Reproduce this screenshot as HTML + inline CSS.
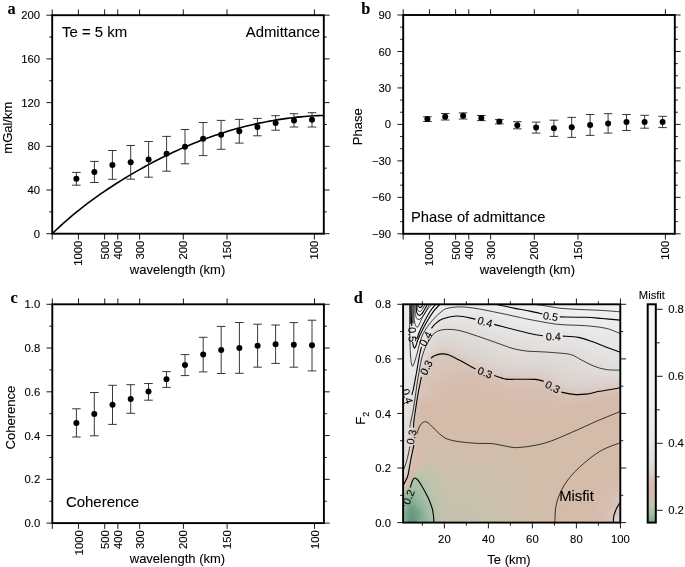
<!DOCTYPE html>
<html><head><meta charset="utf-8"><style>
html,body{margin:0;padding:0;background:#fff;}
svg{display:block;will-change:transform;}
text{font-family:"Liberation Sans",sans-serif;fill:#000;stroke:#000;stroke-width:0.1px;}
.pl{font-family:"Liberation Serif",serif;font-weight:bold;}
</style></head><body>
<svg width="685" height="567" viewBox="0 0 685 567">
<rect width="685" height="567" fill="#fff"/>
<line x1="46.40" y1="233.70" x2="52.20" y2="233.70" stroke="#000" stroke-width="0.9"/>
<line x1="323.80" y1="233.70" x2="329.60" y2="233.70" stroke="#000" stroke-width="0.9"/>
<text x="40.10" y="237.75" font-size="11.3" text-anchor="end" >0</text>
<line x1="49.20" y1="211.85" x2="52.20" y2="211.85" stroke="#000" stroke-width="0.9"/>
<line x1="323.80" y1="211.85" x2="326.80" y2="211.85" stroke="#000" stroke-width="0.9"/>
<line x1="46.40" y1="190.00" x2="52.20" y2="190.00" stroke="#000" stroke-width="0.9"/>
<line x1="323.80" y1="190.00" x2="329.60" y2="190.00" stroke="#000" stroke-width="0.9"/>
<text x="40.10" y="194.05" font-size="11.3" text-anchor="end" >40</text>
<line x1="49.20" y1="168.15" x2="52.20" y2="168.15" stroke="#000" stroke-width="0.9"/>
<line x1="323.80" y1="168.15" x2="326.80" y2="168.15" stroke="#000" stroke-width="0.9"/>
<line x1="46.40" y1="146.30" x2="52.20" y2="146.30" stroke="#000" stroke-width="0.9"/>
<line x1="323.80" y1="146.30" x2="329.60" y2="146.30" stroke="#000" stroke-width="0.9"/>
<text x="40.10" y="150.35" font-size="11.3" text-anchor="end" >80</text>
<line x1="49.20" y1="124.45" x2="52.20" y2="124.45" stroke="#000" stroke-width="0.9"/>
<line x1="323.80" y1="124.45" x2="326.80" y2="124.45" stroke="#000" stroke-width="0.9"/>
<line x1="46.40" y1="102.60" x2="52.20" y2="102.60" stroke="#000" stroke-width="0.9"/>
<line x1="323.80" y1="102.60" x2="329.60" y2="102.60" stroke="#000" stroke-width="0.9"/>
<text x="40.10" y="106.65" font-size="11.3" text-anchor="end" >120</text>
<line x1="49.20" y1="80.75" x2="52.20" y2="80.75" stroke="#000" stroke-width="0.9"/>
<line x1="323.80" y1="80.75" x2="326.80" y2="80.75" stroke="#000" stroke-width="0.9"/>
<line x1="46.40" y1="58.90" x2="52.20" y2="58.90" stroke="#000" stroke-width="0.9"/>
<line x1="323.80" y1="58.90" x2="329.60" y2="58.90" stroke="#000" stroke-width="0.9"/>
<text x="40.10" y="62.95" font-size="11.3" text-anchor="end" >160</text>
<line x1="49.20" y1="37.05" x2="52.20" y2="37.05" stroke="#000" stroke-width="0.9"/>
<line x1="323.80" y1="37.05" x2="326.80" y2="37.05" stroke="#000" stroke-width="0.9"/>
<line x1="46.40" y1="15.20" x2="52.20" y2="15.20" stroke="#000" stroke-width="0.9"/>
<line x1="323.80" y1="15.20" x2="329.60" y2="15.20" stroke="#000" stroke-width="0.9"/>
<text x="40.10" y="19.25" font-size="11.3" text-anchor="end" >200</text>
<line x1="52.20" y1="233.70" x2="52.20" y2="239.50" stroke="#000" stroke-width="0.9"/>
<line x1="52.20" y1="9.40" x2="52.20" y2="15.20" stroke="#000" stroke-width="0.9"/>
<line x1="78.42" y1="233.70" x2="78.42" y2="239.50" stroke="#000" stroke-width="0.9"/>
<line x1="78.42" y1="9.40" x2="78.42" y2="15.20" stroke="#000" stroke-width="0.9"/>
<text transform="translate(82.47,240.70) rotate(-90)" font-size="11.3" text-anchor="end">1000</text>
<line x1="104.64" y1="233.70" x2="104.64" y2="239.50" stroke="#000" stroke-width="0.9"/>
<line x1="104.64" y1="9.40" x2="104.64" y2="15.20" stroke="#000" stroke-width="0.9"/>
<text transform="translate(108.69,240.70) rotate(-90)" font-size="11.3" text-anchor="end">500</text>
<line x1="117.75" y1="233.70" x2="117.75" y2="239.50" stroke="#000" stroke-width="0.9"/>
<line x1="117.75" y1="9.40" x2="117.75" y2="15.20" stroke="#000" stroke-width="0.9"/>
<text transform="translate(121.80,240.70) rotate(-90)" font-size="11.3" text-anchor="end">400</text>
<line x1="139.60" y1="233.70" x2="139.60" y2="239.50" stroke="#000" stroke-width="0.9"/>
<line x1="139.60" y1="9.40" x2="139.60" y2="15.20" stroke="#000" stroke-width="0.9"/>
<text transform="translate(143.65,240.70) rotate(-90)" font-size="11.3" text-anchor="end">300</text>
<line x1="183.30" y1="233.70" x2="183.30" y2="239.50" stroke="#000" stroke-width="0.9"/>
<line x1="183.30" y1="9.40" x2="183.30" y2="15.20" stroke="#000" stroke-width="0.9"/>
<text transform="translate(187.35,240.70) rotate(-90)" font-size="11.3" text-anchor="end">200</text>
<line x1="227.00" y1="233.70" x2="227.00" y2="239.50" stroke="#000" stroke-width="0.9"/>
<line x1="227.00" y1="9.40" x2="227.00" y2="15.20" stroke="#000" stroke-width="0.9"/>
<text transform="translate(231.05,240.70) rotate(-90)" font-size="11.3" text-anchor="end">150</text>
<line x1="314.40" y1="233.70" x2="314.40" y2="239.50" stroke="#000" stroke-width="0.9"/>
<line x1="314.40" y1="9.40" x2="314.40" y2="15.20" stroke="#000" stroke-width="0.9"/>
<text transform="translate(318.45,240.70) rotate(-90)" font-size="11.3" text-anchor="end">100</text>
<clipPath id="ca"><rect x="52.2" y="15.2" width="271.6" height="218.5"/></clipPath>
<polyline points="52.30,233.60 55.75,230.28 59.20,227.05 62.66,223.91 66.11,220.84 69.56,217.85 73.01,214.93 76.46,212.08 79.92,209.31 83.37,206.59 86.82,203.95 90.27,201.36 93.72,198.83 97.17,196.36 100.63,193.94 104.08,191.57 107.53,189.24 110.98,186.97 114.43,184.73 117.89,182.54 121.34,180.38 124.79,178.26 128.24,176.17 131.69,174.12 135.15,172.10 138.60,170.12 142.05,168.18 145.50,166.27 148.95,164.40 152.41,162.56 155.86,160.76 159.31,158.99 162.76,157.26 166.21,155.56 169.66,153.91 173.12,152.28 176.57,150.69 180.02,149.14 183.47,147.62 186.92,146.14 190.38,144.70 193.83,143.28 197.28,141.91 200.73,140.57 204.18,139.26 207.64,137.99 211.09,136.76 214.54,135.56 217.99,134.39 221.44,133.26 224.89,132.17 228.35,131.11 231.80,130.08 235.25,129.09 238.70,128.14 242.15,127.22 245.61,126.33 249.06,125.48 252.51,124.66 255.96,123.88 259.41,123.13 262.87,122.42 266.32,121.74 269.77,121.09 273.22,120.48 276.67,119.91 280.13,119.37 283.58,118.86 287.03,118.38 290.48,117.94 293.93,117.54 297.38,117.17 300.84,116.83 304.29,116.53 307.74,116.26 311.19,116.02 314.64,115.82 318.10,115.65 321.55,115.52 325.00,115.42" fill="none" stroke="#000" stroke-width="1.6" stroke-linejoin="round" clip-path="url(#ca)"/>
<line x1="76.40" y1="172.40" x2="76.40" y2="185.20" stroke="#222" stroke-width="0.9"/>
<line x1="72.10" y1="172.40" x2="80.70" y2="172.40" stroke="#222" stroke-width="0.9"/>
<line x1="72.10" y1="185.20" x2="80.70" y2="185.20" stroke="#222" stroke-width="0.9"/>
<circle cx="76.40" cy="178.70" r="3.0" fill="#000"/>
<line x1="94.40" y1="161.40" x2="94.40" y2="182.50" stroke="#222" stroke-width="0.9"/>
<line x1="90.10" y1="161.40" x2="98.70" y2="161.40" stroke="#222" stroke-width="0.9"/>
<line x1="90.10" y1="182.50" x2="98.70" y2="182.50" stroke="#222" stroke-width="0.9"/>
<circle cx="94.40" cy="171.90" r="3.0" fill="#000"/>
<line x1="112.40" y1="150.50" x2="112.40" y2="179.30" stroke="#222" stroke-width="0.9"/>
<line x1="108.10" y1="150.50" x2="116.70" y2="150.50" stroke="#222" stroke-width="0.9"/>
<line x1="108.10" y1="179.30" x2="116.70" y2="179.30" stroke="#222" stroke-width="0.9"/>
<circle cx="112.40" cy="165.00" r="3.0" fill="#000"/>
<line x1="130.70" y1="145.50" x2="130.70" y2="179.20" stroke="#222" stroke-width="0.9"/>
<line x1="126.40" y1="145.50" x2="135.00" y2="145.50" stroke="#222" stroke-width="0.9"/>
<line x1="126.40" y1="179.20" x2="135.00" y2="179.20" stroke="#222" stroke-width="0.9"/>
<circle cx="130.70" cy="162.20" r="3.0" fill="#000"/>
<line x1="148.60" y1="141.50" x2="148.60" y2="177.20" stroke="#222" stroke-width="0.9"/>
<line x1="144.30" y1="141.50" x2="152.90" y2="141.50" stroke="#222" stroke-width="0.9"/>
<line x1="144.30" y1="177.20" x2="152.90" y2="177.20" stroke="#222" stroke-width="0.9"/>
<circle cx="148.60" cy="159.40" r="3.0" fill="#000"/>
<line x1="166.60" y1="136.40" x2="166.60" y2="171.20" stroke="#222" stroke-width="0.9"/>
<line x1="162.30" y1="136.40" x2="170.90" y2="136.40" stroke="#222" stroke-width="0.9"/>
<line x1="162.30" y1="171.20" x2="170.90" y2="171.20" stroke="#222" stroke-width="0.9"/>
<circle cx="166.60" cy="153.70" r="3.0" fill="#000"/>
<line x1="185.00" y1="129.50" x2="185.00" y2="163.80" stroke="#222" stroke-width="0.9"/>
<line x1="180.70" y1="129.50" x2="189.30" y2="129.50" stroke="#222" stroke-width="0.9"/>
<line x1="180.70" y1="163.80" x2="189.30" y2="163.80" stroke="#222" stroke-width="0.9"/>
<circle cx="185.00" cy="146.70" r="3.0" fill="#000"/>
<line x1="203.10" y1="122.50" x2="203.10" y2="155.60" stroke="#222" stroke-width="0.9"/>
<line x1="198.80" y1="122.50" x2="207.40" y2="122.50" stroke="#222" stroke-width="0.9"/>
<line x1="198.80" y1="155.60" x2="207.40" y2="155.60" stroke="#222" stroke-width="0.9"/>
<circle cx="203.10" cy="138.80" r="3.0" fill="#000"/>
<line x1="221.10" y1="120.40" x2="221.10" y2="149.30" stroke="#222" stroke-width="0.9"/>
<line x1="216.80" y1="120.40" x2="225.40" y2="120.40" stroke="#222" stroke-width="0.9"/>
<line x1="216.80" y1="149.30" x2="225.40" y2="149.30" stroke="#222" stroke-width="0.9"/>
<circle cx="221.10" cy="134.70" r="3.0" fill="#000"/>
<line x1="239.30" y1="119.40" x2="239.30" y2="143.10" stroke="#222" stroke-width="0.9"/>
<line x1="235.00" y1="119.40" x2="243.60" y2="119.40" stroke="#222" stroke-width="0.9"/>
<line x1="235.00" y1="143.10" x2="243.60" y2="143.10" stroke="#222" stroke-width="0.9"/>
<circle cx="239.30" cy="131.30" r="3.0" fill="#000"/>
<line x1="257.40" y1="118.40" x2="257.40" y2="135.80" stroke="#222" stroke-width="0.9"/>
<line x1="253.10" y1="118.40" x2="261.70" y2="118.40" stroke="#222" stroke-width="0.9"/>
<line x1="253.10" y1="135.80" x2="261.70" y2="135.80" stroke="#222" stroke-width="0.9"/>
<circle cx="257.40" cy="127.00" r="3.0" fill="#000"/>
<line x1="275.60" y1="115.70" x2="275.60" y2="130.20" stroke="#222" stroke-width="0.9"/>
<line x1="271.30" y1="115.70" x2="279.90" y2="115.70" stroke="#222" stroke-width="0.9"/>
<line x1="271.30" y1="130.20" x2="279.90" y2="130.20" stroke="#222" stroke-width="0.9"/>
<circle cx="275.60" cy="122.90" r="3.0" fill="#000"/>
<line x1="294.00" y1="113.70" x2="294.00" y2="127.00" stroke="#222" stroke-width="0.9"/>
<line x1="289.70" y1="113.70" x2="298.30" y2="113.70" stroke="#222" stroke-width="0.9"/>
<line x1="289.70" y1="127.00" x2="298.30" y2="127.00" stroke="#222" stroke-width="0.9"/>
<circle cx="294.00" cy="120.40" r="3.0" fill="#000"/>
<line x1="312.00" y1="112.70" x2="312.00" y2="127.00" stroke="#222" stroke-width="0.9"/>
<line x1="307.70" y1="112.70" x2="316.30" y2="112.70" stroke="#222" stroke-width="0.9"/>
<line x1="307.70" y1="127.00" x2="316.30" y2="127.00" stroke="#222" stroke-width="0.9"/>
<circle cx="312.00" cy="119.80" r="3.0" fill="#000"/>
<rect x="52.20" y="15.20" width="271.60" height="218.50" fill="none" stroke="#000" stroke-width="1.9"/>
<text x="62.00" y="36.60" font-size="15.0" text-anchor="start" textLength="65.2" lengthAdjust="spacingAndGlyphs">Te = 5 km</text>
<text x="245.80" y="36.50" font-size="15.0" text-anchor="start" textLength="74.3" lengthAdjust="spacingAndGlyphs">Admittance</text>
<text transform="translate(11.50,127.70) rotate(-90)" font-size="13.0" text-anchor="middle">mGal/km</text>
<text x="177.55" y="274.30" font-size="13.0" text-anchor="middle" >wavelength (km)</text>
<text x="7.5" y="13.8" font-size="16.3" class="pl">a</text>
<line x1="397.40" y1="233.80" x2="403.20" y2="233.80" stroke="#000" stroke-width="0.9"/>
<line x1="674.80" y1="233.80" x2="680.60" y2="233.80" stroke="#000" stroke-width="0.9"/>
<text x="391.10" y="237.85" font-size="11.3" text-anchor="end" >&#8722;90</text>
<line x1="400.20" y1="221.64" x2="403.20" y2="221.64" stroke="#000" stroke-width="0.9"/>
<line x1="674.80" y1="221.64" x2="677.80" y2="221.64" stroke="#000" stroke-width="0.9"/>
<line x1="400.20" y1="209.49" x2="403.20" y2="209.49" stroke="#000" stroke-width="0.9"/>
<line x1="674.80" y1="209.49" x2="677.80" y2="209.49" stroke="#000" stroke-width="0.9"/>
<line x1="397.40" y1="197.33" x2="403.20" y2="197.33" stroke="#000" stroke-width="0.9"/>
<line x1="674.80" y1="197.33" x2="680.60" y2="197.33" stroke="#000" stroke-width="0.9"/>
<text x="391.10" y="201.38" font-size="11.3" text-anchor="end" >&#8722;60</text>
<line x1="400.20" y1="185.18" x2="403.20" y2="185.18" stroke="#000" stroke-width="0.9"/>
<line x1="674.80" y1="185.18" x2="677.80" y2="185.18" stroke="#000" stroke-width="0.9"/>
<line x1="400.20" y1="173.02" x2="403.20" y2="173.02" stroke="#000" stroke-width="0.9"/>
<line x1="674.80" y1="173.02" x2="677.80" y2="173.02" stroke="#000" stroke-width="0.9"/>
<line x1="397.40" y1="160.87" x2="403.20" y2="160.87" stroke="#000" stroke-width="0.9"/>
<line x1="674.80" y1="160.87" x2="680.60" y2="160.87" stroke="#000" stroke-width="0.9"/>
<text x="391.10" y="164.92" font-size="11.3" text-anchor="end" >&#8722;30</text>
<line x1="400.20" y1="148.71" x2="403.20" y2="148.71" stroke="#000" stroke-width="0.9"/>
<line x1="674.80" y1="148.71" x2="677.80" y2="148.71" stroke="#000" stroke-width="0.9"/>
<line x1="400.20" y1="136.56" x2="403.20" y2="136.56" stroke="#000" stroke-width="0.9"/>
<line x1="674.80" y1="136.56" x2="677.80" y2="136.56" stroke="#000" stroke-width="0.9"/>
<line x1="397.40" y1="124.40" x2="403.20" y2="124.40" stroke="#000" stroke-width="0.9"/>
<line x1="674.80" y1="124.40" x2="680.60" y2="124.40" stroke="#000" stroke-width="0.9"/>
<text x="391.10" y="128.45" font-size="11.3" text-anchor="end" >0</text>
<line x1="400.20" y1="112.24" x2="403.20" y2="112.24" stroke="#000" stroke-width="0.9"/>
<line x1="674.80" y1="112.24" x2="677.80" y2="112.24" stroke="#000" stroke-width="0.9"/>
<line x1="400.20" y1="100.09" x2="403.20" y2="100.09" stroke="#000" stroke-width="0.9"/>
<line x1="674.80" y1="100.09" x2="677.80" y2="100.09" stroke="#000" stroke-width="0.9"/>
<line x1="397.40" y1="87.93" x2="403.20" y2="87.93" stroke="#000" stroke-width="0.9"/>
<line x1="674.80" y1="87.93" x2="680.60" y2="87.93" stroke="#000" stroke-width="0.9"/>
<text x="391.10" y="91.98" font-size="11.3" text-anchor="end" >30</text>
<line x1="400.20" y1="75.78" x2="403.20" y2="75.78" stroke="#000" stroke-width="0.9"/>
<line x1="674.80" y1="75.78" x2="677.80" y2="75.78" stroke="#000" stroke-width="0.9"/>
<line x1="400.20" y1="63.62" x2="403.20" y2="63.62" stroke="#000" stroke-width="0.9"/>
<line x1="674.80" y1="63.62" x2="677.80" y2="63.62" stroke="#000" stroke-width="0.9"/>
<line x1="397.40" y1="51.47" x2="403.20" y2="51.47" stroke="#000" stroke-width="0.9"/>
<line x1="674.80" y1="51.47" x2="680.60" y2="51.47" stroke="#000" stroke-width="0.9"/>
<text x="391.10" y="55.52" font-size="11.3" text-anchor="end" >60</text>
<line x1="400.20" y1="39.31" x2="403.20" y2="39.31" stroke="#000" stroke-width="0.9"/>
<line x1="674.80" y1="39.31" x2="677.80" y2="39.31" stroke="#000" stroke-width="0.9"/>
<line x1="400.20" y1="27.16" x2="403.20" y2="27.16" stroke="#000" stroke-width="0.9"/>
<line x1="674.80" y1="27.16" x2="677.80" y2="27.16" stroke="#000" stroke-width="0.9"/>
<line x1="397.40" y1="15.00" x2="403.20" y2="15.00" stroke="#000" stroke-width="0.9"/>
<line x1="674.80" y1="15.00" x2="680.60" y2="15.00" stroke="#000" stroke-width="0.9"/>
<text x="391.10" y="19.05" font-size="11.3" text-anchor="end" >90</text>
<line x1="403.20" y1="233.80" x2="403.20" y2="239.60" stroke="#000" stroke-width="0.9"/>
<line x1="403.20" y1="9.20" x2="403.20" y2="15.00" stroke="#000" stroke-width="0.9"/>
<line x1="429.42" y1="233.80" x2="429.42" y2="239.60" stroke="#000" stroke-width="0.9"/>
<line x1="429.42" y1="9.20" x2="429.42" y2="15.00" stroke="#000" stroke-width="0.9"/>
<text transform="translate(433.47,240.80) rotate(-90)" font-size="11.3" text-anchor="end">1000</text>
<line x1="455.64" y1="233.80" x2="455.64" y2="239.60" stroke="#000" stroke-width="0.9"/>
<line x1="455.64" y1="9.20" x2="455.64" y2="15.00" stroke="#000" stroke-width="0.9"/>
<text transform="translate(459.69,240.80) rotate(-90)" font-size="11.3" text-anchor="end">500</text>
<line x1="468.75" y1="233.80" x2="468.75" y2="239.60" stroke="#000" stroke-width="0.9"/>
<line x1="468.75" y1="9.20" x2="468.75" y2="15.00" stroke="#000" stroke-width="0.9"/>
<text transform="translate(472.80,240.80) rotate(-90)" font-size="11.3" text-anchor="end">400</text>
<line x1="490.60" y1="233.80" x2="490.60" y2="239.60" stroke="#000" stroke-width="0.9"/>
<line x1="490.60" y1="9.20" x2="490.60" y2="15.00" stroke="#000" stroke-width="0.9"/>
<text transform="translate(494.65,240.80) rotate(-90)" font-size="11.3" text-anchor="end">300</text>
<line x1="534.30" y1="233.80" x2="534.30" y2="239.60" stroke="#000" stroke-width="0.9"/>
<line x1="534.30" y1="9.20" x2="534.30" y2="15.00" stroke="#000" stroke-width="0.9"/>
<text transform="translate(538.35,240.80) rotate(-90)" font-size="11.3" text-anchor="end">200</text>
<line x1="578.00" y1="233.80" x2="578.00" y2="239.60" stroke="#000" stroke-width="0.9"/>
<line x1="578.00" y1="9.20" x2="578.00" y2="15.00" stroke="#000" stroke-width="0.9"/>
<text transform="translate(582.05,240.80) rotate(-90)" font-size="11.3" text-anchor="end">150</text>
<line x1="665.40" y1="233.80" x2="665.40" y2="239.60" stroke="#000" stroke-width="0.9"/>
<line x1="665.40" y1="9.20" x2="665.40" y2="15.00" stroke="#000" stroke-width="0.9"/>
<text transform="translate(669.45,240.80) rotate(-90)" font-size="11.3" text-anchor="end">100</text>
<line x1="427.40" y1="116.80" x2="427.40" y2="121.50" stroke="#222" stroke-width="0.9"/>
<line x1="423.10" y1="116.80" x2="431.70" y2="116.80" stroke="#222" stroke-width="0.9"/>
<line x1="423.10" y1="121.50" x2="431.70" y2="121.50" stroke="#222" stroke-width="0.9"/>
<circle cx="427.40" cy="119.00" r="3.0" fill="#000"/>
<line x1="445.20" y1="113.50" x2="445.20" y2="120.00" stroke="#222" stroke-width="0.9"/>
<line x1="440.90" y1="113.50" x2="449.50" y2="113.50" stroke="#222" stroke-width="0.9"/>
<line x1="440.90" y1="120.00" x2="449.50" y2="120.00" stroke="#222" stroke-width="0.9"/>
<circle cx="445.20" cy="116.80" r="3.0" fill="#000"/>
<line x1="463.10" y1="112.90" x2="463.10" y2="119.00" stroke="#222" stroke-width="0.9"/>
<line x1="458.80" y1="112.90" x2="467.40" y2="112.90" stroke="#222" stroke-width="0.9"/>
<line x1="458.80" y1="119.00" x2="467.40" y2="119.00" stroke="#222" stroke-width="0.9"/>
<circle cx="463.10" cy="115.70" r="3.0" fill="#000"/>
<line x1="481.30" y1="115.50" x2="481.30" y2="120.60" stroke="#222" stroke-width="0.9"/>
<line x1="477.00" y1="115.50" x2="485.60" y2="115.50" stroke="#222" stroke-width="0.9"/>
<line x1="477.00" y1="120.60" x2="485.60" y2="120.60" stroke="#222" stroke-width="0.9"/>
<circle cx="481.30" cy="118.00" r="3.0" fill="#000"/>
<line x1="499.30" y1="119.60" x2="499.30" y2="123.90" stroke="#222" stroke-width="0.9"/>
<line x1="495.00" y1="119.60" x2="503.60" y2="119.60" stroke="#222" stroke-width="0.9"/>
<line x1="495.00" y1="123.90" x2="503.60" y2="123.90" stroke="#222" stroke-width="0.9"/>
<circle cx="499.30" cy="121.50" r="3.0" fill="#000"/>
<line x1="517.30" y1="121.70" x2="517.30" y2="128.80" stroke="#222" stroke-width="0.9"/>
<line x1="513.00" y1="121.70" x2="521.60" y2="121.70" stroke="#222" stroke-width="0.9"/>
<line x1="513.00" y1="128.80" x2="521.60" y2="128.80" stroke="#222" stroke-width="0.9"/>
<circle cx="517.30" cy="125.30" r="3.0" fill="#000"/>
<line x1="536.10" y1="122.10" x2="536.10" y2="133.10" stroke="#222" stroke-width="0.9"/>
<line x1="531.80" y1="122.10" x2="540.40" y2="122.10" stroke="#222" stroke-width="0.9"/>
<line x1="531.80" y1="133.10" x2="540.40" y2="133.10" stroke="#222" stroke-width="0.9"/>
<circle cx="536.10" cy="127.60" r="3.0" fill="#000"/>
<line x1="553.90" y1="120.20" x2="553.90" y2="136.40" stroke="#222" stroke-width="0.9"/>
<line x1="549.60" y1="120.20" x2="558.20" y2="120.20" stroke="#222" stroke-width="0.9"/>
<line x1="549.60" y1="136.40" x2="558.20" y2="136.40" stroke="#222" stroke-width="0.9"/>
<circle cx="553.90" cy="128.20" r="3.0" fill="#000"/>
<line x1="571.70" y1="117.40" x2="571.70" y2="137.40" stroke="#222" stroke-width="0.9"/>
<line x1="567.40" y1="117.40" x2="576.00" y2="117.40" stroke="#222" stroke-width="0.9"/>
<line x1="567.40" y1="137.40" x2="576.00" y2="137.40" stroke="#222" stroke-width="0.9"/>
<circle cx="571.70" cy="127.20" r="3.0" fill="#000"/>
<line x1="590.10" y1="114.50" x2="590.10" y2="135.40" stroke="#222" stroke-width="0.9"/>
<line x1="585.80" y1="114.50" x2="594.40" y2="114.50" stroke="#222" stroke-width="0.9"/>
<line x1="585.80" y1="135.40" x2="594.40" y2="135.40" stroke="#222" stroke-width="0.9"/>
<circle cx="590.10" cy="125.10" r="3.0" fill="#000"/>
<line x1="608.10" y1="113.70" x2="608.10" y2="133.10" stroke="#222" stroke-width="0.9"/>
<line x1="603.80" y1="113.70" x2="612.40" y2="113.70" stroke="#222" stroke-width="0.9"/>
<line x1="603.80" y1="133.10" x2="612.40" y2="133.10" stroke="#222" stroke-width="0.9"/>
<circle cx="608.10" cy="123.50" r="3.0" fill="#000"/>
<line x1="626.50" y1="114.50" x2="626.50" y2="130.50" stroke="#222" stroke-width="0.9"/>
<line x1="622.20" y1="114.50" x2="630.80" y2="114.50" stroke="#222" stroke-width="0.9"/>
<line x1="622.20" y1="130.50" x2="630.80" y2="130.50" stroke="#222" stroke-width="0.9"/>
<circle cx="626.50" cy="122.10" r="3.0" fill="#000"/>
<line x1="644.60" y1="115.30" x2="644.60" y2="128.20" stroke="#222" stroke-width="0.9"/>
<line x1="640.30" y1="115.30" x2="648.90" y2="115.30" stroke="#222" stroke-width="0.9"/>
<line x1="640.30" y1="128.20" x2="648.90" y2="128.20" stroke="#222" stroke-width="0.9"/>
<circle cx="644.60" cy="121.90" r="3.0" fill="#000"/>
<line x1="662.60" y1="116.30" x2="662.60" y2="127.60" stroke="#222" stroke-width="0.9"/>
<line x1="658.30" y1="116.30" x2="666.90" y2="116.30" stroke="#222" stroke-width="0.9"/>
<line x1="658.30" y1="127.60" x2="666.90" y2="127.60" stroke="#222" stroke-width="0.9"/>
<circle cx="662.60" cy="121.90" r="3.0" fill="#000"/>
<rect x="403.20" y="15.00" width="271.60" height="218.80" fill="none" stroke="#000" stroke-width="1.9"/>
<text x="411.00" y="221.50" font-size="15.0" text-anchor="start" textLength="134.4" lengthAdjust="spacingAndGlyphs">Phase of admittance</text>
<text transform="translate(362.20,126.70) rotate(-90)" font-size="13.0" text-anchor="middle">Phase</text>
<text x="527.35" y="274.30" font-size="13.0" text-anchor="middle" >wavelength (km)</text>
<text x="361.3" y="13.9" font-size="16.3" class="pl">b</text>
<line x1="46.50" y1="523.10" x2="52.30" y2="523.10" stroke="#000" stroke-width="0.9"/>
<line x1="323.90" y1="523.10" x2="329.70" y2="523.10" stroke="#000" stroke-width="0.9"/>
<text x="40.20" y="527.15" font-size="11.3" text-anchor="end" >0.0</text>
<line x1="49.30" y1="501.22" x2="52.30" y2="501.22" stroke="#000" stroke-width="0.9"/>
<line x1="323.90" y1="501.22" x2="326.90" y2="501.22" stroke="#000" stroke-width="0.9"/>
<line x1="46.50" y1="479.34" x2="52.30" y2="479.34" stroke="#000" stroke-width="0.9"/>
<line x1="323.90" y1="479.34" x2="329.70" y2="479.34" stroke="#000" stroke-width="0.9"/>
<text x="40.20" y="483.39" font-size="11.3" text-anchor="end" >0.2</text>
<line x1="49.30" y1="457.46" x2="52.30" y2="457.46" stroke="#000" stroke-width="0.9"/>
<line x1="323.90" y1="457.46" x2="326.90" y2="457.46" stroke="#000" stroke-width="0.9"/>
<line x1="46.50" y1="435.58" x2="52.30" y2="435.58" stroke="#000" stroke-width="0.9"/>
<line x1="323.90" y1="435.58" x2="329.70" y2="435.58" stroke="#000" stroke-width="0.9"/>
<text x="40.20" y="439.63" font-size="11.3" text-anchor="end" >0.4</text>
<line x1="49.30" y1="413.70" x2="52.30" y2="413.70" stroke="#000" stroke-width="0.9"/>
<line x1="323.90" y1="413.70" x2="326.90" y2="413.70" stroke="#000" stroke-width="0.9"/>
<line x1="46.50" y1="391.82" x2="52.30" y2="391.82" stroke="#000" stroke-width="0.9"/>
<line x1="323.90" y1="391.82" x2="329.70" y2="391.82" stroke="#000" stroke-width="0.9"/>
<text x="40.20" y="395.87" font-size="11.3" text-anchor="end" >0.6</text>
<line x1="49.30" y1="369.94" x2="52.30" y2="369.94" stroke="#000" stroke-width="0.9"/>
<line x1="323.90" y1="369.94" x2="326.90" y2="369.94" stroke="#000" stroke-width="0.9"/>
<line x1="46.50" y1="348.06" x2="52.30" y2="348.06" stroke="#000" stroke-width="0.9"/>
<line x1="323.90" y1="348.06" x2="329.70" y2="348.06" stroke="#000" stroke-width="0.9"/>
<text x="40.20" y="352.11" font-size="11.3" text-anchor="end" >0.8</text>
<line x1="49.30" y1="326.18" x2="52.30" y2="326.18" stroke="#000" stroke-width="0.9"/>
<line x1="323.90" y1="326.18" x2="326.90" y2="326.18" stroke="#000" stroke-width="0.9"/>
<line x1="46.50" y1="304.30" x2="52.30" y2="304.30" stroke="#000" stroke-width="0.9"/>
<line x1="323.90" y1="304.30" x2="329.70" y2="304.30" stroke="#000" stroke-width="0.9"/>
<text x="40.20" y="308.35" font-size="11.3" text-anchor="end" >1.0</text>
<line x1="52.30" y1="523.10" x2="52.30" y2="528.90" stroke="#000" stroke-width="0.9"/>
<line x1="52.30" y1="298.50" x2="52.30" y2="304.30" stroke="#000" stroke-width="0.9"/>
<line x1="78.52" y1="523.10" x2="78.52" y2="528.90" stroke="#000" stroke-width="0.9"/>
<line x1="78.52" y1="298.50" x2="78.52" y2="304.30" stroke="#000" stroke-width="0.9"/>
<text transform="translate(82.57,530.10) rotate(-90)" font-size="11.3" text-anchor="end">1000</text>
<line x1="104.74" y1="523.10" x2="104.74" y2="528.90" stroke="#000" stroke-width="0.9"/>
<line x1="104.74" y1="298.50" x2="104.74" y2="304.30" stroke="#000" stroke-width="0.9"/>
<text transform="translate(108.79,530.10) rotate(-90)" font-size="11.3" text-anchor="end">500</text>
<line x1="117.85" y1="523.10" x2="117.85" y2="528.90" stroke="#000" stroke-width="0.9"/>
<line x1="117.85" y1="298.50" x2="117.85" y2="304.30" stroke="#000" stroke-width="0.9"/>
<text transform="translate(121.90,530.10) rotate(-90)" font-size="11.3" text-anchor="end">400</text>
<line x1="139.70" y1="523.10" x2="139.70" y2="528.90" stroke="#000" stroke-width="0.9"/>
<line x1="139.70" y1="298.50" x2="139.70" y2="304.30" stroke="#000" stroke-width="0.9"/>
<text transform="translate(143.75,530.10) rotate(-90)" font-size="11.3" text-anchor="end">300</text>
<line x1="183.40" y1="523.10" x2="183.40" y2="528.90" stroke="#000" stroke-width="0.9"/>
<line x1="183.40" y1="298.50" x2="183.40" y2="304.30" stroke="#000" stroke-width="0.9"/>
<text transform="translate(187.45,530.10) rotate(-90)" font-size="11.3" text-anchor="end">200</text>
<line x1="227.10" y1="523.10" x2="227.10" y2="528.90" stroke="#000" stroke-width="0.9"/>
<line x1="227.10" y1="298.50" x2="227.10" y2="304.30" stroke="#000" stroke-width="0.9"/>
<text transform="translate(231.15,530.10) rotate(-90)" font-size="11.3" text-anchor="end">150</text>
<line x1="314.50" y1="523.10" x2="314.50" y2="528.90" stroke="#000" stroke-width="0.9"/>
<line x1="314.50" y1="298.50" x2="314.50" y2="304.30" stroke="#000" stroke-width="0.9"/>
<text transform="translate(318.55,530.10) rotate(-90)" font-size="11.3" text-anchor="end">100</text>
<line x1="76.40" y1="408.80" x2="76.40" y2="437.00" stroke="#222" stroke-width="0.9"/>
<line x1="72.10" y1="408.80" x2="80.70" y2="408.80" stroke="#222" stroke-width="0.9"/>
<line x1="72.10" y1="437.00" x2="80.70" y2="437.00" stroke="#222" stroke-width="0.9"/>
<circle cx="76.40" cy="423.10" r="3.0" fill="#000"/>
<line x1="94.30" y1="392.50" x2="94.30" y2="435.80" stroke="#222" stroke-width="0.9"/>
<line x1="90.00" y1="392.50" x2="98.60" y2="392.50" stroke="#222" stroke-width="0.9"/>
<line x1="90.00" y1="435.80" x2="98.60" y2="435.80" stroke="#222" stroke-width="0.9"/>
<circle cx="94.30" cy="413.90" r="3.0" fill="#000"/>
<line x1="112.50" y1="385.30" x2="112.50" y2="424.40" stroke="#222" stroke-width="0.9"/>
<line x1="108.20" y1="385.30" x2="116.80" y2="385.30" stroke="#222" stroke-width="0.9"/>
<line x1="108.20" y1="424.40" x2="116.80" y2="424.40" stroke="#222" stroke-width="0.9"/>
<circle cx="112.50" cy="404.70" r="3.0" fill="#000"/>
<line x1="130.70" y1="384.70" x2="130.70" y2="413.30" stroke="#222" stroke-width="0.9"/>
<line x1="126.40" y1="384.70" x2="135.00" y2="384.70" stroke="#222" stroke-width="0.9"/>
<line x1="126.40" y1="413.30" x2="135.00" y2="413.30" stroke="#222" stroke-width="0.9"/>
<circle cx="130.70" cy="399.00" r="3.0" fill="#000"/>
<line x1="148.50" y1="383.50" x2="148.50" y2="400.20" stroke="#222" stroke-width="0.9"/>
<line x1="144.20" y1="383.50" x2="152.80" y2="383.50" stroke="#222" stroke-width="0.9"/>
<line x1="144.20" y1="400.20" x2="152.80" y2="400.20" stroke="#222" stroke-width="0.9"/>
<circle cx="148.50" cy="391.50" r="3.0" fill="#000"/>
<line x1="166.50" y1="371.60" x2="166.50" y2="387.40" stroke="#222" stroke-width="0.9"/>
<line x1="162.20" y1="371.60" x2="170.80" y2="371.60" stroke="#222" stroke-width="0.9"/>
<line x1="162.20" y1="387.40" x2="170.80" y2="387.40" stroke="#222" stroke-width="0.9"/>
<circle cx="166.50" cy="379.20" r="3.0" fill="#000"/>
<line x1="185.00" y1="354.60" x2="185.00" y2="375.60" stroke="#222" stroke-width="0.9"/>
<line x1="180.70" y1="354.60" x2="189.30" y2="354.60" stroke="#222" stroke-width="0.9"/>
<line x1="180.70" y1="375.60" x2="189.30" y2="375.60" stroke="#222" stroke-width="0.9"/>
<circle cx="185.00" cy="365.10" r="3.0" fill="#000"/>
<line x1="203.20" y1="337.30" x2="203.20" y2="371.90" stroke="#222" stroke-width="0.9"/>
<line x1="198.90" y1="337.30" x2="207.50" y2="337.30" stroke="#222" stroke-width="0.9"/>
<line x1="198.90" y1="371.90" x2="207.50" y2="371.90" stroke="#222" stroke-width="0.9"/>
<circle cx="203.20" cy="354.60" r="3.0" fill="#000"/>
<line x1="221.20" y1="326.40" x2="221.20" y2="373.50" stroke="#222" stroke-width="0.9"/>
<line x1="216.90" y1="326.40" x2="225.50" y2="326.40" stroke="#222" stroke-width="0.9"/>
<line x1="216.90" y1="373.50" x2="225.50" y2="373.50" stroke="#222" stroke-width="0.9"/>
<circle cx="221.20" cy="349.90" r="3.0" fill="#000"/>
<line x1="239.40" y1="322.50" x2="239.40" y2="373.30" stroke="#222" stroke-width="0.9"/>
<line x1="235.10" y1="322.50" x2="243.70" y2="322.50" stroke="#222" stroke-width="0.9"/>
<line x1="235.10" y1="373.30" x2="243.70" y2="373.30" stroke="#222" stroke-width="0.9"/>
<circle cx="239.40" cy="348.00" r="3.0" fill="#000"/>
<line x1="257.60" y1="324.20" x2="257.60" y2="367.20" stroke="#222" stroke-width="0.9"/>
<line x1="253.30" y1="324.20" x2="261.90" y2="324.20" stroke="#222" stroke-width="0.9"/>
<line x1="253.30" y1="367.20" x2="261.90" y2="367.20" stroke="#222" stroke-width="0.9"/>
<circle cx="257.60" cy="345.70" r="3.0" fill="#000"/>
<line x1="275.60" y1="325.00" x2="275.60" y2="363.40" stroke="#222" stroke-width="0.9"/>
<line x1="271.30" y1="325.00" x2="279.90" y2="325.00" stroke="#222" stroke-width="0.9"/>
<line x1="271.30" y1="363.40" x2="279.90" y2="363.40" stroke="#222" stroke-width="0.9"/>
<circle cx="275.60" cy="344.30" r="3.0" fill="#000"/>
<line x1="293.80" y1="322.60" x2="293.80" y2="367.20" stroke="#222" stroke-width="0.9"/>
<line x1="289.50" y1="322.60" x2="298.10" y2="322.60" stroke="#222" stroke-width="0.9"/>
<line x1="289.50" y1="367.20" x2="298.10" y2="367.20" stroke="#222" stroke-width="0.9"/>
<circle cx="293.80" cy="344.80" r="3.0" fill="#000"/>
<line x1="312.00" y1="320.20" x2="312.00" y2="370.90" stroke="#222" stroke-width="0.9"/>
<line x1="307.70" y1="320.20" x2="316.30" y2="320.20" stroke="#222" stroke-width="0.9"/>
<line x1="307.70" y1="370.90" x2="316.30" y2="370.90" stroke="#222" stroke-width="0.9"/>
<circle cx="312.00" cy="345.20" r="3.0" fill="#000"/>
<rect x="52.30" y="304.30" width="271.60" height="218.80" fill="none" stroke="#000" stroke-width="1.9"/>
<text x="65.90" y="507.00" font-size="15.0" text-anchor="start" textLength="73.3" lengthAdjust="spacingAndGlyphs">Coherence</text>
<text transform="translate(15.40,417.60) rotate(-90)" font-size="13.0" text-anchor="middle">Coherence</text>
<text x="177.45" y="563.40" font-size="13.0" text-anchor="middle" >wavelength (km)</text>
<text x="10.4" y="302.8" font-size="16.3" class="pl">c</text>
<!--PANEL_D-->
<clipPath id="cd"><rect x="403.1" y="304.3" width="217.19999999999993" height="218.3"/></clipPath>
<filter id="bl" x="-5%" y="-5%" width="110%" height="110%"><feGaussianBlur stdDeviation="1.8"/></filter>
<g clip-path="url(#cd)"><g filter="url(#bl)" shape-rendering="crispEdges">
<rect x="395" y="296.3" width="4" height="4" fill="#ececeb"/>
<rect x="399" y="296.3" width="4" height="4" fill="#eaeae9"/>
<rect x="403" y="296.3" width="4" height="4" fill="#eaeae9"/>
<rect x="407" y="296.3" width="4" height="4" fill="#eaeae9"/>
<rect x="411" y="296.3" width="4" height="4" fill="#f2f2f1"/>
<rect x="415" y="296.3" width="4" height="4" fill="#f5f5f4"/>
<rect x="419" y="296.3" width="4" height="4" fill="#f7f7f6"/>
<rect x="423" y="296.3" width="4" height="4" fill="#f5f5f4"/>
<rect x="427" y="296.3" width="4" height="4" fill="#f3f3f2"/>
<rect x="431" y="296.3" width="4" height="4" fill="#f0f0ef"/>
<rect x="435" y="296.3" width="4" height="4" fill="#f2f2f1"/>
<rect x="439" y="296.3" width="4" height="4" fill="#eeeeed"/>
<rect x="443" y="296.3" width="4" height="4" fill="#eeeeed"/>
<rect x="447" y="296.3" width="4" height="4" fill="#eaeae9"/>
<rect x="451" y="296.3" width="4" height="4" fill="#eaeae9"/>
<rect x="455" y="296.3" width="4" height="4" fill="#eaeae9"/>
<rect x="459" y="296.3" width="4" height="4" fill="#eaeae9"/>
<rect x="463" y="296.3" width="4" height="4" fill="#ececeb"/>
<rect x="467" y="296.3" width="4" height="4" fill="#ececeb"/>
<rect x="471" y="296.3" width="4" height="4" fill="#ececeb"/>
<rect x="475" y="296.3" width="4" height="4" fill="#ececeb"/>
<rect x="479" y="296.3" width="4" height="4" fill="#eaeae9"/>
<rect x="483" y="296.3" width="4" height="4" fill="#eaeae9"/>
<rect x="487" y="296.3" width="4" height="4" fill="#eeeeed"/>
<rect x="491" y="296.3" width="4" height="4" fill="#eeeeed"/>
<rect x="495" y="296.3" width="4" height="4" fill="#eeeeed"/>
<rect x="499" y="296.3" width="4" height="4" fill="#eeeeed"/>
<rect x="503" y="296.3" width="4" height="4" fill="#eeeeed"/>
<rect x="507" y="296.3" width="4" height="4" fill="#eeeeed"/>
<rect x="511" y="296.3" width="4" height="4" fill="#eeeeed"/>
<rect x="515" y="296.3" width="4" height="4" fill="#eeeeed"/>
<rect x="519" y="296.3" width="4" height="4" fill="#eeeeed"/>
<rect x="523" y="296.3" width="4" height="4" fill="#f0f0ef"/>
<rect x="527" y="296.3" width="4" height="4" fill="#f0f0ef"/>
<rect x="531" y="296.3" width="4" height="4" fill="#f0f0ef"/>
<rect x="535" y="296.3" width="4" height="4" fill="#f0f0ef"/>
<rect x="539" y="296.3" width="4" height="4" fill="#f0f0ef"/>
<rect x="543" y="296.3" width="4" height="4" fill="#f0f0ef"/>
<rect x="547" y="296.3" width="4" height="4" fill="#f0f0ef"/>
<rect x="551" y="296.3" width="4" height="4" fill="#f0f0ef"/>
<rect x="555" y="296.3" width="4" height="4" fill="#f0f0ef"/>
<rect x="559" y="296.3" width="4" height="4" fill="#f0f0ef"/>
<rect x="563" y="296.3" width="4" height="4" fill="#f0f0ef"/>
<rect x="567" y="296.3" width="4" height="4" fill="#f0f0ef"/>
<rect x="571" y="296.3" width="4" height="4" fill="#f0f0ef"/>
<rect x="575" y="296.3" width="4" height="4" fill="#f0f0ef"/>
<rect x="579" y="296.3" width="4" height="4" fill="#f0f0ef"/>
<rect x="583" y="296.3" width="4" height="4" fill="#f0f0ef"/>
<rect x="587" y="296.3" width="4" height="4" fill="#f0f0ef"/>
<rect x="591" y="296.3" width="4" height="4" fill="#f0f0ef"/>
<rect x="595" y="296.3" width="4" height="4" fill="#f0f0ef"/>
<rect x="599" y="296.3" width="4" height="4" fill="#f0f0ef"/>
<rect x="603" y="296.3" width="4" height="4" fill="#f0f0ef"/>
<rect x="607" y="296.3" width="4" height="4" fill="#f0f0ef"/>
<rect x="611" y="296.3" width="4" height="4" fill="#f1f1f0"/>
<rect x="615" y="296.3" width="4" height="4" fill="#f1f1f0"/>
<rect x="619" y="296.3" width="4" height="4" fill="#f1f1f0"/>
<rect x="623" y="296.3" width="4" height="4" fill="#f1f1f0"/>
<rect x="627" y="296.3" width="4" height="4" fill="#f1f1f0"/>
<rect x="395" y="300.3" width="4" height="4" fill="#ececeb"/>
<rect x="399" y="300.3" width="4" height="4" fill="#ececeb"/>
<rect x="403" y="300.3" width="4" height="4" fill="#eaeae9"/>
<rect x="407" y="300.3" width="4" height="4" fill="#eaeae9"/>
<rect x="411" y="300.3" width="4" height="4" fill="#f2f2f1"/>
<rect x="415" y="300.3" width="4" height="4" fill="#f5f5f4"/>
<rect x="419" y="300.3" width="4" height="4" fill="#f7f7f6"/>
<rect x="423" y="300.3" width="4" height="4" fill="#f5f5f4"/>
<rect x="427" y="300.3" width="4" height="4" fill="#f3f3f2"/>
<rect x="431" y="300.3" width="4" height="4" fill="#f0f0ef"/>
<rect x="435" y="300.3" width="4" height="4" fill="#f2f2f1"/>
<rect x="439" y="300.3" width="4" height="4" fill="#eeeeed"/>
<rect x="443" y="300.3" width="4" height="4" fill="#eeeeed"/>
<rect x="447" y="300.3" width="4" height="4" fill="#eaeae9"/>
<rect x="451" y="300.3" width="4" height="4" fill="#eaeae9"/>
<rect x="455" y="300.3" width="4" height="4" fill="#eaeae9"/>
<rect x="459" y="300.3" width="4" height="4" fill="#eaeae9"/>
<rect x="463" y="300.3" width="4" height="4" fill="#eaeae9"/>
<rect x="467" y="300.3" width="4" height="4" fill="#ececeb"/>
<rect x="471" y="300.3" width="4" height="4" fill="#ececeb"/>
<rect x="475" y="300.3" width="4" height="4" fill="#eaeae9"/>
<rect x="479" y="300.3" width="4" height="4" fill="#eaeae9"/>
<rect x="483" y="300.3" width="4" height="4" fill="#eaeae9"/>
<rect x="487" y="300.3" width="4" height="4" fill="#eeeeed"/>
<rect x="491" y="300.3" width="4" height="4" fill="#eeeeed"/>
<rect x="495" y="300.3" width="4" height="4" fill="#eeeeed"/>
<rect x="499" y="300.3" width="4" height="4" fill="#eeeeed"/>
<rect x="503" y="300.3" width="4" height="4" fill="#eeeeed"/>
<rect x="507" y="300.3" width="4" height="4" fill="#eeeeed"/>
<rect x="511" y="300.3" width="4" height="4" fill="#eeeeed"/>
<rect x="515" y="300.3" width="4" height="4" fill="#eeeeed"/>
<rect x="519" y="300.3" width="4" height="4" fill="#eeeeed"/>
<rect x="523" y="300.3" width="4" height="4" fill="#eeeeed"/>
<rect x="527" y="300.3" width="4" height="4" fill="#f0f0ef"/>
<rect x="531" y="300.3" width="4" height="4" fill="#f0f0ef"/>
<rect x="535" y="300.3" width="4" height="4" fill="#f0f0ef"/>
<rect x="539" y="300.3" width="4" height="4" fill="#f0f0ef"/>
<rect x="543" y="300.3" width="4" height="4" fill="#f0f0ef"/>
<rect x="547" y="300.3" width="4" height="4" fill="#f0f0ef"/>
<rect x="551" y="300.3" width="4" height="4" fill="#f0f0ef"/>
<rect x="555" y="300.3" width="4" height="4" fill="#f0f0ef"/>
<rect x="559" y="300.3" width="4" height="4" fill="#f0f0ef"/>
<rect x="563" y="300.3" width="4" height="4" fill="#f0f0ef"/>
<rect x="567" y="300.3" width="4" height="4" fill="#f0f0ef"/>
<rect x="571" y="300.3" width="4" height="4" fill="#f0f0ef"/>
<rect x="575" y="300.3" width="4" height="4" fill="#f0f0ef"/>
<rect x="579" y="300.3" width="4" height="4" fill="#f0f0ef"/>
<rect x="583" y="300.3" width="4" height="4" fill="#f0f0ef"/>
<rect x="587" y="300.3" width="4" height="4" fill="#f0f0ef"/>
<rect x="591" y="300.3" width="4" height="4" fill="#f0f0ef"/>
<rect x="595" y="300.3" width="4" height="4" fill="#f0f0ef"/>
<rect x="599" y="300.3" width="4" height="4" fill="#f0f0ef"/>
<rect x="603" y="300.3" width="4" height="4" fill="#f0f0ef"/>
<rect x="607" y="300.3" width="4" height="4" fill="#f0f0ef"/>
<rect x="611" y="300.3" width="4" height="4" fill="#f1f1f0"/>
<rect x="615" y="300.3" width="4" height="4" fill="#f1f1f0"/>
<rect x="619" y="300.3" width="4" height="4" fill="#f1f1f0"/>
<rect x="623" y="300.3" width="4" height="4" fill="#f1f1f0"/>
<rect x="627" y="300.3" width="4" height="4" fill="#f1f1f0"/>
<rect x="395" y="304.3" width="4" height="4" fill="#ececeb"/>
<rect x="399" y="304.3" width="4" height="4" fill="#ececeb"/>
<rect x="403" y="304.3" width="4" height="4" fill="#ececeb"/>
<rect x="407" y="304.3" width="4" height="4" fill="#eaeae9"/>
<rect x="411" y="304.3" width="4" height="4" fill="#f2f2f1"/>
<rect x="415" y="304.3" width="4" height="4" fill="#f5f5f4"/>
<rect x="419" y="304.3" width="4" height="4" fill="#f7f7f6"/>
<rect x="423" y="304.3" width="4" height="4" fill="#f5f5f4"/>
<rect x="427" y="304.3" width="4" height="4" fill="#f2f2f1"/>
<rect x="431" y="304.3" width="4" height="4" fill="#f1f1f0"/>
<rect x="435" y="304.3" width="4" height="4" fill="#efefee"/>
<rect x="439" y="304.3" width="4" height="4" fill="#ededec"/>
<rect x="443" y="304.3" width="4" height="4" fill="#ececeb"/>
<rect x="447" y="304.3" width="4" height="4" fill="#ebebea"/>
<rect x="451" y="304.3" width="4" height="4" fill="#ebebea"/>
<rect x="455" y="304.3" width="4" height="4" fill="#ebebea"/>
<rect x="459" y="304.3" width="4" height="4" fill="#eaeae9"/>
<rect x="463" y="304.3" width="4" height="4" fill="#eaeae9"/>
<rect x="467" y="304.3" width="4" height="4" fill="#ebebea"/>
<rect x="471" y="304.3" width="4" height="4" fill="#ebebea"/>
<rect x="475" y="304.3" width="4" height="4" fill="#ebebea"/>
<rect x="479" y="304.3" width="4" height="4" fill="#ececeb"/>
<rect x="483" y="304.3" width="4" height="4" fill="#ececeb"/>
<rect x="487" y="304.3" width="4" height="4" fill="#ececeb"/>
<rect x="491" y="304.3" width="4" height="4" fill="#ededec"/>
<rect x="495" y="304.3" width="4" height="4" fill="#ededec"/>
<rect x="499" y="304.3" width="4" height="4" fill="#eeeeed"/>
<rect x="503" y="304.3" width="4" height="4" fill="#eeeeed"/>
<rect x="507" y="304.3" width="4" height="4" fill="#eeeeed"/>
<rect x="511" y="304.3" width="4" height="4" fill="#eeeeed"/>
<rect x="515" y="304.3" width="4" height="4" fill="#efefee"/>
<rect x="519" y="304.3" width="4" height="4" fill="#efefee"/>
<rect x="523" y="304.3" width="4" height="4" fill="#efefee"/>
<rect x="527" y="304.3" width="4" height="4" fill="#efefee"/>
<rect x="531" y="304.3" width="4" height="4" fill="#efefee"/>
<rect x="535" y="304.3" width="4" height="4" fill="#f0f0ef"/>
<rect x="539" y="304.3" width="4" height="4" fill="#f0f0ef"/>
<rect x="543" y="304.3" width="4" height="4" fill="#f0f0ef"/>
<rect x="547" y="304.3" width="4" height="4" fill="#f0f0ef"/>
<rect x="551" y="304.3" width="4" height="4" fill="#f0f0ef"/>
<rect x="555" y="304.3" width="4" height="4" fill="#f0f0ef"/>
<rect x="559" y="304.3" width="4" height="4" fill="#f0f0ef"/>
<rect x="563" y="304.3" width="4" height="4" fill="#f0f0ef"/>
<rect x="567" y="304.3" width="4" height="4" fill="#f0f0ef"/>
<rect x="571" y="304.3" width="4" height="4" fill="#f0f0ef"/>
<rect x="575" y="304.3" width="4" height="4" fill="#f0f0ef"/>
<rect x="579" y="304.3" width="4" height="4" fill="#f0f0ef"/>
<rect x="583" y="304.3" width="4" height="4" fill="#f1f1f0"/>
<rect x="587" y="304.3" width="4" height="4" fill="#f1f1f0"/>
<rect x="591" y="304.3" width="4" height="4" fill="#f1f1f0"/>
<rect x="595" y="304.3" width="4" height="4" fill="#f1f1f0"/>
<rect x="599" y="304.3" width="4" height="4" fill="#f1f1f0"/>
<rect x="603" y="304.3" width="4" height="4" fill="#f1f1f0"/>
<rect x="607" y="304.3" width="4" height="4" fill="#f1f1f0"/>
<rect x="611" y="304.3" width="4" height="4" fill="#f1f1f0"/>
<rect x="615" y="304.3" width="4" height="4" fill="#f1f1f0"/>
<rect x="619" y="304.3" width="4" height="4" fill="#f1f1f0"/>
<rect x="623" y="304.3" width="4" height="4" fill="#f1f1f0"/>
<rect x="627" y="304.3" width="4" height="4" fill="#f1f1f0"/>
<rect x="395" y="308.3" width="4" height="4" fill="#ececeb"/>
<rect x="399" y="308.3" width="4" height="4" fill="#ececeb"/>
<rect x="403" y="308.3" width="4" height="4" fill="#ebebea"/>
<rect x="407" y="308.3" width="4" height="4" fill="#eaeae9"/>
<rect x="411" y="308.3" width="4" height="4" fill="#f2f2f1"/>
<rect x="415" y="308.3" width="4" height="4" fill="#f5f5f4"/>
<rect x="419" y="308.3" width="4" height="4" fill="#f6f6f5"/>
<rect x="423" y="308.3" width="4" height="4" fill="#f4f4f3"/>
<rect x="427" y="308.3" width="4" height="4" fill="#f1f1f0"/>
<rect x="431" y="308.3" width="4" height="4" fill="#efefee"/>
<rect x="435" y="308.3" width="4" height="4" fill="#ededec"/>
<rect x="439" y="308.3" width="4" height="4" fill="#ebebea"/>
<rect x="443" y="308.3" width="4" height="4" fill="#eaeae9"/>
<rect x="447" y="308.3" width="4" height="4" fill="#e9e9e8"/>
<rect x="451" y="308.3" width="4" height="4" fill="#e9e9e8"/>
<rect x="455" y="308.3" width="4" height="4" fill="#e9e8e7"/>
<rect x="459" y="308.3" width="4" height="4" fill="#e9e8e7"/>
<rect x="463" y="308.3" width="4" height="4" fill="#e9e8e7"/>
<rect x="467" y="308.3" width="4" height="4" fill="#e9e9e8"/>
<rect x="471" y="308.3" width="4" height="4" fill="#e9e9e8"/>
<rect x="475" y="308.3" width="4" height="4" fill="#e9e9e8"/>
<rect x="479" y="308.3" width="4" height="4" fill="#eaeae9"/>
<rect x="483" y="308.3" width="4" height="4" fill="#eaeae9"/>
<rect x="487" y="308.3" width="4" height="4" fill="#eaeae9"/>
<rect x="491" y="308.3" width="4" height="4" fill="#ebebea"/>
<rect x="495" y="308.3" width="4" height="4" fill="#ebebea"/>
<rect x="499" y="308.3" width="4" height="4" fill="#ececeb"/>
<rect x="503" y="308.3" width="4" height="4" fill="#ececeb"/>
<rect x="507" y="308.3" width="4" height="4" fill="#ececeb"/>
<rect x="511" y="308.3" width="4" height="4" fill="#ededec"/>
<rect x="515" y="308.3" width="4" height="4" fill="#ededec"/>
<rect x="519" y="308.3" width="4" height="4" fill="#eeeeed"/>
<rect x="523" y="308.3" width="4" height="4" fill="#eeeeed"/>
<rect x="527" y="308.3" width="4" height="4" fill="#eeeeed"/>
<rect x="531" y="308.3" width="4" height="4" fill="#eeeeed"/>
<rect x="535" y="308.3" width="4" height="4" fill="#efefee"/>
<rect x="539" y="308.3" width="4" height="4" fill="#efefee"/>
<rect x="543" y="308.3" width="4" height="4" fill="#efefee"/>
<rect x="547" y="308.3" width="4" height="4" fill="#efefee"/>
<rect x="551" y="308.3" width="4" height="4" fill="#efefee"/>
<rect x="555" y="308.3" width="4" height="4" fill="#efefee"/>
<rect x="559" y="308.3" width="4" height="4" fill="#f0f0ef"/>
<rect x="563" y="308.3" width="4" height="4" fill="#f0f0ef"/>
<rect x="567" y="308.3" width="4" height="4" fill="#f0f0ef"/>
<rect x="571" y="308.3" width="4" height="4" fill="#f0f0ef"/>
<rect x="575" y="308.3" width="4" height="4" fill="#f0f0ef"/>
<rect x="579" y="308.3" width="4" height="4" fill="#f0f0ef"/>
<rect x="583" y="308.3" width="4" height="4" fill="#f0f0ef"/>
<rect x="587" y="308.3" width="4" height="4" fill="#f0f0ef"/>
<rect x="591" y="308.3" width="4" height="4" fill="#f0f0ef"/>
<rect x="595" y="308.3" width="4" height="4" fill="#f0f0ef"/>
<rect x="599" y="308.3" width="4" height="4" fill="#f0f0ef"/>
<rect x="603" y="308.3" width="4" height="4" fill="#f0f0ef"/>
<rect x="607" y="308.3" width="4" height="4" fill="#f0f0ef"/>
<rect x="611" y="308.3" width="4" height="4" fill="#f0f0ef"/>
<rect x="615" y="308.3" width="4" height="4" fill="#f0f0ef"/>
<rect x="619" y="308.3" width="4" height="4" fill="#f0f0ef"/>
<rect x="623" y="308.3" width="4" height="4" fill="#f0f0ef"/>
<rect x="627" y="308.3" width="4" height="4" fill="#f0f0ef"/>
<rect x="395" y="312.3" width="4" height="4" fill="#ececeb"/>
<rect x="399" y="312.3" width="4" height="4" fill="#ececeb"/>
<rect x="403" y="312.3" width="4" height="4" fill="#ebebea"/>
<rect x="407" y="312.3" width="4" height="4" fill="#eaeae9"/>
<rect x="411" y="312.3" width="4" height="4" fill="#f2f2f1"/>
<rect x="415" y="312.3" width="4" height="4" fill="#f4f4f3"/>
<rect x="419" y="312.3" width="4" height="4" fill="#f4f4f3"/>
<rect x="423" y="312.3" width="4" height="4" fill="#f0f0ef"/>
<rect x="427" y="312.3" width="4" height="4" fill="#f1f1f0"/>
<rect x="431" y="312.3" width="4" height="4" fill="#ededec"/>
<rect x="435" y="312.3" width="4" height="4" fill="#ebebea"/>
<rect x="439" y="312.3" width="4" height="4" fill="#e9e9e8"/>
<rect x="443" y="312.3" width="4" height="4" fill="#e8e7e6"/>
<rect x="447" y="312.3" width="4" height="4" fill="#e7e7e6"/>
<rect x="451" y="312.3" width="4" height="4" fill="#e7e6e5"/>
<rect x="455" y="312.3" width="4" height="4" fill="#e7e6e5"/>
<rect x="459" y="312.3" width="4" height="4" fill="#e7e6e5"/>
<rect x="463" y="312.3" width="4" height="4" fill="#e7e6e5"/>
<rect x="467" y="312.3" width="4" height="4" fill="#e7e7e6"/>
<rect x="471" y="312.3" width="4" height="4" fill="#e8e7e6"/>
<rect x="475" y="312.3" width="4" height="4" fill="#e8e7e6"/>
<rect x="479" y="312.3" width="4" height="4" fill="#e8e8e7"/>
<rect x="483" y="312.3" width="4" height="4" fill="#e9e8e7"/>
<rect x="487" y="312.3" width="4" height="4" fill="#e9e9e8"/>
<rect x="491" y="312.3" width="4" height="4" fill="#e9e9e8"/>
<rect x="495" y="312.3" width="4" height="4" fill="#e9e9e8"/>
<rect x="499" y="312.3" width="4" height="4" fill="#eaeae9"/>
<rect x="503" y="312.3" width="4" height="4" fill="#eaeae9"/>
<rect x="507" y="312.3" width="4" height="4" fill="#eaeae9"/>
<rect x="511" y="312.3" width="4" height="4" fill="#ebebea"/>
<rect x="515" y="312.3" width="4" height="4" fill="#ebebea"/>
<rect x="519" y="312.3" width="4" height="4" fill="#ececeb"/>
<rect x="523" y="312.3" width="4" height="4" fill="#ececeb"/>
<rect x="527" y="312.3" width="4" height="4" fill="#ececeb"/>
<rect x="531" y="312.3" width="4" height="4" fill="#ededec"/>
<rect x="535" y="312.3" width="4" height="4" fill="#ededec"/>
<rect x="539" y="312.3" width="4" height="4" fill="#eeeeed"/>
<rect x="543" y="312.3" width="4" height="4" fill="#eeeeed"/>
<rect x="547" y="312.3" width="4" height="4" fill="#eeeeed"/>
<rect x="551" y="312.3" width="4" height="4" fill="#eeeeed"/>
<rect x="555" y="312.3" width="4" height="4" fill="#eeeeed"/>
<rect x="559" y="312.3" width="4" height="4" fill="#efefee"/>
<rect x="563" y="312.3" width="4" height="4" fill="#efefee"/>
<rect x="567" y="312.3" width="4" height="4" fill="#efefee"/>
<rect x="571" y="312.3" width="4" height="4" fill="#efefee"/>
<rect x="575" y="312.3" width="4" height="4" fill="#efefee"/>
<rect x="579" y="312.3" width="4" height="4" fill="#efefee"/>
<rect x="583" y="312.3" width="4" height="4" fill="#efefee"/>
<rect x="587" y="312.3" width="4" height="4" fill="#efefee"/>
<rect x="591" y="312.3" width="4" height="4" fill="#efefee"/>
<rect x="595" y="312.3" width="4" height="4" fill="#efefee"/>
<rect x="599" y="312.3" width="4" height="4" fill="#efefee"/>
<rect x="603" y="312.3" width="4" height="4" fill="#efefee"/>
<rect x="607" y="312.3" width="4" height="4" fill="#efefee"/>
<rect x="611" y="312.3" width="4" height="4" fill="#efefee"/>
<rect x="615" y="312.3" width="4" height="4" fill="#efefee"/>
<rect x="619" y="312.3" width="4" height="4" fill="#f0f0ef"/>
<rect x="623" y="312.3" width="4" height="4" fill="#f0f0ef"/>
<rect x="627" y="312.3" width="4" height="4" fill="#f0f0ef"/>
<rect x="395" y="316.3" width="4" height="4" fill="#ececeb"/>
<rect x="399" y="316.3" width="4" height="4" fill="#eaeae9"/>
<rect x="403" y="316.3" width="4" height="4" fill="#ebebea"/>
<rect x="407" y="316.3" width="4" height="4" fill="#eaeae9"/>
<rect x="411" y="316.3" width="4" height="4" fill="#f2f2f1"/>
<rect x="415" y="316.3" width="4" height="4" fill="#f3f3f2"/>
<rect x="419" y="316.3" width="4" height="4" fill="#f3f3f2"/>
<rect x="423" y="316.3" width="4" height="4" fill="#f1f1f0"/>
<rect x="427" y="316.3" width="4" height="4" fill="#eeeeed"/>
<rect x="431" y="316.3" width="4" height="4" fill="#ebebea"/>
<rect x="435" y="316.3" width="4" height="4" fill="#e9e8e7"/>
<rect x="439" y="316.3" width="4" height="4" fill="#e7e6e5"/>
<rect x="443" y="316.3" width="4" height="4" fill="#e6e5e4"/>
<rect x="447" y="316.3" width="4" height="4" fill="#e6e5e4"/>
<rect x="451" y="316.3" width="4" height="4" fill="#e5e4e3"/>
<rect x="455" y="316.3" width="4" height="4" fill="#e5e4e3"/>
<rect x="459" y="316.3" width="4" height="4" fill="#e5e4e3"/>
<rect x="463" y="316.3" width="4" height="4" fill="#e6e5e4"/>
<rect x="467" y="316.3" width="4" height="4" fill="#e6e5e4"/>
<rect x="471" y="316.3" width="4" height="4" fill="#e6e5e4"/>
<rect x="475" y="316.3" width="4" height="4" fill="#e6e6e5"/>
<rect x="479" y="316.3" width="4" height="4" fill="#e7e6e5"/>
<rect x="483" y="316.3" width="4" height="4" fill="#e7e6e5"/>
<rect x="487" y="316.3" width="4" height="4" fill="#e8e7e6"/>
<rect x="491" y="316.3" width="4" height="4" fill="#e8e7e6"/>
<rect x="495" y="316.3" width="4" height="4" fill="#e8e8e7"/>
<rect x="499" y="316.3" width="4" height="4" fill="#e8e8e7"/>
<rect x="503" y="316.3" width="4" height="4" fill="#e9e8e7"/>
<rect x="507" y="316.3" width="4" height="4" fill="#e9e9e8"/>
<rect x="511" y="316.3" width="4" height="4" fill="#e9e9e8"/>
<rect x="515" y="316.3" width="4" height="4" fill="#eae9e8"/>
<rect x="519" y="316.3" width="4" height="4" fill="#eaeae9"/>
<rect x="523" y="316.3" width="4" height="4" fill="#eaeae9"/>
<rect x="527" y="316.3" width="4" height="4" fill="#ebebea"/>
<rect x="531" y="316.3" width="4" height="4" fill="#ebebea"/>
<rect x="535" y="316.3" width="4" height="4" fill="#ebebea"/>
<rect x="539" y="316.3" width="4" height="4" fill="#ececeb"/>
<rect x="543" y="316.3" width="4" height="4" fill="#ececeb"/>
<rect x="547" y="316.3" width="4" height="4" fill="#ececeb"/>
<rect x="551" y="316.3" width="4" height="4" fill="#ededec"/>
<rect x="555" y="316.3" width="4" height="4" fill="#ededec"/>
<rect x="559" y="316.3" width="4" height="4" fill="#ededec"/>
<rect x="563" y="316.3" width="4" height="4" fill="#ededec"/>
<rect x="567" y="316.3" width="4" height="4" fill="#ededec"/>
<rect x="571" y="316.3" width="4" height="4" fill="#ededec"/>
<rect x="575" y="316.3" width="4" height="4" fill="#ededec"/>
<rect x="579" y="316.3" width="4" height="4" fill="#ededec"/>
<rect x="583" y="316.3" width="4" height="4" fill="#eeeeed"/>
<rect x="587" y="316.3" width="4" height="4" fill="#eeeeed"/>
<rect x="591" y="316.3" width="4" height="4" fill="#eeeeed"/>
<rect x="595" y="316.3" width="4" height="4" fill="#eeeeed"/>
<rect x="599" y="316.3" width="4" height="4" fill="#eeeeed"/>
<rect x="603" y="316.3" width="4" height="4" fill="#eeeeed"/>
<rect x="607" y="316.3" width="4" height="4" fill="#eeeeed"/>
<rect x="611" y="316.3" width="4" height="4" fill="#eeeeed"/>
<rect x="615" y="316.3" width="4" height="4" fill="#eeeeed"/>
<rect x="619" y="316.3" width="4" height="4" fill="#eeeeed"/>
<rect x="623" y="316.3" width="4" height="4" fill="#eeeeed"/>
<rect x="627" y="316.3" width="4" height="4" fill="#eeeeed"/>
<rect x="395" y="320.3" width="4" height="4" fill="#eaeae9"/>
<rect x="399" y="320.3" width="4" height="4" fill="#eaeae9"/>
<rect x="403" y="320.3" width="4" height="4" fill="#ebebea"/>
<rect x="407" y="320.3" width="4" height="4" fill="#eaeae9"/>
<rect x="411" y="320.3" width="4" height="4" fill="#f2f2f1"/>
<rect x="415" y="320.3" width="4" height="4" fill="#f1f1f0"/>
<rect x="419" y="320.3" width="4" height="4" fill="#f1f1f0"/>
<rect x="423" y="320.3" width="4" height="4" fill="#f0f0ef"/>
<rect x="427" y="320.3" width="4" height="4" fill="#ececeb"/>
<rect x="431" y="320.3" width="4" height="4" fill="#e8e8e7"/>
<rect x="435" y="320.3" width="4" height="4" fill="#e6e5e4"/>
<rect x="439" y="320.3" width="4" height="4" fill="#e4e3e2"/>
<rect x="443" y="320.3" width="4" height="4" fill="#e3e2e1"/>
<rect x="447" y="320.3" width="4" height="4" fill="#e3e2e1"/>
<rect x="451" y="320.3" width="4" height="4" fill="#e3e2e1"/>
<rect x="455" y="320.3" width="4" height="4" fill="#e3e2e1"/>
<rect x="459" y="320.3" width="4" height="4" fill="#e3e2e1"/>
<rect x="463" y="320.3" width="4" height="4" fill="#e3e2e1"/>
<rect x="467" y="320.3" width="4" height="4" fill="#e4e3e2"/>
<rect x="471" y="320.3" width="4" height="4" fill="#e4e3e2"/>
<rect x="475" y="320.3" width="4" height="4" fill="#e5e4e3"/>
<rect x="479" y="320.3" width="4" height="4" fill="#e5e4e3"/>
<rect x="483" y="320.3" width="4" height="4" fill="#e6e5e4"/>
<rect x="487" y="320.3" width="4" height="4" fill="#e6e5e4"/>
<rect x="491" y="320.3" width="4" height="4" fill="#e7e6e5"/>
<rect x="495" y="320.3" width="4" height="4" fill="#e7e6e5"/>
<rect x="499" y="320.3" width="4" height="4" fill="#e7e6e5"/>
<rect x="503" y="320.3" width="4" height="4" fill="#e7e7e6"/>
<rect x="507" y="320.3" width="4" height="4" fill="#e8e7e6"/>
<rect x="511" y="320.3" width="4" height="4" fill="#e8e8e7"/>
<rect x="515" y="320.3" width="4" height="4" fill="#e8e8e7"/>
<rect x="519" y="320.3" width="4" height="4" fill="#e9e8e7"/>
<rect x="523" y="320.3" width="4" height="4" fill="#e9e9e8"/>
<rect x="527" y="320.3" width="4" height="4" fill="#e9e9e8"/>
<rect x="531" y="320.3" width="4" height="4" fill="#e9e9e8"/>
<rect x="535" y="320.3" width="4" height="4" fill="#eae9e8"/>
<rect x="539" y="320.3" width="4" height="4" fill="#eaeae9"/>
<rect x="543" y="320.3" width="4" height="4" fill="#eaeae9"/>
<rect x="547" y="320.3" width="4" height="4" fill="#eaeae9"/>
<rect x="551" y="320.3" width="4" height="4" fill="#ebebea"/>
<rect x="555" y="320.3" width="4" height="4" fill="#ebebea"/>
<rect x="559" y="320.3" width="4" height="4" fill="#ebebea"/>
<rect x="563" y="320.3" width="4" height="4" fill="#ebebea"/>
<rect x="567" y="320.3" width="4" height="4" fill="#ebebea"/>
<rect x="571" y="320.3" width="4" height="4" fill="#ebebea"/>
<rect x="575" y="320.3" width="4" height="4" fill="#ebebea"/>
<rect x="579" y="320.3" width="4" height="4" fill="#ececeb"/>
<rect x="583" y="320.3" width="4" height="4" fill="#ececeb"/>
<rect x="587" y="320.3" width="4" height="4" fill="#ececeb"/>
<rect x="591" y="320.3" width="4" height="4" fill="#ececeb"/>
<rect x="595" y="320.3" width="4" height="4" fill="#ececeb"/>
<rect x="599" y="320.3" width="4" height="4" fill="#ececeb"/>
<rect x="603" y="320.3" width="4" height="4" fill="#ededec"/>
<rect x="607" y="320.3" width="4" height="4" fill="#ededec"/>
<rect x="611" y="320.3" width="4" height="4" fill="#ededec"/>
<rect x="615" y="320.3" width="4" height="4" fill="#ededec"/>
<rect x="619" y="320.3" width="4" height="4" fill="#eeeeed"/>
<rect x="623" y="320.3" width="4" height="4" fill="#eeeeed"/>
<rect x="627" y="320.3" width="4" height="4" fill="#eeeeed"/>
<rect x="395" y="324.3" width="4" height="4" fill="#eaeae9"/>
<rect x="399" y="324.3" width="4" height="4" fill="#eaeae9"/>
<rect x="403" y="324.3" width="4" height="4" fill="#ebebea"/>
<rect x="407" y="324.3" width="4" height="4" fill="#eaeae9"/>
<rect x="411" y="324.3" width="4" height="4" fill="#efefee"/>
<rect x="415" y="324.3" width="4" height="4" fill="#f0f0ef"/>
<rect x="419" y="324.3" width="4" height="4" fill="#f1f1f0"/>
<rect x="423" y="324.3" width="4" height="4" fill="#ededec"/>
<rect x="427" y="324.3" width="4" height="4" fill="#e9e9e8"/>
<rect x="431" y="324.3" width="4" height="4" fill="#e6e5e4"/>
<rect x="435" y="324.3" width="4" height="4" fill="#e3e2e1"/>
<rect x="439" y="324.3" width="4" height="4" fill="#e2e0df"/>
<rect x="443" y="324.3" width="4" height="4" fill="#e2e0de"/>
<rect x="447" y="324.3" width="4" height="4" fill="#e1dfde"/>
<rect x="451" y="324.3" width="4" height="4" fill="#e1dfde"/>
<rect x="455" y="324.3" width="4" height="4" fill="#e1dfde"/>
<rect x="459" y="324.3" width="4" height="4" fill="#e2e0de"/>
<rect x="463" y="324.3" width="4" height="4" fill="#e2e0df"/>
<rect x="467" y="324.3" width="4" height="4" fill="#e2e1e0"/>
<rect x="471" y="324.3" width="4" height="4" fill="#e3e1e0"/>
<rect x="475" y="324.3" width="4" height="4" fill="#e3e2e1"/>
<rect x="479" y="324.3" width="4" height="4" fill="#e3e2e1"/>
<rect x="483" y="324.3" width="4" height="4" fill="#e4e3e2"/>
<rect x="487" y="324.3" width="4" height="4" fill="#e4e3e2"/>
<rect x="491" y="324.3" width="4" height="4" fill="#e5e4e3"/>
<rect x="495" y="324.3" width="4" height="4" fill="#e6e5e4"/>
<rect x="499" y="324.3" width="4" height="4" fill="#e6e5e4"/>
<rect x="503" y="324.3" width="4" height="4" fill="#e6e5e4"/>
<rect x="507" y="324.3" width="4" height="4" fill="#e7e6e5"/>
<rect x="511" y="324.3" width="4" height="4" fill="#e7e6e5"/>
<rect x="515" y="324.3" width="4" height="4" fill="#e7e6e5"/>
<rect x="519" y="324.3" width="4" height="4" fill="#e7e7e6"/>
<rect x="523" y="324.3" width="4" height="4" fill="#e8e7e6"/>
<rect x="527" y="324.3" width="4" height="4" fill="#e8e8e7"/>
<rect x="531" y="324.3" width="4" height="4" fill="#e8e8e7"/>
<rect x="535" y="324.3" width="4" height="4" fill="#e8e8e7"/>
<rect x="539" y="324.3" width="4" height="4" fill="#e9e8e7"/>
<rect x="543" y="324.3" width="4" height="4" fill="#e9e9e8"/>
<rect x="547" y="324.3" width="4" height="4" fill="#e9e9e8"/>
<rect x="551" y="324.3" width="4" height="4" fill="#e9e9e8"/>
<rect x="555" y="324.3" width="4" height="4" fill="#e9e9e8"/>
<rect x="559" y="324.3" width="4" height="4" fill="#e9e9e8"/>
<rect x="563" y="324.3" width="4" height="4" fill="#e9e9e8"/>
<rect x="567" y="324.3" width="4" height="4" fill="#eae9e8"/>
<rect x="571" y="324.3" width="4" height="4" fill="#eae9e8"/>
<rect x="575" y="324.3" width="4" height="4" fill="#eaeae9"/>
<rect x="579" y="324.3" width="4" height="4" fill="#eaeae9"/>
<rect x="583" y="324.3" width="4" height="4" fill="#eaeae9"/>
<rect x="587" y="324.3" width="4" height="4" fill="#eaeae9"/>
<rect x="591" y="324.3" width="4" height="4" fill="#eaeae9"/>
<rect x="595" y="324.3" width="4" height="4" fill="#eaeae9"/>
<rect x="599" y="324.3" width="4" height="4" fill="#ebebea"/>
<rect x="603" y="324.3" width="4" height="4" fill="#ebebea"/>
<rect x="607" y="324.3" width="4" height="4" fill="#ebebea"/>
<rect x="611" y="324.3" width="4" height="4" fill="#ececeb"/>
<rect x="615" y="324.3" width="4" height="4" fill="#ececeb"/>
<rect x="619" y="324.3" width="4" height="4" fill="#eeeeed"/>
<rect x="623" y="324.3" width="4" height="4" fill="#eeeeed"/>
<rect x="627" y="324.3" width="4" height="4" fill="#eeeeed"/>
<rect x="395" y="328.3" width="4" height="4" fill="#ebebea"/>
<rect x="399" y="328.3" width="4" height="4" fill="#eaeae9"/>
<rect x="403" y="328.3" width="4" height="4" fill="#ebebea"/>
<rect x="407" y="328.3" width="4" height="4" fill="#eaeae9"/>
<rect x="411" y="328.3" width="4" height="4" fill="#f2f2f1"/>
<rect x="415" y="328.3" width="4" height="4" fill="#f2f2f1"/>
<rect x="419" y="328.3" width="4" height="4" fill="#f0f0ef"/>
<rect x="423" y="328.3" width="4" height="4" fill="#eaeae9"/>
<rect x="427" y="328.3" width="4" height="4" fill="#e7e6e5"/>
<rect x="431" y="328.3" width="4" height="4" fill="#e3e2e1"/>
<rect x="435" y="328.3" width="4" height="4" fill="#e1dfdd"/>
<rect x="439" y="328.3" width="4" height="4" fill="#e0dddb"/>
<rect x="443" y="328.3" width="4" height="4" fill="#e0dddb"/>
<rect x="447" y="328.3" width="4" height="4" fill="#e0dddb"/>
<rect x="451" y="328.3" width="4" height="4" fill="#e0dddb"/>
<rect x="455" y="328.3" width="4" height="4" fill="#e0dddb"/>
<rect x="459" y="328.3" width="4" height="4" fill="#e0dddc"/>
<rect x="463" y="328.3" width="4" height="4" fill="#e1dedc"/>
<rect x="467" y="328.3" width="4" height="4" fill="#e1dfdd"/>
<rect x="471" y="328.3" width="4" height="4" fill="#e1dfde"/>
<rect x="475" y="328.3" width="4" height="4" fill="#e2e0de"/>
<rect x="479" y="328.3" width="4" height="4" fill="#e2e1df"/>
<rect x="483" y="328.3" width="4" height="4" fill="#e2e1e0"/>
<rect x="487" y="328.3" width="4" height="4" fill="#e3e2e1"/>
<rect x="491" y="328.3" width="4" height="4" fill="#e3e2e1"/>
<rect x="495" y="328.3" width="4" height="4" fill="#e4e3e2"/>
<rect x="499" y="328.3" width="4" height="4" fill="#e4e3e2"/>
<rect x="503" y="328.3" width="4" height="4" fill="#e5e4e3"/>
<rect x="507" y="328.3" width="4" height="4" fill="#e5e4e3"/>
<rect x="511" y="328.3" width="4" height="4" fill="#e6e5e4"/>
<rect x="515" y="328.3" width="4" height="4" fill="#e6e5e4"/>
<rect x="519" y="328.3" width="4" height="4" fill="#e6e5e4"/>
<rect x="523" y="328.3" width="4" height="4" fill="#e7e6e5"/>
<rect x="527" y="328.3" width="4" height="4" fill="#e7e6e5"/>
<rect x="531" y="328.3" width="4" height="4" fill="#e7e6e5"/>
<rect x="535" y="328.3" width="4" height="4" fill="#e7e7e6"/>
<rect x="539" y="328.3" width="4" height="4" fill="#e7e7e6"/>
<rect x="543" y="328.3" width="4" height="4" fill="#e8e7e6"/>
<rect x="547" y="328.3" width="4" height="4" fill="#e8e7e6"/>
<rect x="551" y="328.3" width="4" height="4" fill="#e8e7e6"/>
<rect x="555" y="328.3" width="4" height="4" fill="#e8e7e6"/>
<rect x="559" y="328.3" width="4" height="4" fill="#e8e7e6"/>
<rect x="563" y="328.3" width="4" height="4" fill="#e8e8e7"/>
<rect x="567" y="328.3" width="4" height="4" fill="#e8e8e7"/>
<rect x="571" y="328.3" width="4" height="4" fill="#e8e8e7"/>
<rect x="575" y="328.3" width="4" height="4" fill="#e8e8e7"/>
<rect x="579" y="328.3" width="4" height="4" fill="#e8e8e7"/>
<rect x="583" y="328.3" width="4" height="4" fill="#e9e8e7"/>
<rect x="587" y="328.3" width="4" height="4" fill="#e9e9e8"/>
<rect x="591" y="328.3" width="4" height="4" fill="#e9e9e8"/>
<rect x="595" y="328.3" width="4" height="4" fill="#e9e9e8"/>
<rect x="599" y="328.3" width="4" height="4" fill="#e9e9e8"/>
<rect x="603" y="328.3" width="4" height="4" fill="#eae9e8"/>
<rect x="607" y="328.3" width="4" height="4" fill="#eaeae9"/>
<rect x="611" y="328.3" width="4" height="4" fill="#eaeae9"/>
<rect x="615" y="328.3" width="4" height="4" fill="#ebebea"/>
<rect x="619" y="328.3" width="4" height="4" fill="#eaeae9"/>
<rect x="623" y="328.3" width="4" height="4" fill="#eaeae9"/>
<rect x="627" y="328.3" width="4" height="4" fill="#eaeae9"/>
<rect x="395" y="332.3" width="4" height="4" fill="#ebebea"/>
<rect x="399" y="332.3" width="4" height="4" fill="#ebebea"/>
<rect x="403" y="332.3" width="4" height="4" fill="#ebebea"/>
<rect x="407" y="332.3" width="4" height="4" fill="#eaeae9"/>
<rect x="411" y="332.3" width="4" height="4" fill="#efefee"/>
<rect x="415" y="332.3" width="4" height="4" fill="#f2f2f1"/>
<rect x="419" y="332.3" width="4" height="4" fill="#ededec"/>
<rect x="423" y="332.3" width="4" height="4" fill="#e8e8e7"/>
<rect x="427" y="332.3" width="4" height="4" fill="#e4e3e2"/>
<rect x="431" y="332.3" width="4" height="4" fill="#e0dedc"/>
<rect x="435" y="332.3" width="4" height="4" fill="#e0dcda"/>
<rect x="439" y="332.3" width="4" height="4" fill="#dfdbd9"/>
<rect x="443" y="332.3" width="4" height="4" fill="#dfdbd8"/>
<rect x="447" y="332.3" width="4" height="4" fill="#dfdbd8"/>
<rect x="451" y="332.3" width="4" height="4" fill="#dfdbd8"/>
<rect x="455" y="332.3" width="4" height="4" fill="#dfdbd9"/>
<rect x="459" y="332.3" width="4" height="4" fill="#dfdcd9"/>
<rect x="463" y="332.3" width="4" height="4" fill="#e0dcda"/>
<rect x="467" y="332.3" width="4" height="4" fill="#e0dddb"/>
<rect x="471" y="332.3" width="4" height="4" fill="#e0dddb"/>
<rect x="475" y="332.3" width="4" height="4" fill="#e1dedc"/>
<rect x="479" y="332.3" width="4" height="4" fill="#e1dfdd"/>
<rect x="483" y="332.3" width="4" height="4" fill="#e1dfde"/>
<rect x="487" y="332.3" width="4" height="4" fill="#e2e0de"/>
<rect x="491" y="332.3" width="4" height="4" fill="#e2e0df"/>
<rect x="495" y="332.3" width="4" height="4" fill="#e2e1e0"/>
<rect x="499" y="332.3" width="4" height="4" fill="#e3e2e0"/>
<rect x="503" y="332.3" width="4" height="4" fill="#e3e2e1"/>
<rect x="507" y="332.3" width="4" height="4" fill="#e4e3e2"/>
<rect x="511" y="332.3" width="4" height="4" fill="#e4e3e2"/>
<rect x="515" y="332.3" width="4" height="4" fill="#e4e3e2"/>
<rect x="519" y="332.3" width="4" height="4" fill="#e5e4e3"/>
<rect x="523" y="332.3" width="4" height="4" fill="#e5e4e3"/>
<rect x="527" y="332.3" width="4" height="4" fill="#e6e5e4"/>
<rect x="531" y="332.3" width="4" height="4" fill="#e6e5e4"/>
<rect x="535" y="332.3" width="4" height="4" fill="#e6e5e4"/>
<rect x="539" y="332.3" width="4" height="4" fill="#e6e5e4"/>
<rect x="543" y="332.3" width="4" height="4" fill="#e6e6e5"/>
<rect x="547" y="332.3" width="4" height="4" fill="#e7e6e5"/>
<rect x="551" y="332.3" width="4" height="4" fill="#e7e6e5"/>
<rect x="555" y="332.3" width="4" height="4" fill="#e7e6e5"/>
<rect x="559" y="332.3" width="4" height="4" fill="#e7e6e5"/>
<rect x="563" y="332.3" width="4" height="4" fill="#e7e6e5"/>
<rect x="567" y="332.3" width="4" height="4" fill="#e7e6e5"/>
<rect x="571" y="332.3" width="4" height="4" fill="#e7e6e5"/>
<rect x="575" y="332.3" width="4" height="4" fill="#e7e6e5"/>
<rect x="579" y="332.3" width="4" height="4" fill="#e7e6e5"/>
<rect x="583" y="332.3" width="4" height="4" fill="#e7e7e6"/>
<rect x="587" y="332.3" width="4" height="4" fill="#e8e7e6"/>
<rect x="591" y="332.3" width="4" height="4" fill="#e8e7e6"/>
<rect x="595" y="332.3" width="4" height="4" fill="#e8e8e7"/>
<rect x="599" y="332.3" width="4" height="4" fill="#e8e8e7"/>
<rect x="603" y="332.3" width="4" height="4" fill="#e9e8e7"/>
<rect x="607" y="332.3" width="4" height="4" fill="#e9e9e8"/>
<rect x="611" y="332.3" width="4" height="4" fill="#e9e9e8"/>
<rect x="615" y="332.3" width="4" height="4" fill="#eae9e8"/>
<rect x="619" y="332.3" width="4" height="4" fill="#eaeae9"/>
<rect x="623" y="332.3" width="4" height="4" fill="#eaeae9"/>
<rect x="627" y="332.3" width="4" height="4" fill="#eaeae9"/>
<rect x="395" y="336.3" width="4" height="4" fill="#ebebea"/>
<rect x="399" y="336.3" width="4" height="4" fill="#ebebea"/>
<rect x="403" y="336.3" width="4" height="4" fill="#ebebea"/>
<rect x="407" y="336.3" width="4" height="4" fill="#eaeae9"/>
<rect x="411" y="336.3" width="4" height="4" fill="#efefee"/>
<rect x="415" y="336.3" width="4" height="4" fill="#f1f1f0"/>
<rect x="419" y="336.3" width="4" height="4" fill="#eaeae9"/>
<rect x="423" y="336.3" width="4" height="4" fill="#e7e6e5"/>
<rect x="427" y="336.3" width="4" height="4" fill="#e1dfde"/>
<rect x="431" y="336.3" width="4" height="4" fill="#dfdcd9"/>
<rect x="435" y="336.3" width="4" height="4" fill="#dfdad7"/>
<rect x="439" y="336.3" width="4" height="4" fill="#ded9d6"/>
<rect x="443" y="336.3" width="4" height="4" fill="#ded9d6"/>
<rect x="447" y="336.3" width="4" height="4" fill="#ded9d6"/>
<rect x="451" y="336.3" width="4" height="4" fill="#ded9d6"/>
<rect x="455" y="336.3" width="4" height="4" fill="#dfd9d7"/>
<rect x="459" y="336.3" width="4" height="4" fill="#dfdad7"/>
<rect x="463" y="336.3" width="4" height="4" fill="#dfdad8"/>
<rect x="467" y="336.3" width="4" height="4" fill="#dfdbd9"/>
<rect x="471" y="336.3" width="4" height="4" fill="#dfdcd9"/>
<rect x="475" y="336.3" width="4" height="4" fill="#e0dcda"/>
<rect x="479" y="336.3" width="4" height="4" fill="#e0dddb"/>
<rect x="483" y="336.3" width="4" height="4" fill="#e0dddb"/>
<rect x="487" y="336.3" width="4" height="4" fill="#e1dedc"/>
<rect x="491" y="336.3" width="4" height="4" fill="#e1dfdd"/>
<rect x="495" y="336.3" width="4" height="4" fill="#e1dfde"/>
<rect x="499" y="336.3" width="4" height="4" fill="#e2e0de"/>
<rect x="503" y="336.3" width="4" height="4" fill="#e2e0df"/>
<rect x="507" y="336.3" width="4" height="4" fill="#e2e1e0"/>
<rect x="511" y="336.3" width="4" height="4" fill="#e3e1e0"/>
<rect x="515" y="336.3" width="4" height="4" fill="#e3e2e1"/>
<rect x="519" y="336.3" width="4" height="4" fill="#e3e2e1"/>
<rect x="523" y="336.3" width="4" height="4" fill="#e4e3e2"/>
<rect x="527" y="336.3" width="4" height="4" fill="#e4e3e2"/>
<rect x="531" y="336.3" width="4" height="4" fill="#e4e3e2"/>
<rect x="535" y="336.3" width="4" height="4" fill="#e4e3e2"/>
<rect x="539" y="336.3" width="4" height="4" fill="#e5e4e3"/>
<rect x="543" y="336.3" width="4" height="4" fill="#e5e4e3"/>
<rect x="547" y="336.3" width="4" height="4" fill="#e5e4e3"/>
<rect x="551" y="336.3" width="4" height="4" fill="#e5e4e3"/>
<rect x="555" y="336.3" width="4" height="4" fill="#e5e4e3"/>
<rect x="559" y="336.3" width="4" height="4" fill="#e5e4e3"/>
<rect x="563" y="336.3" width="4" height="4" fill="#e5e4e3"/>
<rect x="567" y="336.3" width="4" height="4" fill="#e5e4e3"/>
<rect x="571" y="336.3" width="4" height="4" fill="#e5e4e3"/>
<rect x="575" y="336.3" width="4" height="4" fill="#e6e5e4"/>
<rect x="579" y="336.3" width="4" height="4" fill="#e6e5e4"/>
<rect x="583" y="336.3" width="4" height="4" fill="#e6e5e4"/>
<rect x="587" y="336.3" width="4" height="4" fill="#e7e6e5"/>
<rect x="591" y="336.3" width="4" height="4" fill="#e7e6e5"/>
<rect x="595" y="336.3" width="4" height="4" fill="#e7e7e6"/>
<rect x="599" y="336.3" width="4" height="4" fill="#e8e7e6"/>
<rect x="603" y="336.3" width="4" height="4" fill="#e8e7e6"/>
<rect x="607" y="336.3" width="4" height="4" fill="#e8e8e7"/>
<rect x="611" y="336.3" width="4" height="4" fill="#e8e8e7"/>
<rect x="615" y="336.3" width="4" height="4" fill="#e9e8e7"/>
<rect x="619" y="336.3" width="4" height="4" fill="#eaeae9"/>
<rect x="623" y="336.3" width="4" height="4" fill="#eaeae9"/>
<rect x="627" y="336.3" width="4" height="4" fill="#eaeae9"/>
<rect x="395" y="340.3" width="4" height="4" fill="#ebebea"/>
<rect x="399" y="340.3" width="4" height="4" fill="#ebebea"/>
<rect x="403" y="340.3" width="4" height="4" fill="#ebebea"/>
<rect x="407" y="340.3" width="4" height="4" fill="#eaeae9"/>
<rect x="411" y="340.3" width="4" height="4" fill="#eeeeed"/>
<rect x="415" y="340.3" width="4" height="4" fill="#eeeeed"/>
<rect x="419" y="340.3" width="4" height="4" fill="#e9e9e8"/>
<rect x="423" y="340.3" width="4" height="4" fill="#e4e3e2"/>
<rect x="427" y="340.3" width="4" height="4" fill="#e0dcda"/>
<rect x="431" y="340.3" width="4" height="4" fill="#dfdad7"/>
<rect x="435" y="340.3" width="4" height="4" fill="#ded8d5"/>
<rect x="439" y="340.3" width="4" height="4" fill="#ddd6d2"/>
<rect x="443" y="340.3" width="4" height="4" fill="#ddd6d2"/>
<rect x="447" y="340.3" width="4" height="4" fill="#ddd6d2"/>
<rect x="451" y="340.3" width="4" height="4" fill="#ddd6d2"/>
<rect x="455" y="340.3" width="4" height="4" fill="#ded7d4"/>
<rect x="459" y="340.3" width="4" height="4" fill="#ded8d5"/>
<rect x="463" y="340.3" width="4" height="4" fill="#ded9d6"/>
<rect x="467" y="340.3" width="4" height="4" fill="#dfd9d7"/>
<rect x="471" y="340.3" width="4" height="4" fill="#dfdad7"/>
<rect x="475" y="340.3" width="4" height="4" fill="#dfdbd8"/>
<rect x="479" y="340.3" width="4" height="4" fill="#dfdbd9"/>
<rect x="483" y="340.3" width="4" height="4" fill="#dfdcd9"/>
<rect x="487" y="340.3" width="4" height="4" fill="#e0dcda"/>
<rect x="491" y="340.3" width="4" height="4" fill="#e0dddb"/>
<rect x="495" y="340.3" width="4" height="4" fill="#e0dddb"/>
<rect x="499" y="340.3" width="4" height="4" fill="#e1dedc"/>
<rect x="503" y="340.3" width="4" height="4" fill="#e1dfdd"/>
<rect x="507" y="340.3" width="4" height="4" fill="#e1dfde"/>
<rect x="511" y="340.3" width="4" height="4" fill="#e2e0de"/>
<rect x="515" y="340.3" width="4" height="4" fill="#e2e0df"/>
<rect x="519" y="340.3" width="4" height="4" fill="#e2e0df"/>
<rect x="523" y="340.3" width="4" height="4" fill="#e2e1e0"/>
<rect x="527" y="340.3" width="4" height="4" fill="#e3e1e0"/>
<rect x="531" y="340.3" width="4" height="4" fill="#e3e1e0"/>
<rect x="535" y="340.3" width="4" height="4" fill="#e3e2e1"/>
<rect x="539" y="340.3" width="4" height="4" fill="#e3e2e1"/>
<rect x="543" y="340.3" width="4" height="4" fill="#e3e2e1"/>
<rect x="547" y="340.3" width="4" height="4" fill="#e3e2e1"/>
<rect x="551" y="340.3" width="4" height="4" fill="#e3e2e1"/>
<rect x="555" y="340.3" width="4" height="4" fill="#e3e2e1"/>
<rect x="559" y="340.3" width="4" height="4" fill="#e3e2e1"/>
<rect x="563" y="340.3" width="4" height="4" fill="#e3e2e1"/>
<rect x="567" y="340.3" width="4" height="4" fill="#e4e3e2"/>
<rect x="571" y="340.3" width="4" height="4" fill="#e4e3e2"/>
<rect x="575" y="340.3" width="4" height="4" fill="#e4e3e2"/>
<rect x="579" y="340.3" width="4" height="4" fill="#e5e4e3"/>
<rect x="583" y="340.3" width="4" height="4" fill="#e5e4e3"/>
<rect x="587" y="340.3" width="4" height="4" fill="#e5e4e3"/>
<rect x="591" y="340.3" width="4" height="4" fill="#e6e5e4"/>
<rect x="595" y="340.3" width="4" height="4" fill="#e6e5e4"/>
<rect x="599" y="340.3" width="4" height="4" fill="#e7e6e5"/>
<rect x="603" y="340.3" width="4" height="4" fill="#e7e6e5"/>
<rect x="607" y="340.3" width="4" height="4" fill="#e7e7e6"/>
<rect x="611" y="340.3" width="4" height="4" fill="#e8e7e6"/>
<rect x="615" y="340.3" width="4" height="4" fill="#e8e7e6"/>
<rect x="619" y="340.3" width="4" height="4" fill="#eaeae9"/>
<rect x="623" y="340.3" width="4" height="4" fill="#eaeae9"/>
<rect x="627" y="340.3" width="4" height="4" fill="#eaeae9"/>
<rect x="395" y="344.3" width="4" height="4" fill="#ebebea"/>
<rect x="399" y="344.3" width="4" height="4" fill="#ebebea"/>
<rect x="403" y="344.3" width="4" height="4" fill="#eaeae9"/>
<rect x="407" y="344.3" width="4" height="4" fill="#eaeae9"/>
<rect x="411" y="344.3" width="4" height="4" fill="#ededec"/>
<rect x="415" y="344.3" width="4" height="4" fill="#ececeb"/>
<rect x="419" y="344.3" width="4" height="4" fill="#e7e6e5"/>
<rect x="423" y="344.3" width="4" height="4" fill="#e1dfdd"/>
<rect x="427" y="344.3" width="4" height="4" fill="#dfdad8"/>
<rect x="431" y="344.3" width="4" height="4" fill="#ded8d5"/>
<rect x="435" y="344.3" width="4" height="4" fill="#ddd5d1"/>
<rect x="439" y="344.3" width="4" height="4" fill="#dcd2cd"/>
<rect x="443" y="344.3" width="4" height="4" fill="#dcd2cd"/>
<rect x="447" y="344.3" width="4" height="4" fill="#dcd2cd"/>
<rect x="451" y="344.3" width="4" height="4" fill="#dcd3ce"/>
<rect x="455" y="344.3" width="4" height="4" fill="#ddd4d0"/>
<rect x="459" y="344.3" width="4" height="4" fill="#ddd5d1"/>
<rect x="463" y="344.3" width="4" height="4" fill="#ddd6d3"/>
<rect x="467" y="344.3" width="4" height="4" fill="#ded8d4"/>
<rect x="471" y="344.3" width="4" height="4" fill="#ded8d5"/>
<rect x="475" y="344.3" width="4" height="4" fill="#ded9d6"/>
<rect x="479" y="344.3" width="4" height="4" fill="#dfdad7"/>
<rect x="483" y="344.3" width="4" height="4" fill="#dfdad8"/>
<rect x="487" y="344.3" width="4" height="4" fill="#dfdbd8"/>
<rect x="491" y="344.3" width="4" height="4" fill="#dfdbd9"/>
<rect x="495" y="344.3" width="4" height="4" fill="#e0dcda"/>
<rect x="499" y="344.3" width="4" height="4" fill="#e0dcda"/>
<rect x="503" y="344.3" width="4" height="4" fill="#e0dddb"/>
<rect x="507" y="344.3" width="4" height="4" fill="#e0dddb"/>
<rect x="511" y="344.3" width="4" height="4" fill="#e1dedc"/>
<rect x="515" y="344.3" width="4" height="4" fill="#e1dedd"/>
<rect x="519" y="344.3" width="4" height="4" fill="#e1dfdd"/>
<rect x="523" y="344.3" width="4" height="4" fill="#e1dfdd"/>
<rect x="527" y="344.3" width="4" height="4" fill="#e1dfde"/>
<rect x="531" y="344.3" width="4" height="4" fill="#e1dfde"/>
<rect x="535" y="344.3" width="4" height="4" fill="#e2e0de"/>
<rect x="539" y="344.3" width="4" height="4" fill="#e2e0de"/>
<rect x="543" y="344.3" width="4" height="4" fill="#e2e0df"/>
<rect x="547" y="344.3" width="4" height="4" fill="#e2e0df"/>
<rect x="551" y="344.3" width="4" height="4" fill="#e2e0df"/>
<rect x="555" y="344.3" width="4" height="4" fill="#e2e0df"/>
<rect x="559" y="344.3" width="4" height="4" fill="#e2e0df"/>
<rect x="563" y="344.3" width="4" height="4" fill="#e2e1df"/>
<rect x="567" y="344.3" width="4" height="4" fill="#e2e1e0"/>
<rect x="571" y="344.3" width="4" height="4" fill="#e2e1e0"/>
<rect x="575" y="344.3" width="4" height="4" fill="#e3e1e0"/>
<rect x="579" y="344.3" width="4" height="4" fill="#e3e2e1"/>
<rect x="583" y="344.3" width="4" height="4" fill="#e4e3e2"/>
<rect x="587" y="344.3" width="4" height="4" fill="#e4e3e2"/>
<rect x="591" y="344.3" width="4" height="4" fill="#e5e4e3"/>
<rect x="595" y="344.3" width="4" height="4" fill="#e5e4e3"/>
<rect x="599" y="344.3" width="4" height="4" fill="#e6e5e4"/>
<rect x="603" y="344.3" width="4" height="4" fill="#e6e5e4"/>
<rect x="607" y="344.3" width="4" height="4" fill="#e6e5e4"/>
<rect x="611" y="344.3" width="4" height="4" fill="#e7e6e5"/>
<rect x="615" y="344.3" width="4" height="4" fill="#e7e6e5"/>
<rect x="619" y="344.3" width="4" height="4" fill="#e6e5e4"/>
<rect x="623" y="344.3" width="4" height="4" fill="#e6e5e4"/>
<rect x="627" y="344.3" width="4" height="4" fill="#e6e5e4"/>
<rect x="395" y="348.3" width="4" height="4" fill="#ebebea"/>
<rect x="399" y="348.3" width="4" height="4" fill="#eaeae9"/>
<rect x="403" y="348.3" width="4" height="4" fill="#eaeae9"/>
<rect x="407" y="348.3" width="4" height="4" fill="#eaeae9"/>
<rect x="411" y="348.3" width="4" height="4" fill="#ececeb"/>
<rect x="415" y="348.3" width="4" height="4" fill="#ebebea"/>
<rect x="419" y="348.3" width="4" height="4" fill="#e5e4e3"/>
<rect x="423" y="348.3" width="4" height="4" fill="#e0dcda"/>
<rect x="427" y="348.3" width="4" height="4" fill="#ded8d5"/>
<rect x="431" y="348.3" width="4" height="4" fill="#ddd4cf"/>
<rect x="435" y="348.3" width="4" height="4" fill="#dcd1cb"/>
<rect x="439" y="348.3" width="4" height="4" fill="#dacdc6"/>
<rect x="443" y="348.3" width="4" height="4" fill="#dacdc7"/>
<rect x="447" y="348.3" width="4" height="4" fill="#dbcec8"/>
<rect x="451" y="348.3" width="4" height="4" fill="#dbd0ca"/>
<rect x="455" y="348.3" width="4" height="4" fill="#dcd1cc"/>
<rect x="459" y="348.3" width="4" height="4" fill="#dcd2cd"/>
<rect x="463" y="348.3" width="4" height="4" fill="#dcd3cf"/>
<rect x="467" y="348.3" width="4" height="4" fill="#ddd5d1"/>
<rect x="471" y="348.3" width="4" height="4" fill="#ddd6d2"/>
<rect x="475" y="348.3" width="4" height="4" fill="#ded7d4"/>
<rect x="479" y="348.3" width="4" height="4" fill="#ded8d5"/>
<rect x="483" y="348.3" width="4" height="4" fill="#ded9d6"/>
<rect x="487" y="348.3" width="4" height="4" fill="#ded9d6"/>
<rect x="491" y="348.3" width="4" height="4" fill="#dfdad7"/>
<rect x="495" y="348.3" width="4" height="4" fill="#dfdad8"/>
<rect x="499" y="348.3" width="4" height="4" fill="#dfdbd8"/>
<rect x="503" y="348.3" width="4" height="4" fill="#dfdbd9"/>
<rect x="507" y="348.3" width="4" height="4" fill="#e0dcda"/>
<rect x="511" y="348.3" width="4" height="4" fill="#e0dcda"/>
<rect x="515" y="348.3" width="4" height="4" fill="#e0ddda"/>
<rect x="519" y="348.3" width="4" height="4" fill="#e0dddb"/>
<rect x="523" y="348.3" width="4" height="4" fill="#e0dddb"/>
<rect x="527" y="348.3" width="4" height="4" fill="#e0dddc"/>
<rect x="531" y="348.3" width="4" height="4" fill="#e0dedc"/>
<rect x="535" y="348.3" width="4" height="4" fill="#e0dedc"/>
<rect x="539" y="348.3" width="4" height="4" fill="#e0dedc"/>
<rect x="543" y="348.3" width="4" height="4" fill="#e1dedc"/>
<rect x="547" y="348.3" width="4" height="4" fill="#e1dedc"/>
<rect x="551" y="348.3" width="4" height="4" fill="#e1dedc"/>
<rect x="555" y="348.3" width="4" height="4" fill="#e1dedd"/>
<rect x="559" y="348.3" width="4" height="4" fill="#e1dedd"/>
<rect x="563" y="348.3" width="4" height="4" fill="#e1dfdd"/>
<rect x="567" y="348.3" width="4" height="4" fill="#e1dfdd"/>
<rect x="571" y="348.3" width="4" height="4" fill="#e1dfde"/>
<rect x="575" y="348.3" width="4" height="4" fill="#e2e0de"/>
<rect x="579" y="348.3" width="4" height="4" fill="#e2e1df"/>
<rect x="583" y="348.3" width="4" height="4" fill="#e2e1e0"/>
<rect x="587" y="348.3" width="4" height="4" fill="#e3e2e1"/>
<rect x="591" y="348.3" width="4" height="4" fill="#e3e2e1"/>
<rect x="595" y="348.3" width="4" height="4" fill="#e4e3e2"/>
<rect x="599" y="348.3" width="4" height="4" fill="#e4e3e2"/>
<rect x="603" y="348.3" width="4" height="4" fill="#e5e4e3"/>
<rect x="607" y="348.3" width="4" height="4" fill="#e5e4e3"/>
<rect x="611" y="348.3" width="4" height="4" fill="#e6e5e4"/>
<rect x="615" y="348.3" width="4" height="4" fill="#e6e5e4"/>
<rect x="619" y="348.3" width="4" height="4" fill="#e6e5e4"/>
<rect x="623" y="348.3" width="4" height="4" fill="#e6e5e4"/>
<rect x="627" y="348.3" width="4" height="4" fill="#e6e5e4"/>
<rect x="395" y="352.3" width="4" height="4" fill="#eaeae9"/>
<rect x="399" y="352.3" width="4" height="4" fill="#eaeae9"/>
<rect x="403" y="352.3" width="4" height="4" fill="#eaeae9"/>
<rect x="407" y="352.3" width="4" height="4" fill="#eaeae9"/>
<rect x="411" y="352.3" width="4" height="4" fill="#eaeae9"/>
<rect x="415" y="352.3" width="4" height="4" fill="#eaeae9"/>
<rect x="419" y="352.3" width="4" height="4" fill="#e3e2e1"/>
<rect x="423" y="352.3" width="4" height="4" fill="#dfdad7"/>
<rect x="427" y="352.3" width="4" height="4" fill="#ddd4d0"/>
<rect x="431" y="352.3" width="4" height="4" fill="#dacdc6"/>
<rect x="435" y="352.3" width="4" height="4" fill="#d9c7be"/>
<rect x="439" y="352.3" width="4" height="4" fill="#d8c5bb"/>
<rect x="443" y="352.3" width="4" height="4" fill="#d8c5bb"/>
<rect x="447" y="352.3" width="4" height="4" fill="#d8c6bd"/>
<rect x="451" y="352.3" width="4" height="4" fill="#d9cac1"/>
<rect x="455" y="352.3" width="4" height="4" fill="#dacdc6"/>
<rect x="459" y="352.3" width="4" height="4" fill="#dbcfc9"/>
<rect x="463" y="352.3" width="4" height="4" fill="#dcd1cb"/>
<rect x="467" y="352.3" width="4" height="4" fill="#dcd2cd"/>
<rect x="471" y="352.3" width="4" height="4" fill="#dcd3cf"/>
<rect x="475" y="352.3" width="4" height="4" fill="#ddd4d0"/>
<rect x="479" y="352.3" width="4" height="4" fill="#ddd6d2"/>
<rect x="483" y="352.3" width="4" height="4" fill="#ded7d3"/>
<rect x="487" y="352.3" width="4" height="4" fill="#ded8d4"/>
<rect x="491" y="352.3" width="4" height="4" fill="#ded8d5"/>
<rect x="495" y="352.3" width="4" height="4" fill="#ded9d6"/>
<rect x="499" y="352.3" width="4" height="4" fill="#dfd9d7"/>
<rect x="503" y="352.3" width="4" height="4" fill="#dfdad7"/>
<rect x="507" y="352.3" width="4" height="4" fill="#dfdad8"/>
<rect x="511" y="352.3" width="4" height="4" fill="#dfdbd8"/>
<rect x="515" y="352.3" width="4" height="4" fill="#dfdbd8"/>
<rect x="519" y="352.3" width="4" height="4" fill="#dfdbd9"/>
<rect x="523" y="352.3" width="4" height="4" fill="#dfdbd9"/>
<rect x="527" y="352.3" width="4" height="4" fill="#dfdcd9"/>
<rect x="531" y="352.3" width="4" height="4" fill="#dfdcd9"/>
<rect x="535" y="352.3" width="4" height="4" fill="#e0dcda"/>
<rect x="539" y="352.3" width="4" height="4" fill="#e0dcda"/>
<rect x="543" y="352.3" width="4" height="4" fill="#e0dcda"/>
<rect x="547" y="352.3" width="4" height="4" fill="#e0dcda"/>
<rect x="551" y="352.3" width="4" height="4" fill="#e0dcda"/>
<rect x="555" y="352.3" width="4" height="4" fill="#e0dcda"/>
<rect x="559" y="352.3" width="4" height="4" fill="#e0dddb"/>
<rect x="563" y="352.3" width="4" height="4" fill="#e0dddb"/>
<rect x="567" y="352.3" width="4" height="4" fill="#e0dddb"/>
<rect x="571" y="352.3" width="4" height="4" fill="#e0dedc"/>
<rect x="575" y="352.3" width="4" height="4" fill="#e1dedd"/>
<rect x="579" y="352.3" width="4" height="4" fill="#e1dfdd"/>
<rect x="583" y="352.3" width="4" height="4" fill="#e2e0de"/>
<rect x="587" y="352.3" width="4" height="4" fill="#e2e0df"/>
<rect x="591" y="352.3" width="4" height="4" fill="#e2e1e0"/>
<rect x="595" y="352.3" width="4" height="4" fill="#e3e2e0"/>
<rect x="599" y="352.3" width="4" height="4" fill="#e3e2e1"/>
<rect x="603" y="352.3" width="4" height="4" fill="#e4e3e2"/>
<rect x="607" y="352.3" width="4" height="4" fill="#e4e3e2"/>
<rect x="611" y="352.3" width="4" height="4" fill="#e4e3e2"/>
<rect x="615" y="352.3" width="4" height="4" fill="#e5e4e3"/>
<rect x="619" y="352.3" width="4" height="4" fill="#e6e5e4"/>
<rect x="623" y="352.3" width="4" height="4" fill="#e6e5e4"/>
<rect x="627" y="352.3" width="4" height="4" fill="#e6e5e4"/>
<rect x="395" y="356.3" width="4" height="4" fill="#eaeae9"/>
<rect x="399" y="356.3" width="4" height="4" fill="#eaeae9"/>
<rect x="403" y="356.3" width="4" height="4" fill="#eaeae9"/>
<rect x="407" y="356.3" width="4" height="4" fill="#eaeae9"/>
<rect x="411" y="356.3" width="4" height="4" fill="#eaeae9"/>
<rect x="415" y="356.3" width="4" height="4" fill="#e8e8e7"/>
<rect x="419" y="356.3" width="4" height="4" fill="#e1dfdd"/>
<rect x="423" y="356.3" width="4" height="4" fill="#ded8d6"/>
<rect x="427" y="356.3" width="4" height="4" fill="#dbcfc9"/>
<rect x="431" y="356.3" width="4" height="4" fill="#d8c5bb"/>
<rect x="435" y="356.3" width="4" height="4" fill="#d8c5bb"/>
<rect x="439" y="356.3" width="4" height="4" fill="#d8c5bb"/>
<rect x="443" y="356.3" width="4" height="4" fill="#d8c5bb"/>
<rect x="447" y="356.3" width="4" height="4" fill="#d8c5bb"/>
<rect x="451" y="356.3" width="4" height="4" fill="#d8c5bb"/>
<rect x="455" y="356.3" width="4" height="4" fill="#d8c6bd"/>
<rect x="459" y="356.3" width="4" height="4" fill="#d9c9c1"/>
<rect x="463" y="356.3" width="4" height="4" fill="#daccc5"/>
<rect x="467" y="356.3" width="4" height="4" fill="#dbcfc9"/>
<rect x="471" y="356.3" width="4" height="4" fill="#dcd1cb"/>
<rect x="475" y="356.3" width="4" height="4" fill="#dcd2cd"/>
<rect x="479" y="356.3" width="4" height="4" fill="#dcd3ce"/>
<rect x="483" y="356.3" width="4" height="4" fill="#ddd4d0"/>
<rect x="487" y="356.3" width="4" height="4" fill="#ddd5d1"/>
<rect x="491" y="356.3" width="4" height="4" fill="#ddd6d2"/>
<rect x="495" y="356.3" width="4" height="4" fill="#ded7d3"/>
<rect x="499" y="356.3" width="4" height="4" fill="#ded8d5"/>
<rect x="503" y="356.3" width="4" height="4" fill="#ded8d5"/>
<rect x="507" y="356.3" width="4" height="4" fill="#ded9d6"/>
<rect x="511" y="356.3" width="4" height="4" fill="#ded9d6"/>
<rect x="515" y="356.3" width="4" height="4" fill="#dfd9d7"/>
<rect x="519" y="356.3" width="4" height="4" fill="#dfd9d7"/>
<rect x="523" y="356.3" width="4" height="4" fill="#dfdad7"/>
<rect x="527" y="356.3" width="4" height="4" fill="#dfdad7"/>
<rect x="531" y="356.3" width="4" height="4" fill="#dfdad7"/>
<rect x="535" y="356.3" width="4" height="4" fill="#dfdad7"/>
<rect x="539" y="356.3" width="4" height="4" fill="#dfdad8"/>
<rect x="543" y="356.3" width="4" height="4" fill="#dfdad8"/>
<rect x="547" y="356.3" width="4" height="4" fill="#dfdad8"/>
<rect x="551" y="356.3" width="4" height="4" fill="#dfdbd8"/>
<rect x="555" y="356.3" width="4" height="4" fill="#dfdbd8"/>
<rect x="559" y="356.3" width="4" height="4" fill="#dfdbd9"/>
<rect x="563" y="356.3" width="4" height="4" fill="#dfdcd9"/>
<rect x="567" y="356.3" width="4" height="4" fill="#e0dcda"/>
<rect x="571" y="356.3" width="4" height="4" fill="#e0dcda"/>
<rect x="575" y="356.3" width="4" height="4" fill="#e0dddb"/>
<rect x="579" y="356.3" width="4" height="4" fill="#e0dedc"/>
<rect x="583" y="356.3" width="4" height="4" fill="#e1dedc"/>
<rect x="587" y="356.3" width="4" height="4" fill="#e1dfdd"/>
<rect x="591" y="356.3" width="4" height="4" fill="#e2e0de"/>
<rect x="595" y="356.3" width="4" height="4" fill="#e2e0df"/>
<rect x="599" y="356.3" width="4" height="4" fill="#e2e1df"/>
<rect x="603" y="356.3" width="4" height="4" fill="#e2e1e0"/>
<rect x="607" y="356.3" width="4" height="4" fill="#e3e2e0"/>
<rect x="611" y="356.3" width="4" height="4" fill="#e3e2e1"/>
<rect x="615" y="356.3" width="4" height="4" fill="#e3e2e1"/>
<rect x="619" y="356.3" width="4" height="4" fill="#e6e5e4"/>
<rect x="623" y="356.3" width="4" height="4" fill="#e6e5e4"/>
<rect x="627" y="356.3" width="4" height="4" fill="#e6e5e4"/>
<rect x="395" y="360.3" width="4" height="4" fill="#e9e9e8"/>
<rect x="399" y="360.3" width="4" height="4" fill="#e9e9e8"/>
<rect x="403" y="360.3" width="4" height="4" fill="#eaeae9"/>
<rect x="407" y="360.3" width="4" height="4" fill="#eaeae9"/>
<rect x="411" y="360.3" width="4" height="4" fill="#eaeae9"/>
<rect x="415" y="360.3" width="4" height="4" fill="#e7e7e6"/>
<rect x="419" y="360.3" width="4" height="4" fill="#e0dddb"/>
<rect x="423" y="360.3" width="4" height="4" fill="#ded7d3"/>
<rect x="427" y="360.3" width="4" height="4" fill="#d8c5bb"/>
<rect x="431" y="360.3" width="4" height="4" fill="#d8c5bb"/>
<rect x="435" y="360.3" width="4" height="4" fill="#d8c5bb"/>
<rect x="439" y="360.3" width="4" height="4" fill="#d8c5bb"/>
<rect x="443" y="360.3" width="4" height="4" fill="#d8c5bb"/>
<rect x="447" y="360.3" width="4" height="4" fill="#d8c5bb"/>
<rect x="451" y="360.3" width="4" height="4" fill="#d8c5bb"/>
<rect x="455" y="360.3" width="4" height="4" fill="#d8c5bb"/>
<rect x="459" y="360.3" width="4" height="4" fill="#d8c4ba"/>
<rect x="463" y="360.3" width="4" height="4" fill="#d8c7bd"/>
<rect x="467" y="360.3" width="4" height="4" fill="#d9cac2"/>
<rect x="471" y="360.3" width="4" height="4" fill="#dacdc6"/>
<rect x="475" y="360.3" width="4" height="4" fill="#dbcfc9"/>
<rect x="479" y="360.3" width="4" height="4" fill="#dbd0cb"/>
<rect x="483" y="360.3" width="4" height="4" fill="#dcd1cc"/>
<rect x="487" y="360.3" width="4" height="4" fill="#dcd2cd"/>
<rect x="491" y="360.3" width="4" height="4" fill="#dcd3ce"/>
<rect x="495" y="360.3" width="4" height="4" fill="#ddd4d0"/>
<rect x="499" y="360.3" width="4" height="4" fill="#ddd5d1"/>
<rect x="503" y="360.3" width="4" height="4" fill="#ddd6d2"/>
<rect x="507" y="360.3" width="4" height="4" fill="#ded7d3"/>
<rect x="511" y="360.3" width="4" height="4" fill="#ded7d4"/>
<rect x="515" y="360.3" width="4" height="4" fill="#ded7d4"/>
<rect x="519" y="360.3" width="4" height="4" fill="#ded8d4"/>
<rect x="523" y="360.3" width="4" height="4" fill="#ded8d5"/>
<rect x="527" y="360.3" width="4" height="4" fill="#ded8d5"/>
<rect x="531" y="360.3" width="4" height="4" fill="#ded8d5"/>
<rect x="535" y="360.3" width="4" height="4" fill="#ded8d5"/>
<rect x="539" y="360.3" width="4" height="4" fill="#ded8d5"/>
<rect x="543" y="360.3" width="4" height="4" fill="#ded9d6"/>
<rect x="547" y="360.3" width="4" height="4" fill="#ded9d6"/>
<rect x="551" y="360.3" width="4" height="4" fill="#ded9d6"/>
<rect x="555" y="360.3" width="4" height="4" fill="#ded9d6"/>
<rect x="559" y="360.3" width="4" height="4" fill="#dfdad7"/>
<rect x="563" y="360.3" width="4" height="4" fill="#dfdad8"/>
<rect x="567" y="360.3" width="4" height="4" fill="#dfdbd8"/>
<rect x="571" y="360.3" width="4" height="4" fill="#dfdbd9"/>
<rect x="575" y="360.3" width="4" height="4" fill="#dfdcd9"/>
<rect x="579" y="360.3" width="4" height="4" fill="#e0dcda"/>
<rect x="583" y="360.3" width="4" height="4" fill="#e0dddb"/>
<rect x="587" y="360.3" width="4" height="4" fill="#e0dedc"/>
<rect x="591" y="360.3" width="4" height="4" fill="#e1dedc"/>
<rect x="595" y="360.3" width="4" height="4" fill="#e1dfdd"/>
<rect x="599" y="360.3" width="4" height="4" fill="#e1dfde"/>
<rect x="603" y="360.3" width="4" height="4" fill="#e2e0de"/>
<rect x="607" y="360.3" width="4" height="4" fill="#e2e0df"/>
<rect x="611" y="360.3" width="4" height="4" fill="#e2e0df"/>
<rect x="615" y="360.3" width="4" height="4" fill="#e2e0df"/>
<rect x="619" y="360.3" width="4" height="4" fill="#e0dddb"/>
<rect x="623" y="360.3" width="4" height="4" fill="#e0dddb"/>
<rect x="627" y="360.3" width="4" height="4" fill="#e0dddb"/>
<rect x="395" y="364.3" width="4" height="4" fill="#e9e9e8"/>
<rect x="399" y="364.3" width="4" height="4" fill="#e9e9e8"/>
<rect x="403" y="364.3" width="4" height="4" fill="#e9e9e8"/>
<rect x="407" y="364.3" width="4" height="4" fill="#eaeae9"/>
<rect x="411" y="364.3" width="4" height="4" fill="#eae9e8"/>
<rect x="415" y="364.3" width="4" height="4" fill="#e6e6e5"/>
<rect x="419" y="364.3" width="4" height="4" fill="#dfdcd9"/>
<rect x="423" y="364.3" width="4" height="4" fill="#dcd1cc"/>
<rect x="427" y="364.3" width="4" height="4" fill="#d8c5bb"/>
<rect x="431" y="364.3" width="4" height="4" fill="#d8c5bb"/>
<rect x="435" y="364.3" width="4" height="4" fill="#d8c5bb"/>
<rect x="439" y="364.3" width="4" height="4" fill="#d8c5bb"/>
<rect x="443" y="364.3" width="4" height="4" fill="#d8c5bb"/>
<rect x="447" y="364.3" width="4" height="4" fill="#d8c5bb"/>
<rect x="451" y="364.3" width="4" height="4" fill="#d8c4ba"/>
<rect x="455" y="364.3" width="4" height="4" fill="#d8c3b8"/>
<rect x="459" y="364.3" width="4" height="4" fill="#d7c2b7"/>
<rect x="463" y="364.3" width="4" height="4" fill="#d7c3b8"/>
<rect x="467" y="364.3" width="4" height="4" fill="#d8c5ba"/>
<rect x="471" y="364.3" width="4" height="4" fill="#d9c7be"/>
<rect x="475" y="364.3" width="4" height="4" fill="#d9cac2"/>
<rect x="479" y="364.3" width="4" height="4" fill="#daccc5"/>
<rect x="483" y="364.3" width="4" height="4" fill="#dbcec8"/>
<rect x="487" y="364.3" width="4" height="4" fill="#dbcfca"/>
<rect x="491" y="364.3" width="4" height="4" fill="#dbd0cb"/>
<rect x="495" y="364.3" width="4" height="4" fill="#dcd1cc"/>
<rect x="499" y="364.3" width="4" height="4" fill="#dcd2cd"/>
<rect x="503" y="364.3" width="4" height="4" fill="#dcd3ce"/>
<rect x="507" y="364.3" width="4" height="4" fill="#ddd4cf"/>
<rect x="511" y="364.3" width="4" height="4" fill="#ddd4d0"/>
<rect x="515" y="364.3" width="4" height="4" fill="#ddd4d0"/>
<rect x="519" y="364.3" width="4" height="4" fill="#ddd5d0"/>
<rect x="523" y="364.3" width="4" height="4" fill="#ddd5d1"/>
<rect x="527" y="364.3" width="4" height="4" fill="#ddd5d1"/>
<rect x="531" y="364.3" width="4" height="4" fill="#ddd5d1"/>
<rect x="535" y="364.3" width="4" height="4" fill="#ddd5d1"/>
<rect x="539" y="364.3" width="4" height="4" fill="#ddd6d2"/>
<rect x="543" y="364.3" width="4" height="4" fill="#ddd6d2"/>
<rect x="547" y="364.3" width="4" height="4" fill="#ddd6d3"/>
<rect x="551" y="364.3" width="4" height="4" fill="#ded7d3"/>
<rect x="555" y="364.3" width="4" height="4" fill="#ded8d4"/>
<rect x="559" y="364.3" width="4" height="4" fill="#ded9d6"/>
<rect x="563" y="364.3" width="4" height="4" fill="#ded9d6"/>
<rect x="567" y="364.3" width="4" height="4" fill="#dfd9d7"/>
<rect x="571" y="364.3" width="4" height="4" fill="#dfdad7"/>
<rect x="575" y="364.3" width="4" height="4" fill="#dfdad8"/>
<rect x="579" y="364.3" width="4" height="4" fill="#dfdbd8"/>
<rect x="583" y="364.3" width="4" height="4" fill="#dfdbd9"/>
<rect x="587" y="364.3" width="4" height="4" fill="#e0dcda"/>
<rect x="591" y="364.3" width="4" height="4" fill="#e0dddb"/>
<rect x="595" y="364.3" width="4" height="4" fill="#e0dddb"/>
<rect x="599" y="364.3" width="4" height="4" fill="#e0dedc"/>
<rect x="603" y="364.3" width="4" height="4" fill="#e1dedc"/>
<rect x="607" y="364.3" width="4" height="4" fill="#e1dedd"/>
<rect x="611" y="364.3" width="4" height="4" fill="#e1dfdd"/>
<rect x="615" y="364.3" width="4" height="4" fill="#e1dfdd"/>
<rect x="619" y="364.3" width="4" height="4" fill="#e0dddb"/>
<rect x="623" y="364.3" width="4" height="4" fill="#e0dddb"/>
<rect x="627" y="364.3" width="4" height="4" fill="#e0dddb"/>
<rect x="395" y="368.3" width="4" height="4" fill="#e9e9e8"/>
<rect x="399" y="368.3" width="4" height="4" fill="#e9e9e8"/>
<rect x="403" y="368.3" width="4" height="4" fill="#e9e9e8"/>
<rect x="407" y="368.3" width="4" height="4" fill="#e9e8e7"/>
<rect x="411" y="368.3" width="4" height="4" fill="#e8e8e7"/>
<rect x="415" y="368.3" width="4" height="4" fill="#e5e4e3"/>
<rect x="419" y="368.3" width="4" height="4" fill="#ded8d5"/>
<rect x="423" y="368.3" width="4" height="4" fill="#d8c5bb"/>
<rect x="427" y="368.3" width="4" height="4" fill="#d8c5bb"/>
<rect x="431" y="368.3" width="4" height="4" fill="#d8c5bb"/>
<rect x="435" y="368.3" width="4" height="4" fill="#d8c5bb"/>
<rect x="439" y="368.3" width="4" height="4" fill="#d8c5bb"/>
<rect x="443" y="368.3" width="4" height="4" fill="#d8c4b9"/>
<rect x="447" y="368.3" width="4" height="4" fill="#d7c3b8"/>
<rect x="451" y="368.3" width="4" height="4" fill="#d7c2b7"/>
<rect x="455" y="368.3" width="4" height="4" fill="#d7c1b5"/>
<rect x="459" y="368.3" width="4" height="4" fill="#d7c0b4"/>
<rect x="463" y="368.3" width="4" height="4" fill="#d7c1b4"/>
<rect x="467" y="368.3" width="4" height="4" fill="#d7c2b6"/>
<rect x="471" y="368.3" width="4" height="4" fill="#d8c3b8"/>
<rect x="475" y="368.3" width="4" height="4" fill="#d8c5ba"/>
<rect x="479" y="368.3" width="4" height="4" fill="#d8c6bc"/>
<rect x="483" y="368.3" width="4" height="4" fill="#d9c8bf"/>
<rect x="487" y="368.3" width="4" height="4" fill="#dacac2"/>
<rect x="491" y="368.3" width="4" height="4" fill="#daccc5"/>
<rect x="495" y="368.3" width="4" height="4" fill="#dbcec8"/>
<rect x="499" y="368.3" width="4" height="4" fill="#dbd0ca"/>
<rect x="503" y="368.3" width="4" height="4" fill="#dbd0cb"/>
<rect x="507" y="368.3" width="4" height="4" fill="#dcd1cc"/>
<rect x="511" y="368.3" width="4" height="4" fill="#dcd1cc"/>
<rect x="515" y="368.3" width="4" height="4" fill="#dcd1cc"/>
<rect x="519" y="368.3" width="4" height="4" fill="#dcd1cc"/>
<rect x="523" y="368.3" width="4" height="4" fill="#dcd2cd"/>
<rect x="527" y="368.3" width="4" height="4" fill="#dcd2cd"/>
<rect x="531" y="368.3" width="4" height="4" fill="#dcd2cd"/>
<rect x="535" y="368.3" width="4" height="4" fill="#dcd2cd"/>
<rect x="539" y="368.3" width="4" height="4" fill="#dcd2ce"/>
<rect x="543" y="368.3" width="4" height="4" fill="#dcd3ce"/>
<rect x="547" y="368.3" width="4" height="4" fill="#dcd3cf"/>
<rect x="551" y="368.3" width="4" height="4" fill="#ddd4d0"/>
<rect x="555" y="368.3" width="4" height="4" fill="#ddd5d1"/>
<rect x="559" y="368.3" width="4" height="4" fill="#ded7d3"/>
<rect x="563" y="368.3" width="4" height="4" fill="#ded8d4"/>
<rect x="567" y="368.3" width="4" height="4" fill="#ded8d5"/>
<rect x="571" y="368.3" width="4" height="4" fill="#ded9d6"/>
<rect x="575" y="368.3" width="4" height="4" fill="#ded9d6"/>
<rect x="579" y="368.3" width="4" height="4" fill="#dfd9d7"/>
<rect x="583" y="368.3" width="4" height="4" fill="#dfdad7"/>
<rect x="587" y="368.3" width="4" height="4" fill="#dfdbd8"/>
<rect x="591" y="368.3" width="4" height="4" fill="#dfdbd9"/>
<rect x="595" y="368.3" width="4" height="4" fill="#dfdbd9"/>
<rect x="599" y="368.3" width="4" height="4" fill="#e0dcda"/>
<rect x="603" y="368.3" width="4" height="4" fill="#e0dcda"/>
<rect x="607" y="368.3" width="4" height="4" fill="#e0dddb"/>
<rect x="611" y="368.3" width="4" height="4" fill="#e0dddb"/>
<rect x="615" y="368.3" width="4" height="4" fill="#e0dddb"/>
<rect x="619" y="368.3" width="4" height="4" fill="#e0dddb"/>
<rect x="623" y="368.3" width="4" height="4" fill="#e0dddb"/>
<rect x="627" y="368.3" width="4" height="4" fill="#e0dddb"/>
<rect x="395" y="372.3" width="4" height="4" fill="#e9e9e8"/>
<rect x="399" y="372.3" width="4" height="4" fill="#e9e9e8"/>
<rect x="403" y="372.3" width="4" height="4" fill="#e9e9e8"/>
<rect x="407" y="372.3" width="4" height="4" fill="#e8e7e6"/>
<rect x="411" y="372.3" width="4" height="4" fill="#e7e6e5"/>
<rect x="415" y="372.3" width="4" height="4" fill="#e3e2e1"/>
<rect x="419" y="372.3" width="4" height="4" fill="#dcd1cb"/>
<rect x="423" y="372.3" width="4" height="4" fill="#d8c5bb"/>
<rect x="427" y="372.3" width="4" height="4" fill="#d8c5bb"/>
<rect x="431" y="372.3" width="4" height="4" fill="#d8c5ba"/>
<rect x="435" y="372.3" width="4" height="4" fill="#d8c4b9"/>
<rect x="439" y="372.3" width="4" height="4" fill="#d7c3b8"/>
<rect x="443" y="372.3" width="4" height="4" fill="#d7c2b6"/>
<rect x="447" y="372.3" width="4" height="4" fill="#d7c1b5"/>
<rect x="451" y="372.3" width="4" height="4" fill="#d7c0b4"/>
<rect x="455" y="372.3" width="4" height="4" fill="#d6bfb2"/>
<rect x="459" y="372.3" width="4" height="4" fill="#d6bfb1"/>
<rect x="463" y="372.3" width="4" height="4" fill="#d6beb0"/>
<rect x="467" y="372.3" width="4" height="4" fill="#d6c0b2"/>
<rect x="471" y="372.3" width="4" height="4" fill="#d7c1b5"/>
<rect x="475" y="372.3" width="4" height="4" fill="#d7c2b6"/>
<rect x="479" y="372.3" width="4" height="4" fill="#d7c3b8"/>
<rect x="483" y="372.3" width="4" height="4" fill="#d8c4b9"/>
<rect x="487" y="372.3" width="4" height="4" fill="#d8c5ba"/>
<rect x="491" y="372.3" width="4" height="4" fill="#d8c6bd"/>
<rect x="495" y="372.3" width="4" height="4" fill="#d9c8bf"/>
<rect x="499" y="372.3" width="4" height="4" fill="#dacac2"/>
<rect x="503" y="372.3" width="4" height="4" fill="#daccc5"/>
<rect x="507" y="372.3" width="4" height="4" fill="#dacdc6"/>
<rect x="511" y="372.3" width="4" height="4" fill="#dacdc6"/>
<rect x="515" y="372.3" width="4" height="4" fill="#dacdc7"/>
<rect x="519" y="372.3" width="4" height="4" fill="#dbcec7"/>
<rect x="523" y="372.3" width="4" height="4" fill="#dbcec7"/>
<rect x="527" y="372.3" width="4" height="4" fill="#dbcec8"/>
<rect x="531" y="372.3" width="4" height="4" fill="#dbcec8"/>
<rect x="535" y="372.3" width="4" height="4" fill="#dbcfc8"/>
<rect x="539" y="372.3" width="4" height="4" fill="#dbcfc9"/>
<rect x="543" y="372.3" width="4" height="4" fill="#dbd0ca"/>
<rect x="547" y="372.3" width="4" height="4" fill="#dbd0cb"/>
<rect x="551" y="372.3" width="4" height="4" fill="#dcd2cd"/>
<rect x="555" y="372.3" width="4" height="4" fill="#dcd3ce"/>
<rect x="559" y="372.3" width="4" height="4" fill="#ddd4d0"/>
<rect x="563" y="372.3" width="4" height="4" fill="#ddd5d1"/>
<rect x="567" y="372.3" width="4" height="4" fill="#ddd6d2"/>
<rect x="571" y="372.3" width="4" height="4" fill="#ded7d3"/>
<rect x="575" y="372.3" width="4" height="4" fill="#ded7d4"/>
<rect x="579" y="372.3" width="4" height="4" fill="#ded8d5"/>
<rect x="583" y="372.3" width="4" height="4" fill="#ded8d6"/>
<rect x="587" y="372.3" width="4" height="4" fill="#ded9d6"/>
<rect x="591" y="372.3" width="4" height="4" fill="#ded9d6"/>
<rect x="595" y="372.3" width="4" height="4" fill="#dfd9d7"/>
<rect x="599" y="372.3" width="4" height="4" fill="#dfdad7"/>
<rect x="603" y="372.3" width="4" height="4" fill="#dfdad8"/>
<rect x="607" y="372.3" width="4" height="4" fill="#dfdad7"/>
<rect x="611" y="372.3" width="4" height="4" fill="#dfdad7"/>
<rect x="615" y="372.3" width="4" height="4" fill="#dfdad7"/>
<rect x="619" y="372.3" width="4" height="4" fill="#e0dddb"/>
<rect x="623" y="372.3" width="4" height="4" fill="#e0dddb"/>
<rect x="627" y="372.3" width="4" height="4" fill="#e0dddb"/>
<rect x="395" y="376.3" width="4" height="4" fill="#e9e9e8"/>
<rect x="399" y="376.3" width="4" height="4" fill="#e9e9e8"/>
<rect x="403" y="376.3" width="4" height="4" fill="#e9e8e7"/>
<rect x="407" y="376.3" width="4" height="4" fill="#e8e7e6"/>
<rect x="411" y="376.3" width="4" height="4" fill="#e7e6e5"/>
<rect x="415" y="376.3" width="4" height="4" fill="#e2e0de"/>
<rect x="419" y="376.3" width="4" height="4" fill="#d8c6bc"/>
<rect x="423" y="376.3" width="4" height="4" fill="#d8c4ba"/>
<rect x="427" y="376.3" width="4" height="4" fill="#d8c4b9"/>
<rect x="431" y="376.3" width="4" height="4" fill="#d7c3b7"/>
<rect x="435" y="376.3" width="4" height="4" fill="#d7c2b6"/>
<rect x="439" y="376.3" width="4" height="4" fill="#d7c1b5"/>
<rect x="443" y="376.3" width="4" height="4" fill="#d7c0b3"/>
<rect x="447" y="376.3" width="4" height="4" fill="#d6bfb2"/>
<rect x="451" y="376.3" width="4" height="4" fill="#d6beb0"/>
<rect x="455" y="376.3" width="4" height="4" fill="#d6beb0"/>
<rect x="459" y="376.3" width="4" height="4" fill="#d6bdaf"/>
<rect x="463" y="376.3" width="4" height="4" fill="#d6bdae"/>
<rect x="467" y="376.3" width="4" height="4" fill="#d6beaf"/>
<rect x="471" y="376.3" width="4" height="4" fill="#d6beb1"/>
<rect x="475" y="376.3" width="4" height="4" fill="#d6bfb2"/>
<rect x="479" y="376.3" width="4" height="4" fill="#d7c0b4"/>
<rect x="483" y="376.3" width="4" height="4" fill="#d7c1b5"/>
<rect x="487" y="376.3" width="4" height="4" fill="#d7c2b6"/>
<rect x="491" y="376.3" width="4" height="4" fill="#d7c3b8"/>
<rect x="495" y="376.3" width="4" height="4" fill="#d8c4b9"/>
<rect x="499" y="376.3" width="4" height="4" fill="#d8c5ba"/>
<rect x="503" y="376.3" width="4" height="4" fill="#d8c6bc"/>
<rect x="507" y="376.3" width="4" height="4" fill="#d8c6bd"/>
<rect x="511" y="376.3" width="4" height="4" fill="#d8c6bd"/>
<rect x="515" y="376.3" width="4" height="4" fill="#d8c6bd"/>
<rect x="519" y="376.3" width="4" height="4" fill="#d8c7bd"/>
<rect x="523" y="376.3" width="4" height="4" fill="#d9c7bd"/>
<rect x="527" y="376.3" width="4" height="4" fill="#d9c7be"/>
<rect x="531" y="376.3" width="4" height="4" fill="#d9c7be"/>
<rect x="535" y="376.3" width="4" height="4" fill="#d9c8bf"/>
<rect x="539" y="376.3" width="4" height="4" fill="#d9c9c1"/>
<rect x="543" y="376.3" width="4" height="4" fill="#dacac2"/>
<rect x="547" y="376.3" width="4" height="4" fill="#dacdc6"/>
<rect x="551" y="376.3" width="4" height="4" fill="#dbcfca"/>
<rect x="555" y="376.3" width="4" height="4" fill="#dcd1cb"/>
<rect x="559" y="376.3" width="4" height="4" fill="#dcd2cd"/>
<rect x="563" y="376.3" width="4" height="4" fill="#dcd3ce"/>
<rect x="567" y="376.3" width="4" height="4" fill="#ddd4cf"/>
<rect x="571" y="376.3" width="4" height="4" fill="#ddd4d0"/>
<rect x="575" y="376.3" width="4" height="4" fill="#ddd5d1"/>
<rect x="579" y="376.3" width="4" height="4" fill="#ddd5d2"/>
<rect x="583" y="376.3" width="4" height="4" fill="#ddd6d2"/>
<rect x="587" y="376.3" width="4" height="4" fill="#ded7d3"/>
<rect x="591" y="376.3" width="4" height="4" fill="#ded7d3"/>
<rect x="595" y="376.3" width="4" height="4" fill="#ded7d4"/>
<rect x="599" y="376.3" width="4" height="4" fill="#ded7d4"/>
<rect x="603" y="376.3" width="4" height="4" fill="#ded8d4"/>
<rect x="607" y="376.3" width="4" height="4" fill="#ded7d4"/>
<rect x="611" y="376.3" width="4" height="4" fill="#ded7d4"/>
<rect x="615" y="376.3" width="4" height="4" fill="#ded7d3"/>
<rect x="619" y="376.3" width="4" height="4" fill="#e0dddb"/>
<rect x="623" y="376.3" width="4" height="4" fill="#e0dddb"/>
<rect x="627" y="376.3" width="4" height="4" fill="#e0dddb"/>
<rect x="395" y="380.3" width="4" height="4" fill="#e9e9e8"/>
<rect x="399" y="380.3" width="4" height="4" fill="#e9e9e8"/>
<rect x="403" y="380.3" width="4" height="4" fill="#e8e8e7"/>
<rect x="407" y="380.3" width="4" height="4" fill="#e7e7e6"/>
<rect x="411" y="380.3" width="4" height="4" fill="#e6e6e5"/>
<rect x="415" y="380.3" width="4" height="4" fill="#e0dedc"/>
<rect x="419" y="380.3" width="4" height="4" fill="#d8c5bb"/>
<rect x="423" y="380.3" width="4" height="4" fill="#d7c3b8"/>
<rect x="427" y="380.3" width="4" height="4" fill="#d7c2b6"/>
<rect x="431" y="380.3" width="4" height="4" fill="#d7c1b4"/>
<rect x="435" y="380.3" width="4" height="4" fill="#d7c0b3"/>
<rect x="439" y="380.3" width="4" height="4" fill="#d6bfb2"/>
<rect x="443" y="380.3" width="4" height="4" fill="#d6beb0"/>
<rect x="447" y="380.3" width="4" height="4" fill="#d6beaf"/>
<rect x="451" y="380.3" width="4" height="4" fill="#d6bdaf"/>
<rect x="455" y="380.3" width="4" height="4" fill="#d6bdae"/>
<rect x="459" y="380.3" width="4" height="4" fill="#d6bdad"/>
<rect x="463" y="380.3" width="4" height="4" fill="#d6bcac"/>
<rect x="467" y="380.3" width="4" height="4" fill="#d6bdad"/>
<rect x="471" y="380.3" width="4" height="4" fill="#d6bdae"/>
<rect x="475" y="380.3" width="4" height="4" fill="#d6beaf"/>
<rect x="479" y="380.3" width="4" height="4" fill="#d6beb0"/>
<rect x="483" y="380.3" width="4" height="4" fill="#d6bfb1"/>
<rect x="487" y="380.3" width="4" height="4" fill="#d6bfb2"/>
<rect x="491" y="380.3" width="4" height="4" fill="#d7c0b4"/>
<rect x="495" y="380.3" width="4" height="4" fill="#d7c1b5"/>
<rect x="499" y="380.3" width="4" height="4" fill="#d7c2b6"/>
<rect x="503" y="380.3" width="4" height="4" fill="#d7c3b7"/>
<rect x="507" y="380.3" width="4" height="4" fill="#d7c3b8"/>
<rect x="511" y="380.3" width="4" height="4" fill="#d7c3b8"/>
<rect x="515" y="380.3" width="4" height="4" fill="#d7c3b8"/>
<rect x="519" y="380.3" width="4" height="4" fill="#d7c3b8"/>
<rect x="523" y="380.3" width="4" height="4" fill="#d8c3b8"/>
<rect x="527" y="380.3" width="4" height="4" fill="#d8c3b8"/>
<rect x="531" y="380.3" width="4" height="4" fill="#d8c3b8"/>
<rect x="535" y="380.3" width="4" height="4" fill="#d8c4b9"/>
<rect x="539" y="380.3" width="4" height="4" fill="#d8c4ba"/>
<rect x="543" y="380.3" width="4" height="4" fill="#d8c5bb"/>
<rect x="547" y="380.3" width="4" height="4" fill="#d9c8bf"/>
<rect x="551" y="380.3" width="4" height="4" fill="#dacbc3"/>
<rect x="555" y="380.3" width="4" height="4" fill="#dbcec8"/>
<rect x="559" y="380.3" width="4" height="4" fill="#dbd0ca"/>
<rect x="563" y="380.3" width="4" height="4" fill="#dcd1cb"/>
<rect x="567" y="380.3" width="4" height="4" fill="#dcd1cc"/>
<rect x="571" y="380.3" width="4" height="4" fill="#dcd2cd"/>
<rect x="575" y="380.3" width="4" height="4" fill="#dcd3ce"/>
<rect x="579" y="380.3" width="4" height="4" fill="#dcd3ce"/>
<rect x="583" y="380.3" width="4" height="4" fill="#dcd3cf"/>
<rect x="587" y="380.3" width="4" height="4" fill="#dcd3cf"/>
<rect x="591" y="380.3" width="4" height="4" fill="#dcd3cf"/>
<rect x="595" y="380.3" width="4" height="4" fill="#dcd3cf"/>
<rect x="599" y="380.3" width="4" height="4" fill="#dcd3cf"/>
<rect x="603" y="380.3" width="4" height="4" fill="#dcd3cf"/>
<rect x="607" y="380.3" width="4" height="4" fill="#dcd3ce"/>
<rect x="611" y="380.3" width="4" height="4" fill="#dcd2cd"/>
<rect x="615" y="380.3" width="4" height="4" fill="#dcd2cd"/>
<rect x="619" y="380.3" width="4" height="4" fill="#d8c5bb"/>
<rect x="623" y="380.3" width="4" height="4" fill="#d8c5bb"/>
<rect x="627" y="380.3" width="4" height="4" fill="#d8c5bb"/>
<rect x="395" y="384.3" width="4" height="4" fill="#e8e7e6"/>
<rect x="399" y="384.3" width="4" height="4" fill="#e8e7e6"/>
<rect x="403" y="384.3" width="4" height="4" fill="#e8e8e7"/>
<rect x="407" y="384.3" width="4" height="4" fill="#e7e6e5"/>
<rect x="411" y="384.3" width="4" height="4" fill="#e6e5e4"/>
<rect x="415" y="384.3" width="4" height="4" fill="#dfdbd9"/>
<rect x="419" y="384.3" width="4" height="4" fill="#d8c4ba"/>
<rect x="423" y="384.3" width="4" height="4" fill="#d7c3b8"/>
<rect x="427" y="384.3" width="4" height="4" fill="#d7c1b5"/>
<rect x="431" y="384.3" width="4" height="4" fill="#d6c0b3"/>
<rect x="435" y="384.3" width="4" height="4" fill="#d6beb0"/>
<rect x="439" y="384.3" width="4" height="4" fill="#d6beaf"/>
<rect x="443" y="384.3" width="4" height="4" fill="#d6bdae"/>
<rect x="447" y="384.3" width="4" height="4" fill="#d6bdae"/>
<rect x="451" y="384.3" width="4" height="4" fill="#d6bcad"/>
<rect x="455" y="384.3" width="4" height="4" fill="#d6bcac"/>
<rect x="459" y="384.3" width="4" height="4" fill="#d6bcab"/>
<rect x="463" y="384.3" width="4" height="4" fill="#d6bbab"/>
<rect x="467" y="384.3" width="4" height="4" fill="#d6bbab"/>
<rect x="471" y="384.3" width="4" height="4" fill="#d6bcac"/>
<rect x="475" y="384.3" width="4" height="4" fill="#d6bcad"/>
<rect x="479" y="384.3" width="4" height="4" fill="#d6bdae"/>
<rect x="483" y="384.3" width="4" height="4" fill="#d6bdae"/>
<rect x="487" y="384.3" width="4" height="4" fill="#d6beaf"/>
<rect x="491" y="384.3" width="4" height="4" fill="#d6beb0"/>
<rect x="495" y="384.3" width="4" height="4" fill="#d6beb1"/>
<rect x="499" y="384.3" width="4" height="4" fill="#d6bfb2"/>
<rect x="503" y="384.3" width="4" height="4" fill="#d7c0b3"/>
<rect x="507" y="384.3" width="4" height="4" fill="#d7c1b5"/>
<rect x="511" y="384.3" width="4" height="4" fill="#d7c1b5"/>
<rect x="515" y="384.3" width="4" height="4" fill="#d7c1b5"/>
<rect x="519" y="384.3" width="4" height="4" fill="#d7c1b5"/>
<rect x="523" y="384.3" width="4" height="4" fill="#d7c1b5"/>
<rect x="527" y="384.3" width="4" height="4" fill="#d7c1b5"/>
<rect x="531" y="384.3" width="4" height="4" fill="#d7c1b5"/>
<rect x="535" y="384.3" width="4" height="4" fill="#d7c2b6"/>
<rect x="539" y="384.3" width="4" height="4" fill="#d7c2b6"/>
<rect x="543" y="384.3" width="4" height="4" fill="#d7c2b7"/>
<rect x="547" y="384.3" width="4" height="4" fill="#d8c4b9"/>
<rect x="551" y="384.3" width="4" height="4" fill="#d8c6bc"/>
<rect x="555" y="384.3" width="4" height="4" fill="#d9c9c1"/>
<rect x="559" y="384.3" width="4" height="4" fill="#daccc5"/>
<rect x="563" y="384.3" width="4" height="4" fill="#dbcec7"/>
<rect x="567" y="384.3" width="4" height="4" fill="#dbcfc9"/>
<rect x="571" y="384.3" width="4" height="4" fill="#dbd0ca"/>
<rect x="575" y="384.3" width="4" height="4" fill="#dbd0ca"/>
<rect x="579" y="384.3" width="4" height="4" fill="#dbd0ca"/>
<rect x="583" y="384.3" width="4" height="4" fill="#dbd0cb"/>
<rect x="587" y="384.3" width="4" height="4" fill="#dbd0cb"/>
<rect x="591" y="384.3" width="4" height="4" fill="#dbd0ca"/>
<rect x="595" y="384.3" width="4" height="4" fill="#dbd0ca"/>
<rect x="599" y="384.3" width="4" height="4" fill="#dbcfc9"/>
<rect x="603" y="384.3" width="4" height="4" fill="#dbcfc9"/>
<rect x="607" y="384.3" width="4" height="4" fill="#dbcdc7"/>
<rect x="611" y="384.3" width="4" height="4" fill="#daccc5"/>
<rect x="615" y="384.3" width="4" height="4" fill="#dacbc3"/>
<rect x="619" y="384.3" width="4" height="4" fill="#d8c5bb"/>
<rect x="623" y="384.3" width="4" height="4" fill="#d8c5bb"/>
<rect x="627" y="384.3" width="4" height="4" fill="#d8c5bb"/>
<rect x="395" y="388.3" width="4" height="4" fill="#e8e7e6"/>
<rect x="399" y="388.3" width="4" height="4" fill="#e8e7e6"/>
<rect x="403" y="388.3" width="4" height="4" fill="#e8e7e6"/>
<rect x="407" y="388.3" width="4" height="4" fill="#e7e6e5"/>
<rect x="411" y="388.3" width="4" height="4" fill="#e6e5e4"/>
<rect x="415" y="388.3" width="4" height="4" fill="#ded8d5"/>
<rect x="419" y="388.3" width="4" height="4" fill="#d8c4ba"/>
<rect x="423" y="388.3" width="4" height="4" fill="#d7c2b7"/>
<rect x="427" y="388.3" width="4" height="4" fill="#d7c1b5"/>
<rect x="431" y="388.3" width="4" height="4" fill="#d6bfb2"/>
<rect x="435" y="388.3" width="4" height="4" fill="#d6beb0"/>
<rect x="439" y="388.3" width="4" height="4" fill="#d6bdae"/>
<rect x="443" y="388.3" width="4" height="4" fill="#d6bdad"/>
<rect x="447" y="388.3" width="4" height="4" fill="#d6bcac"/>
<rect x="451" y="388.3" width="4" height="4" fill="#d6bcab"/>
<rect x="455" y="388.3" width="4" height="4" fill="#d6bbaa"/>
<rect x="459" y="388.3" width="4" height="4" fill="#d6bbaa"/>
<rect x="463" y="388.3" width="4" height="4" fill="#d6bbaa"/>
<rect x="467" y="388.3" width="4" height="4" fill="#d6bbaa"/>
<rect x="471" y="388.3" width="4" height="4" fill="#d6bbaa"/>
<rect x="475" y="388.3" width="4" height="4" fill="#d6bbab"/>
<rect x="479" y="388.3" width="4" height="4" fill="#d6bcab"/>
<rect x="483" y="388.3" width="4" height="4" fill="#d6bcac"/>
<rect x="487" y="388.3" width="4" height="4" fill="#d6bcad"/>
<rect x="491" y="388.3" width="4" height="4" fill="#d6bdad"/>
<rect x="495" y="388.3" width="4" height="4" fill="#d6bdae"/>
<rect x="499" y="388.3" width="4" height="4" fill="#d6bdaf"/>
<rect x="503" y="388.3" width="4" height="4" fill="#d6beb0"/>
<rect x="507" y="388.3" width="4" height="4" fill="#d6beb0"/>
<rect x="511" y="388.3" width="4" height="4" fill="#d6bfb1"/>
<rect x="515" y="388.3" width="4" height="4" fill="#d6bfb1"/>
<rect x="519" y="388.3" width="4" height="4" fill="#d6bfb1"/>
<rect x="523" y="388.3" width="4" height="4" fill="#d6bfb1"/>
<rect x="527" y="388.3" width="4" height="4" fill="#d6bfb1"/>
<rect x="531" y="388.3" width="4" height="4" fill="#d6bfb2"/>
<rect x="535" y="388.3" width="4" height="4" fill="#d6c0b2"/>
<rect x="539" y="388.3" width="4" height="4" fill="#d7c0b3"/>
<rect x="543" y="388.3" width="4" height="4" fill="#d7c0b4"/>
<rect x="547" y="388.3" width="4" height="4" fill="#d7c1b4"/>
<rect x="551" y="388.3" width="4" height="4" fill="#d7c3b7"/>
<rect x="555" y="388.3" width="4" height="4" fill="#d8c4ba"/>
<rect x="559" y="388.3" width="4" height="4" fill="#d9c7be"/>
<rect x="563" y="388.3" width="4" height="4" fill="#d9c8c0"/>
<rect x="567" y="388.3" width="4" height="4" fill="#d9c9c1"/>
<rect x="571" y="388.3" width="4" height="4" fill="#dacbc3"/>
<rect x="575" y="388.3" width="4" height="4" fill="#dacbc3"/>
<rect x="579" y="388.3" width="4" height="4" fill="#dacbc4"/>
<rect x="583" y="388.3" width="4" height="4" fill="#daccc4"/>
<rect x="587" y="388.3" width="4" height="4" fill="#dacbc3"/>
<rect x="591" y="388.3" width="4" height="4" fill="#d9c9c1"/>
<rect x="595" y="388.3" width="4" height="4" fill="#d9c8bf"/>
<rect x="599" y="388.3" width="4" height="4" fill="#d9c7bd"/>
<rect x="603" y="388.3" width="4" height="4" fill="#d8c5bb"/>
<rect x="607" y="388.3" width="4" height="4" fill="#d8c4ba"/>
<rect x="611" y="388.3" width="4" height="4" fill="#d7c3b8"/>
<rect x="615" y="388.3" width="4" height="4" fill="#d7c2b6"/>
<rect x="619" y="388.3" width="4" height="4" fill="#d8c5bb"/>
<rect x="623" y="388.3" width="4" height="4" fill="#d8c5bb"/>
<rect x="627" y="388.3" width="4" height="4" fill="#d8c5bb"/>
<rect x="395" y="392.3" width="4" height="4" fill="#e8e7e6"/>
<rect x="399" y="392.3" width="4" height="4" fill="#e8e7e6"/>
<rect x="403" y="392.3" width="4" height="4" fill="#e8e7e6"/>
<rect x="407" y="392.3" width="4" height="4" fill="#e7e6e5"/>
<rect x="411" y="392.3" width="4" height="4" fill="#e4e3e2"/>
<rect x="415" y="392.3" width="4" height="4" fill="#dcd3ce"/>
<rect x="419" y="392.3" width="4" height="4" fill="#d8c4b9"/>
<rect x="423" y="392.3" width="4" height="4" fill="#d7c2b7"/>
<rect x="427" y="392.3" width="4" height="4" fill="#d7c1b4"/>
<rect x="431" y="392.3" width="4" height="4" fill="#d6bfb2"/>
<rect x="435" y="392.3" width="4" height="4" fill="#d6beb0"/>
<rect x="439" y="392.3" width="4" height="4" fill="#d6bdae"/>
<rect x="443" y="392.3" width="4" height="4" fill="#d6bcad"/>
<rect x="447" y="392.3" width="4" height="4" fill="#d6bcab"/>
<rect x="451" y="392.3" width="4" height="4" fill="#d6bbaa"/>
<rect x="455" y="392.3" width="4" height="4" fill="#d6bbaa"/>
<rect x="459" y="392.3" width="4" height="4" fill="#d6bbaa"/>
<rect x="463" y="392.3" width="4" height="4" fill="#d6bbaa"/>
<rect x="467" y="392.3" width="4" height="4" fill="#d6bbaa"/>
<rect x="471" y="392.3" width="4" height="4" fill="#d6bbaa"/>
<rect x="475" y="392.3" width="4" height="4" fill="#d6bbaa"/>
<rect x="479" y="392.3" width="4" height="4" fill="#d6bbaa"/>
<rect x="483" y="392.3" width="4" height="4" fill="#d6bbaa"/>
<rect x="487" y="392.3" width="4" height="4" fill="#d6bbab"/>
<rect x="491" y="392.3" width="4" height="4" fill="#d6bcab"/>
<rect x="495" y="392.3" width="4" height="4" fill="#d6bcac"/>
<rect x="499" y="392.3" width="4" height="4" fill="#d6bcad"/>
<rect x="503" y="392.3" width="4" height="4" fill="#d6bdad"/>
<rect x="507" y="392.3" width="4" height="4" fill="#d6bdae"/>
<rect x="511" y="392.3" width="4" height="4" fill="#d6bdaf"/>
<rect x="515" y="392.3" width="4" height="4" fill="#d6bdaf"/>
<rect x="519" y="392.3" width="4" height="4" fill="#d6bdaf"/>
<rect x="523" y="392.3" width="4" height="4" fill="#d6bdaf"/>
<rect x="527" y="392.3" width="4" height="4" fill="#d6bdaf"/>
<rect x="531" y="392.3" width="4" height="4" fill="#d6beaf"/>
<rect x="535" y="392.3" width="4" height="4" fill="#d6beb0"/>
<rect x="539" y="392.3" width="4" height="4" fill="#d6beb0"/>
<rect x="543" y="392.3" width="4" height="4" fill="#d6beb0"/>
<rect x="547" y="392.3" width="4" height="4" fill="#d6beb1"/>
<rect x="551" y="392.3" width="4" height="4" fill="#d6c0b2"/>
<rect x="555" y="392.3" width="4" height="4" fill="#d7c1b5"/>
<rect x="559" y="392.3" width="4" height="4" fill="#d7c3b8"/>
<rect x="563" y="392.3" width="4" height="4" fill="#d8c4b9"/>
<rect x="567" y="392.3" width="4" height="4" fill="#d8c4ba"/>
<rect x="571" y="392.3" width="4" height="4" fill="#d8c5bb"/>
<rect x="575" y="392.3" width="4" height="4" fill="#d8c5bb"/>
<rect x="579" y="392.3" width="4" height="4" fill="#d8c5bb"/>
<rect x="583" y="392.3" width="4" height="4" fill="#d8c5bb"/>
<rect x="587" y="392.3" width="4" height="4" fill="#d8c4b9"/>
<rect x="591" y="392.3" width="4" height="4" fill="#d7c3b8"/>
<rect x="595" y="392.3" width="4" height="4" fill="#d7c2b6"/>
<rect x="599" y="392.3" width="4" height="4" fill="#d7c1b4"/>
<rect x="603" y="392.3" width="4" height="4" fill="#d6c0b3"/>
<rect x="607" y="392.3" width="4" height="4" fill="#d6bfb1"/>
<rect x="611" y="392.3" width="4" height="4" fill="#d6beaf"/>
<rect x="615" y="392.3" width="4" height="4" fill="#d6bdae"/>
<rect x="619" y="392.3" width="4" height="4" fill="#d8c5bb"/>
<rect x="623" y="392.3" width="4" height="4" fill="#d8c5bb"/>
<rect x="627" y="392.3" width="4" height="4" fill="#d8c5bb"/>
<rect x="395" y="396.3" width="4" height="4" fill="#e8e7e6"/>
<rect x="399" y="396.3" width="4" height="4" fill="#e8e7e6"/>
<rect x="403" y="396.3" width="4" height="4" fill="#e7e6e5"/>
<rect x="407" y="396.3" width="4" height="4" fill="#e6e5e4"/>
<rect x="411" y="396.3" width="4" height="4" fill="#e2e1df"/>
<rect x="415" y="396.3" width="4" height="4" fill="#d9c9c1"/>
<rect x="419" y="396.3" width="4" height="4" fill="#d7c1b5"/>
<rect x="423" y="396.3" width="4" height="4" fill="#d7c0b3"/>
<rect x="427" y="396.3" width="4" height="4" fill="#d6bfb1"/>
<rect x="431" y="396.3" width="4" height="4" fill="#d6beb0"/>
<rect x="435" y="396.3" width="4" height="4" fill="#d6bdae"/>
<rect x="439" y="396.3" width="4" height="4" fill="#d6bdad"/>
<rect x="443" y="396.3" width="4" height="4" fill="#d6bcac"/>
<rect x="447" y="396.3" width="4" height="4" fill="#d6bcab"/>
<rect x="451" y="396.3" width="4" height="4" fill="#d6bbaa"/>
<rect x="455" y="396.3" width="4" height="4" fill="#d6bbaa"/>
<rect x="459" y="396.3" width="4" height="4" fill="#d6bbaa"/>
<rect x="463" y="396.3" width="4" height="4" fill="#d6bbaa"/>
<rect x="467" y="396.3" width="4" height="4" fill="#d6bbaa"/>
<rect x="471" y="396.3" width="4" height="4" fill="#d6bbaa"/>
<rect x="475" y="396.3" width="4" height="4" fill="#d6bbaa"/>
<rect x="479" y="396.3" width="4" height="4" fill="#d6bbaa"/>
<rect x="483" y="396.3" width="4" height="4" fill="#d6bbaa"/>
<rect x="487" y="396.3" width="4" height="4" fill="#d6bbaa"/>
<rect x="491" y="396.3" width="4" height="4" fill="#d6bbaa"/>
<rect x="495" y="396.3" width="4" height="4" fill="#d6bbaa"/>
<rect x="499" y="396.3" width="4" height="4" fill="#d6bbaa"/>
<rect x="503" y="396.3" width="4" height="4" fill="#d6bcab"/>
<rect x="507" y="396.3" width="4" height="4" fill="#d6bcac"/>
<rect x="511" y="396.3" width="4" height="4" fill="#d6bcac"/>
<rect x="515" y="396.3" width="4" height="4" fill="#d6bcad"/>
<rect x="519" y="396.3" width="4" height="4" fill="#d6bcad"/>
<rect x="523" y="396.3" width="4" height="4" fill="#d6bcad"/>
<rect x="527" y="396.3" width="4" height="4" fill="#d6bdad"/>
<rect x="531" y="396.3" width="4" height="4" fill="#d6bdad"/>
<rect x="535" y="396.3" width="4" height="4" fill="#d6bdae"/>
<rect x="539" y="396.3" width="4" height="4" fill="#d6bdae"/>
<rect x="543" y="396.3" width="4" height="4" fill="#d6bdae"/>
<rect x="547" y="396.3" width="4" height="4" fill="#d6bdaf"/>
<rect x="551" y="396.3" width="4" height="4" fill="#d6bdaf"/>
<rect x="555" y="396.3" width="4" height="4" fill="#d6beb1"/>
<rect x="559" y="396.3" width="4" height="4" fill="#d7c0b3"/>
<rect x="563" y="396.3" width="4" height="4" fill="#d7c1b4"/>
<rect x="567" y="396.3" width="4" height="4" fill="#d7c1b5"/>
<rect x="571" y="396.3" width="4" height="4" fill="#d7c1b5"/>
<rect x="575" y="396.3" width="4" height="4" fill="#d7c1b4"/>
<rect x="579" y="396.3" width="4" height="4" fill="#d7c0b4"/>
<rect x="583" y="396.3" width="4" height="4" fill="#d7c0b3"/>
<rect x="587" y="396.3" width="4" height="4" fill="#d6bfb2"/>
<rect x="591" y="396.3" width="4" height="4" fill="#d6beb0"/>
<rect x="595" y="396.3" width="4" height="4" fill="#d6beaf"/>
<rect x="599" y="396.3" width="4" height="4" fill="#d6bdae"/>
<rect x="603" y="396.3" width="4" height="4" fill="#d6bcad"/>
<rect x="607" y="396.3" width="4" height="4" fill="#d6bcac"/>
<rect x="611" y="396.3" width="4" height="4" fill="#d6bbab"/>
<rect x="615" y="396.3" width="4" height="4" fill="#d6bbaa"/>
<rect x="619" y="396.3" width="4" height="4" fill="#d8c5bb"/>
<rect x="623" y="396.3" width="4" height="4" fill="#d8c5bb"/>
<rect x="627" y="396.3" width="4" height="4" fill="#d8c5bb"/>
<rect x="395" y="400.3" width="4" height="4" fill="#e6e5e4"/>
<rect x="399" y="400.3" width="4" height="4" fill="#e6e5e4"/>
<rect x="403" y="400.3" width="4" height="4" fill="#e6e5e4"/>
<rect x="407" y="400.3" width="4" height="4" fill="#e3e2e0"/>
<rect x="411" y="400.3" width="4" height="4" fill="#e1dedc"/>
<rect x="415" y="400.3" width="4" height="4" fill="#d8c4b9"/>
<rect x="419" y="400.3" width="4" height="4" fill="#d6bdaf"/>
<rect x="423" y="400.3" width="4" height="4" fill="#d6bdae"/>
<rect x="427" y="400.3" width="4" height="4" fill="#d6bcad"/>
<rect x="431" y="400.3" width="4" height="4" fill="#d6bcab"/>
<rect x="435" y="400.3" width="4" height="4" fill="#d6bbaa"/>
<rect x="439" y="400.3" width="4" height="4" fill="#d6bbaa"/>
<rect x="443" y="400.3" width="4" height="4" fill="#d6bbaa"/>
<rect x="447" y="400.3" width="4" height="4" fill="#d6bbaa"/>
<rect x="451" y="400.3" width="4" height="4" fill="#d6bbaa"/>
<rect x="455" y="400.3" width="4" height="4" fill="#d6bbaa"/>
<rect x="459" y="400.3" width="4" height="4" fill="#d6bbaa"/>
<rect x="463" y="400.3" width="4" height="4" fill="#d5bba9"/>
<rect x="467" y="400.3" width="4" height="4" fill="#d5bba9"/>
<rect x="471" y="400.3" width="4" height="4" fill="#d5bba9"/>
<rect x="475" y="400.3" width="4" height="4" fill="#d6bbaa"/>
<rect x="479" y="400.3" width="4" height="4" fill="#d6bbaa"/>
<rect x="483" y="400.3" width="4" height="4" fill="#d6bbaa"/>
<rect x="487" y="400.3" width="4" height="4" fill="#d6bbaa"/>
<rect x="491" y="400.3" width="4" height="4" fill="#d6bbaa"/>
<rect x="495" y="400.3" width="4" height="4" fill="#d6bbaa"/>
<rect x="499" y="400.3" width="4" height="4" fill="#d6bbaa"/>
<rect x="503" y="400.3" width="4" height="4" fill="#d6bbaa"/>
<rect x="507" y="400.3" width="4" height="4" fill="#d6bbaa"/>
<rect x="511" y="400.3" width="4" height="4" fill="#d6bbaa"/>
<rect x="515" y="400.3" width="4" height="4" fill="#d6bbab"/>
<rect x="519" y="400.3" width="4" height="4" fill="#d6bbab"/>
<rect x="523" y="400.3" width="4" height="4" fill="#d6bbab"/>
<rect x="527" y="400.3" width="4" height="4" fill="#d6bcab"/>
<rect x="531" y="400.3" width="4" height="4" fill="#d6bcac"/>
<rect x="535" y="400.3" width="4" height="4" fill="#d6bcac"/>
<rect x="539" y="400.3" width="4" height="4" fill="#d6bcac"/>
<rect x="543" y="400.3" width="4" height="4" fill="#d6bcac"/>
<rect x="547" y="400.3" width="4" height="4" fill="#d6bcad"/>
<rect x="551" y="400.3" width="4" height="4" fill="#d6bdad"/>
<rect x="555" y="400.3" width="4" height="4" fill="#d6bdae"/>
<rect x="559" y="400.3" width="4" height="4" fill="#d6beaf"/>
<rect x="563" y="400.3" width="4" height="4" fill="#d6beb0"/>
<rect x="567" y="400.3" width="4" height="4" fill="#d6beb0"/>
<rect x="571" y="400.3" width="4" height="4" fill="#d6beaf"/>
<rect x="575" y="400.3" width="4" height="4" fill="#d6bdaf"/>
<rect x="579" y="400.3" width="4" height="4" fill="#d6bdae"/>
<rect x="583" y="400.3" width="4" height="4" fill="#d6bdae"/>
<rect x="587" y="400.3" width="4" height="4" fill="#d6bcad"/>
<rect x="591" y="400.3" width="4" height="4" fill="#d6bcac"/>
<rect x="595" y="400.3" width="4" height="4" fill="#d6bbab"/>
<rect x="599" y="400.3" width="4" height="4" fill="#d6bbaa"/>
<rect x="603" y="400.3" width="4" height="4" fill="#d6bbaa"/>
<rect x="607" y="400.3" width="4" height="4" fill="#d6bbaa"/>
<rect x="611" y="400.3" width="4" height="4" fill="#d6bbaa"/>
<rect x="615" y="400.3" width="4" height="4" fill="#d6bbaa"/>
<rect x="619" y="400.3" width="4" height="4" fill="#d3bcaa"/>
<rect x="623" y="400.3" width="4" height="4" fill="#d3bcaa"/>
<rect x="627" y="400.3" width="4" height="4" fill="#d3bcaa"/>
<rect x="395" y="404.3" width="4" height="4" fill="#e6e5e4"/>
<rect x="399" y="404.3" width="4" height="4" fill="#e6e5e4"/>
<rect x="403" y="404.3" width="4" height="4" fill="#e4e3e2"/>
<rect x="407" y="404.3" width="4" height="4" fill="#e2e1e0"/>
<rect x="411" y="404.3" width="4" height="4" fill="#e0dedc"/>
<rect x="415" y="404.3" width="4" height="4" fill="#d7c2b6"/>
<rect x="419" y="404.3" width="4" height="4" fill="#d6bcac"/>
<rect x="423" y="404.3" width="4" height="4" fill="#d6bbaa"/>
<rect x="427" y="404.3" width="4" height="4" fill="#d6bbaa"/>
<rect x="431" y="404.3" width="4" height="4" fill="#d6bbaa"/>
<rect x="435" y="404.3" width="4" height="4" fill="#d6bbaa"/>
<rect x="439" y="404.3" width="4" height="4" fill="#d6bbaa"/>
<rect x="443" y="404.3" width="4" height="4" fill="#d6bbaa"/>
<rect x="447" y="404.3" width="4" height="4" fill="#d5bba9"/>
<rect x="451" y="404.3" width="4" height="4" fill="#d5bba9"/>
<rect x="455" y="404.3" width="4" height="4" fill="#d5bba9"/>
<rect x="459" y="404.3" width="4" height="4" fill="#d5bba9"/>
<rect x="463" y="404.3" width="4" height="4" fill="#d5bba9"/>
<rect x="467" y="404.3" width="4" height="4" fill="#d5bba9"/>
<rect x="471" y="404.3" width="4" height="4" fill="#d5bba9"/>
<rect x="475" y="404.3" width="4" height="4" fill="#d5bba9"/>
<rect x="479" y="404.3" width="4" height="4" fill="#d5bba9"/>
<rect x="483" y="404.3" width="4" height="4" fill="#d5bba9"/>
<rect x="487" y="404.3" width="4" height="4" fill="#d6bbaa"/>
<rect x="491" y="404.3" width="4" height="4" fill="#d6bbaa"/>
<rect x="495" y="404.3" width="4" height="4" fill="#d6bbaa"/>
<rect x="499" y="404.3" width="4" height="4" fill="#d6bbaa"/>
<rect x="503" y="404.3" width="4" height="4" fill="#d6bbaa"/>
<rect x="507" y="404.3" width="4" height="4" fill="#d6bbaa"/>
<rect x="511" y="404.3" width="4" height="4" fill="#d6bbaa"/>
<rect x="515" y="404.3" width="4" height="4" fill="#d6bbaa"/>
<rect x="519" y="404.3" width="4" height="4" fill="#d6bbaa"/>
<rect x="523" y="404.3" width="4" height="4" fill="#d6bbaa"/>
<rect x="527" y="404.3" width="4" height="4" fill="#d6bbaa"/>
<rect x="531" y="404.3" width="4" height="4" fill="#d6bbaa"/>
<rect x="535" y="404.3" width="4" height="4" fill="#d6bbaa"/>
<rect x="539" y="404.3" width="4" height="4" fill="#d6bbaa"/>
<rect x="543" y="404.3" width="4" height="4" fill="#d6bbab"/>
<rect x="547" y="404.3" width="4" height="4" fill="#d6bbab"/>
<rect x="551" y="404.3" width="4" height="4" fill="#d6bcab"/>
<rect x="555" y="404.3" width="4" height="4" fill="#d6bcab"/>
<rect x="559" y="404.3" width="4" height="4" fill="#d6bcad"/>
<rect x="563" y="404.3" width="4" height="4" fill="#d6bcad"/>
<rect x="567" y="404.3" width="4" height="4" fill="#d6bcac"/>
<rect x="571" y="404.3" width="4" height="4" fill="#d6bcac"/>
<rect x="575" y="404.3" width="4" height="4" fill="#d6bcab"/>
<rect x="579" y="404.3" width="4" height="4" fill="#d6bbab"/>
<rect x="583" y="404.3" width="4" height="4" fill="#d6bbaa"/>
<rect x="587" y="404.3" width="4" height="4" fill="#d6bbaa"/>
<rect x="591" y="404.3" width="4" height="4" fill="#d6bbaa"/>
<rect x="595" y="404.3" width="4" height="4" fill="#d6bbaa"/>
<rect x="599" y="404.3" width="4" height="4" fill="#d6bbaa"/>
<rect x="603" y="404.3" width="4" height="4" fill="#d6bbaa"/>
<rect x="607" y="404.3" width="4" height="4" fill="#d5bba9"/>
<rect x="611" y="404.3" width="4" height="4" fill="#d5bba9"/>
<rect x="615" y="404.3" width="4" height="4" fill="#d5bba9"/>
<rect x="619" y="404.3" width="4" height="4" fill="#d3bcaa"/>
<rect x="623" y="404.3" width="4" height="4" fill="#d3bcaa"/>
<rect x="627" y="404.3" width="4" height="4" fill="#d3bcaa"/>
<rect x="395" y="408.3" width="4" height="4" fill="#e6e5e4"/>
<rect x="399" y="408.3" width="4" height="4" fill="#e6e5e4"/>
<rect x="403" y="408.3" width="4" height="4" fill="#e4e3e2"/>
<rect x="407" y="408.3" width="4" height="4" fill="#e2e0df"/>
<rect x="411" y="408.3" width="4" height="4" fill="#e0dddb"/>
<rect x="415" y="408.3" width="4" height="4" fill="#d6c0b3"/>
<rect x="419" y="408.3" width="4" height="4" fill="#d6bbaa"/>
<rect x="423" y="408.3" width="4" height="4" fill="#d6bbaa"/>
<rect x="427" y="408.3" width="4" height="4" fill="#d6bbaa"/>
<rect x="431" y="408.3" width="4" height="4" fill="#d5bba9"/>
<rect x="435" y="408.3" width="4" height="4" fill="#d5bba9"/>
<rect x="439" y="408.3" width="4" height="4" fill="#d5bba9"/>
<rect x="443" y="408.3" width="4" height="4" fill="#d5bba9"/>
<rect x="447" y="408.3" width="4" height="4" fill="#d5bba9"/>
<rect x="451" y="408.3" width="4" height="4" fill="#d5bba9"/>
<rect x="455" y="408.3" width="4" height="4" fill="#d5bba9"/>
<rect x="459" y="408.3" width="4" height="4" fill="#d5bba9"/>
<rect x="463" y="408.3" width="4" height="4" fill="#d5bba9"/>
<rect x="467" y="408.3" width="4" height="4" fill="#d5bba9"/>
<rect x="471" y="408.3" width="4" height="4" fill="#d5bba9"/>
<rect x="475" y="408.3" width="4" height="4" fill="#d5bba9"/>
<rect x="479" y="408.3" width="4" height="4" fill="#d5bba9"/>
<rect x="483" y="408.3" width="4" height="4" fill="#d5bba9"/>
<rect x="487" y="408.3" width="4" height="4" fill="#d5bba9"/>
<rect x="491" y="408.3" width="4" height="4" fill="#d5bba9"/>
<rect x="495" y="408.3" width="4" height="4" fill="#d5bba9"/>
<rect x="499" y="408.3" width="4" height="4" fill="#d6bbaa"/>
<rect x="503" y="408.3" width="4" height="4" fill="#d6bbaa"/>
<rect x="507" y="408.3" width="4" height="4" fill="#d6bbaa"/>
<rect x="511" y="408.3" width="4" height="4" fill="#d6bbaa"/>
<rect x="515" y="408.3" width="4" height="4" fill="#d6bbaa"/>
<rect x="519" y="408.3" width="4" height="4" fill="#d6bbaa"/>
<rect x="523" y="408.3" width="4" height="4" fill="#d6bbaa"/>
<rect x="527" y="408.3" width="4" height="4" fill="#d6bbaa"/>
<rect x="531" y="408.3" width="4" height="4" fill="#d6bbaa"/>
<rect x="535" y="408.3" width="4" height="4" fill="#d6bbaa"/>
<rect x="539" y="408.3" width="4" height="4" fill="#d6bbaa"/>
<rect x="543" y="408.3" width="4" height="4" fill="#d6bbaa"/>
<rect x="547" y="408.3" width="4" height="4" fill="#d6bbaa"/>
<rect x="551" y="408.3" width="4" height="4" fill="#d6bbaa"/>
<rect x="555" y="408.3" width="4" height="4" fill="#d6bbaa"/>
<rect x="559" y="408.3" width="4" height="4" fill="#d6bbaa"/>
<rect x="563" y="408.3" width="4" height="4" fill="#d6bbaa"/>
<rect x="567" y="408.3" width="4" height="4" fill="#d6bbaa"/>
<rect x="571" y="408.3" width="4" height="4" fill="#d6bbaa"/>
<rect x="575" y="408.3" width="4" height="4" fill="#d6bbaa"/>
<rect x="579" y="408.3" width="4" height="4" fill="#d6bbaa"/>
<rect x="583" y="408.3" width="4" height="4" fill="#d6bbaa"/>
<rect x="587" y="408.3" width="4" height="4" fill="#d6bbaa"/>
<rect x="591" y="408.3" width="4" height="4" fill="#d5bba9"/>
<rect x="595" y="408.3" width="4" height="4" fill="#d5bba9"/>
<rect x="599" y="408.3" width="4" height="4" fill="#d5bba9"/>
<rect x="603" y="408.3" width="4" height="4" fill="#d5bba9"/>
<rect x="607" y="408.3" width="4" height="4" fill="#d5bba9"/>
<rect x="611" y="408.3" width="4" height="4" fill="#d5bba9"/>
<rect x="615" y="408.3" width="4" height="4" fill="#d4bca9"/>
<rect x="619" y="408.3" width="4" height="4" fill="#d3bcaa"/>
<rect x="623" y="408.3" width="4" height="4" fill="#d3bcaa"/>
<rect x="627" y="408.3" width="4" height="4" fill="#d3bcaa"/>
<rect x="395" y="412.3" width="4" height="4" fill="#e3e2e1"/>
<rect x="399" y="412.3" width="4" height="4" fill="#e3e2e1"/>
<rect x="403" y="412.3" width="4" height="4" fill="#e4e3e2"/>
<rect x="407" y="412.3" width="4" height="4" fill="#e2e0de"/>
<rect x="411" y="412.3" width="4" height="4" fill="#dfd9d7"/>
<rect x="415" y="412.3" width="4" height="4" fill="#d6beb0"/>
<rect x="419" y="412.3" width="4" height="4" fill="#d6bbaa"/>
<rect x="423" y="412.3" width="4" height="4" fill="#d5bba9"/>
<rect x="427" y="412.3" width="4" height="4" fill="#d5bba9"/>
<rect x="431" y="412.3" width="4" height="4" fill="#d5bba9"/>
<rect x="435" y="412.3" width="4" height="4" fill="#d5bba9"/>
<rect x="439" y="412.3" width="4" height="4" fill="#d5bba9"/>
<rect x="443" y="412.3" width="4" height="4" fill="#d5bba9"/>
<rect x="447" y="412.3" width="4" height="4" fill="#d5bba9"/>
<rect x="451" y="412.3" width="4" height="4" fill="#d5bba9"/>
<rect x="455" y="412.3" width="4" height="4" fill="#d5bba9"/>
<rect x="459" y="412.3" width="4" height="4" fill="#d5bba9"/>
<rect x="463" y="412.3" width="4" height="4" fill="#d5bba9"/>
<rect x="467" y="412.3" width="4" height="4" fill="#d5bba9"/>
<rect x="471" y="412.3" width="4" height="4" fill="#d5bba9"/>
<rect x="475" y="412.3" width="4" height="4" fill="#d5bba9"/>
<rect x="479" y="412.3" width="4" height="4" fill="#d5bba9"/>
<rect x="483" y="412.3" width="4" height="4" fill="#d5bba9"/>
<rect x="487" y="412.3" width="4" height="4" fill="#d5bba9"/>
<rect x="491" y="412.3" width="4" height="4" fill="#d5bba9"/>
<rect x="495" y="412.3" width="4" height="4" fill="#d5bba9"/>
<rect x="499" y="412.3" width="4" height="4" fill="#d5bba9"/>
<rect x="503" y="412.3" width="4" height="4" fill="#d5bba9"/>
<rect x="507" y="412.3" width="4" height="4" fill="#d6bbaa"/>
<rect x="511" y="412.3" width="4" height="4" fill="#d6bbaa"/>
<rect x="515" y="412.3" width="4" height="4" fill="#d6bbaa"/>
<rect x="519" y="412.3" width="4" height="4" fill="#d6bbaa"/>
<rect x="523" y="412.3" width="4" height="4" fill="#d6bbaa"/>
<rect x="527" y="412.3" width="4" height="4" fill="#d6bbaa"/>
<rect x="531" y="412.3" width="4" height="4" fill="#d6bbaa"/>
<rect x="535" y="412.3" width="4" height="4" fill="#d6bbaa"/>
<rect x="539" y="412.3" width="4" height="4" fill="#d6bbaa"/>
<rect x="543" y="412.3" width="4" height="4" fill="#d6bbaa"/>
<rect x="547" y="412.3" width="4" height="4" fill="#d6bbaa"/>
<rect x="551" y="412.3" width="4" height="4" fill="#d6bbaa"/>
<rect x="555" y="412.3" width="4" height="4" fill="#d6bbaa"/>
<rect x="559" y="412.3" width="4" height="4" fill="#d6bbaa"/>
<rect x="563" y="412.3" width="4" height="4" fill="#d6bbaa"/>
<rect x="567" y="412.3" width="4" height="4" fill="#d6bbaa"/>
<rect x="571" y="412.3" width="4" height="4" fill="#d6bbaa"/>
<rect x="575" y="412.3" width="4" height="4" fill="#d5bba9"/>
<rect x="579" y="412.3" width="4" height="4" fill="#d5bba9"/>
<rect x="583" y="412.3" width="4" height="4" fill="#d5bba9"/>
<rect x="587" y="412.3" width="4" height="4" fill="#d5bba9"/>
<rect x="591" y="412.3" width="4" height="4" fill="#d5bba9"/>
<rect x="595" y="412.3" width="4" height="4" fill="#d5bba9"/>
<rect x="599" y="412.3" width="4" height="4" fill="#d5bba9"/>
<rect x="603" y="412.3" width="4" height="4" fill="#d4bca9"/>
<rect x="607" y="412.3" width="4" height="4" fill="#d4bca9"/>
<rect x="611" y="412.3" width="4" height="4" fill="#d3bcaa"/>
<rect x="615" y="412.3" width="4" height="4" fill="#d3bcaa"/>
<rect x="619" y="412.3" width="4" height="4" fill="#d3bcaa"/>
<rect x="623" y="412.3" width="4" height="4" fill="#d3bcaa"/>
<rect x="627" y="412.3" width="4" height="4" fill="#d3bcaa"/>
<rect x="395" y="416.3" width="4" height="4" fill="#e3e2e1"/>
<rect x="399" y="416.3" width="4" height="4" fill="#e3e2e1"/>
<rect x="403" y="416.3" width="4" height="4" fill="#e3e2e1"/>
<rect x="407" y="416.3" width="4" height="4" fill="#e1dfdd"/>
<rect x="411" y="416.3" width="4" height="4" fill="#ddd4d0"/>
<rect x="415" y="416.3" width="4" height="4" fill="#d6bdad"/>
<rect x="419" y="416.3" width="4" height="4" fill="#d5bba9"/>
<rect x="423" y="416.3" width="4" height="4" fill="#d5bba9"/>
<rect x="427" y="416.3" width="4" height="4" fill="#d4bba9"/>
<rect x="431" y="416.3" width="4" height="4" fill="#d4bca9"/>
<rect x="435" y="416.3" width="4" height="4" fill="#d4bca9"/>
<rect x="439" y="416.3" width="4" height="4" fill="#d4bca9"/>
<rect x="443" y="416.3" width="4" height="4" fill="#d4bba9"/>
<rect x="447" y="416.3" width="4" height="4" fill="#d4bba9"/>
<rect x="451" y="416.3" width="4" height="4" fill="#d5bba9"/>
<rect x="455" y="416.3" width="4" height="4" fill="#d5bba9"/>
<rect x="459" y="416.3" width="4" height="4" fill="#d5bba9"/>
<rect x="463" y="416.3" width="4" height="4" fill="#d5bba9"/>
<rect x="467" y="416.3" width="4" height="4" fill="#d5bba9"/>
<rect x="471" y="416.3" width="4" height="4" fill="#d5bba9"/>
<rect x="475" y="416.3" width="4" height="4" fill="#d5bba9"/>
<rect x="479" y="416.3" width="4" height="4" fill="#d5bba9"/>
<rect x="483" y="416.3" width="4" height="4" fill="#d5bba9"/>
<rect x="487" y="416.3" width="4" height="4" fill="#d5bba9"/>
<rect x="491" y="416.3" width="4" height="4" fill="#d5bba9"/>
<rect x="495" y="416.3" width="4" height="4" fill="#d5bba9"/>
<rect x="499" y="416.3" width="4" height="4" fill="#d5bba9"/>
<rect x="503" y="416.3" width="4" height="4" fill="#d5bba9"/>
<rect x="507" y="416.3" width="4" height="4" fill="#d5bba9"/>
<rect x="511" y="416.3" width="4" height="4" fill="#d5bba9"/>
<rect x="515" y="416.3" width="4" height="4" fill="#d5bba9"/>
<rect x="519" y="416.3" width="4" height="4" fill="#d5bba9"/>
<rect x="523" y="416.3" width="4" height="4" fill="#d5bba9"/>
<rect x="527" y="416.3" width="4" height="4" fill="#d5bba9"/>
<rect x="531" y="416.3" width="4" height="4" fill="#d5bba9"/>
<rect x="535" y="416.3" width="4" height="4" fill="#d5bba9"/>
<rect x="539" y="416.3" width="4" height="4" fill="#d6bbaa"/>
<rect x="543" y="416.3" width="4" height="4" fill="#d6bbaa"/>
<rect x="547" y="416.3" width="4" height="4" fill="#d6bbaa"/>
<rect x="551" y="416.3" width="4" height="4" fill="#d6bbaa"/>
<rect x="555" y="416.3" width="4" height="4" fill="#d6bbaa"/>
<rect x="559" y="416.3" width="4" height="4" fill="#d6bbaa"/>
<rect x="563" y="416.3" width="4" height="4" fill="#d5bba9"/>
<rect x="567" y="416.3" width="4" height="4" fill="#d5bba9"/>
<rect x="571" y="416.3" width="4" height="4" fill="#d5bba9"/>
<rect x="575" y="416.3" width="4" height="4" fill="#d5bba9"/>
<rect x="579" y="416.3" width="4" height="4" fill="#d5bba9"/>
<rect x="583" y="416.3" width="4" height="4" fill="#d5bba9"/>
<rect x="587" y="416.3" width="4" height="4" fill="#d5bba9"/>
<rect x="591" y="416.3" width="4" height="4" fill="#d4bba9"/>
<rect x="595" y="416.3" width="4" height="4" fill="#d4bca9"/>
<rect x="599" y="416.3" width="4" height="4" fill="#d3bcaa"/>
<rect x="603" y="416.3" width="4" height="4" fill="#d4bca9"/>
<rect x="607" y="416.3" width="4" height="4" fill="#d3bcaa"/>
<rect x="611" y="416.3" width="4" height="4" fill="#d3bcaa"/>
<rect x="615" y="416.3" width="4" height="4" fill="#d3bcaa"/>
<rect x="619" y="416.3" width="4" height="4" fill="#d3bcaa"/>
<rect x="623" y="416.3" width="4" height="4" fill="#d3bcaa"/>
<rect x="627" y="416.3" width="4" height="4" fill="#d3bcaa"/>
<rect x="395" y="420.3" width="4" height="4" fill="#e3e2e1"/>
<rect x="399" y="420.3" width="4" height="4" fill="#e3e2e1"/>
<rect x="403" y="420.3" width="4" height="4" fill="#e3e1e0"/>
<rect x="407" y="420.3" width="4" height="4" fill="#e1dedd"/>
<rect x="411" y="420.3" width="4" height="4" fill="#dbd0ca"/>
<rect x="415" y="420.3" width="4" height="4" fill="#d6bbaa"/>
<rect x="419" y="420.3" width="4" height="4" fill="#d4bba9"/>
<rect x="423" y="420.3" width="4" height="4" fill="#d3bcaa"/>
<rect x="427" y="420.3" width="4" height="4" fill="#d3bcaa"/>
<rect x="431" y="420.3" width="4" height="4" fill="#d3bcaa"/>
<rect x="435" y="420.3" width="4" height="4" fill="#d4bca9"/>
<rect x="439" y="420.3" width="4" height="4" fill="#d4bca9"/>
<rect x="443" y="420.3" width="4" height="4" fill="#d4bca9"/>
<rect x="447" y="420.3" width="4" height="4" fill="#d4bca9"/>
<rect x="451" y="420.3" width="4" height="4" fill="#d4bba9"/>
<rect x="455" y="420.3" width="4" height="4" fill="#d5bba9"/>
<rect x="459" y="420.3" width="4" height="4" fill="#d5bba9"/>
<rect x="463" y="420.3" width="4" height="4" fill="#d5bba9"/>
<rect x="467" y="420.3" width="4" height="4" fill="#d5bba9"/>
<rect x="471" y="420.3" width="4" height="4" fill="#d5bba9"/>
<rect x="475" y="420.3" width="4" height="4" fill="#d5bba9"/>
<rect x="479" y="420.3" width="4" height="4" fill="#d5bba9"/>
<rect x="483" y="420.3" width="4" height="4" fill="#d5bba9"/>
<rect x="487" y="420.3" width="4" height="4" fill="#d5bba9"/>
<rect x="491" y="420.3" width="4" height="4" fill="#d5bba9"/>
<rect x="495" y="420.3" width="4" height="4" fill="#d5bba9"/>
<rect x="499" y="420.3" width="4" height="4" fill="#d5bba9"/>
<rect x="503" y="420.3" width="4" height="4" fill="#d5bba9"/>
<rect x="507" y="420.3" width="4" height="4" fill="#d5bba9"/>
<rect x="511" y="420.3" width="4" height="4" fill="#d5bba9"/>
<rect x="515" y="420.3" width="4" height="4" fill="#d5bba9"/>
<rect x="519" y="420.3" width="4" height="4" fill="#d5bba9"/>
<rect x="523" y="420.3" width="4" height="4" fill="#d5bba9"/>
<rect x="527" y="420.3" width="4" height="4" fill="#d5bba9"/>
<rect x="531" y="420.3" width="4" height="4" fill="#d5bba9"/>
<rect x="535" y="420.3" width="4" height="4" fill="#d5bba9"/>
<rect x="539" y="420.3" width="4" height="4" fill="#d5bba9"/>
<rect x="543" y="420.3" width="4" height="4" fill="#d5bba9"/>
<rect x="547" y="420.3" width="4" height="4" fill="#d5bba9"/>
<rect x="551" y="420.3" width="4" height="4" fill="#d5bba9"/>
<rect x="555" y="420.3" width="4" height="4" fill="#d5bba9"/>
<rect x="559" y="420.3" width="4" height="4" fill="#d5bba9"/>
<rect x="563" y="420.3" width="4" height="4" fill="#d5bba9"/>
<rect x="567" y="420.3" width="4" height="4" fill="#d5bba9"/>
<rect x="571" y="420.3" width="4" height="4" fill="#d5bba9"/>
<rect x="575" y="420.3" width="4" height="4" fill="#d5bba9"/>
<rect x="579" y="420.3" width="4" height="4" fill="#d4bba9"/>
<rect x="583" y="420.3" width="4" height="4" fill="#d4bca9"/>
<rect x="587" y="420.3" width="4" height="4" fill="#d4bca9"/>
<rect x="591" y="420.3" width="4" height="4" fill="#d3bcaa"/>
<rect x="595" y="420.3" width="4" height="4" fill="#d5bba9"/>
<rect x="599" y="420.3" width="4" height="4" fill="#d5bba9"/>
<rect x="603" y="420.3" width="4" height="4" fill="#d5bba9"/>
<rect x="607" y="420.3" width="4" height="4" fill="#d4bca9"/>
<rect x="611" y="420.3" width="4" height="4" fill="#d3bcaa"/>
<rect x="615" y="420.3" width="4" height="4" fill="#d3bcaa"/>
<rect x="619" y="420.3" width="4" height="4" fill="#d3bcaa"/>
<rect x="623" y="420.3" width="4" height="4" fill="#d3bcaa"/>
<rect x="627" y="420.3" width="4" height="4" fill="#d3bcaa"/>
<rect x="395" y="424.3" width="4" height="4" fill="#e3e2e1"/>
<rect x="399" y="424.3" width="4" height="4" fill="#e3e2e1"/>
<rect x="403" y="424.3" width="4" height="4" fill="#e2e0df"/>
<rect x="407" y="424.3" width="4" height="4" fill="#e0dedc"/>
<rect x="411" y="424.3" width="4" height="4" fill="#daccc4"/>
<rect x="415" y="424.3" width="4" height="4" fill="#d5bba9"/>
<rect x="419" y="424.3" width="4" height="4" fill="#d3bcaa"/>
<rect x="423" y="424.3" width="4" height="4" fill="#d3bcaa"/>
<rect x="427" y="424.3" width="4" height="4" fill="#d3bcaa"/>
<rect x="431" y="424.3" width="4" height="4" fill="#d3bcaa"/>
<rect x="435" y="424.3" width="4" height="4" fill="#d3bcaa"/>
<rect x="439" y="424.3" width="4" height="4" fill="#d3bcaa"/>
<rect x="443" y="424.3" width="4" height="4" fill="#d4bca9"/>
<rect x="447" y="424.3" width="4" height="4" fill="#d4bca9"/>
<rect x="451" y="424.3" width="4" height="4" fill="#d4bca9"/>
<rect x="455" y="424.3" width="4" height="4" fill="#d4bca9"/>
<rect x="459" y="424.3" width="4" height="4" fill="#d4bba9"/>
<rect x="463" y="424.3" width="4" height="4" fill="#d4bba9"/>
<rect x="467" y="424.3" width="4" height="4" fill="#d4bba9"/>
<rect x="471" y="424.3" width="4" height="4" fill="#d5bba9"/>
<rect x="475" y="424.3" width="4" height="4" fill="#d5bba9"/>
<rect x="479" y="424.3" width="4" height="4" fill="#d5bba9"/>
<rect x="483" y="424.3" width="4" height="4" fill="#d5bba9"/>
<rect x="487" y="424.3" width="4" height="4" fill="#d5bba9"/>
<rect x="491" y="424.3" width="4" height="4" fill="#d5bba9"/>
<rect x="495" y="424.3" width="4" height="4" fill="#d5bba9"/>
<rect x="499" y="424.3" width="4" height="4" fill="#d5bba9"/>
<rect x="503" y="424.3" width="4" height="4" fill="#d5bba9"/>
<rect x="507" y="424.3" width="4" height="4" fill="#d5bba9"/>
<rect x="511" y="424.3" width="4" height="4" fill="#d5bba9"/>
<rect x="515" y="424.3" width="4" height="4" fill="#d5bba9"/>
<rect x="519" y="424.3" width="4" height="4" fill="#d5bba9"/>
<rect x="523" y="424.3" width="4" height="4" fill="#d5bba9"/>
<rect x="527" y="424.3" width="4" height="4" fill="#d5bba9"/>
<rect x="531" y="424.3" width="4" height="4" fill="#d5bba9"/>
<rect x="535" y="424.3" width="4" height="4" fill="#d5bba9"/>
<rect x="539" y="424.3" width="4" height="4" fill="#d5bba9"/>
<rect x="543" y="424.3" width="4" height="4" fill="#d5bba9"/>
<rect x="547" y="424.3" width="4" height="4" fill="#d5bba9"/>
<rect x="551" y="424.3" width="4" height="4" fill="#d5bba9"/>
<rect x="555" y="424.3" width="4" height="4" fill="#d5bba9"/>
<rect x="559" y="424.3" width="4" height="4" fill="#d5bba9"/>
<rect x="563" y="424.3" width="4" height="4" fill="#d5bba9"/>
<rect x="567" y="424.3" width="4" height="4" fill="#d5bba9"/>
<rect x="571" y="424.3" width="4" height="4" fill="#d4bca9"/>
<rect x="575" y="424.3" width="4" height="4" fill="#d4bca9"/>
<rect x="579" y="424.3" width="4" height="4" fill="#d3bcaa"/>
<rect x="583" y="424.3" width="4" height="4" fill="#d3bcaa"/>
<rect x="587" y="424.3" width="4" height="4" fill="#d3bcaa"/>
<rect x="591" y="424.3" width="4" height="4" fill="#d5bba9"/>
<rect x="595" y="424.3" width="4" height="4" fill="#d6bbaa"/>
<rect x="599" y="424.3" width="4" height="4" fill="#d6bcac"/>
<rect x="603" y="424.3" width="4" height="4" fill="#d6bbaa"/>
<rect x="607" y="424.3" width="4" height="4" fill="#d5bba9"/>
<rect x="611" y="424.3" width="4" height="4" fill="#d3bcaa"/>
<rect x="615" y="424.3" width="4" height="4" fill="#d3bcaa"/>
<rect x="619" y="424.3" width="4" height="4" fill="#d3bcaa"/>
<rect x="623" y="424.3" width="4" height="4" fill="#d3bcaa"/>
<rect x="627" y="424.3" width="4" height="4" fill="#d3bcaa"/>
<rect x="395" y="428.3" width="4" height="4" fill="#e3e2e1"/>
<rect x="399" y="428.3" width="4" height="4" fill="#e0dddb"/>
<rect x="403" y="428.3" width="4" height="4" fill="#e1dfdd"/>
<rect x="407" y="428.3" width="4" height="4" fill="#e0dcda"/>
<rect x="411" y="428.3" width="4" height="4" fill="#d9c8bf"/>
<rect x="415" y="428.3" width="4" height="4" fill="#d5bba9"/>
<rect x="419" y="428.3" width="4" height="4" fill="#d3bcaa"/>
<rect x="423" y="428.3" width="4" height="4" fill="#d3bcaa"/>
<rect x="427" y="428.3" width="4" height="4" fill="#d3bcaa"/>
<rect x="431" y="428.3" width="4" height="4" fill="#d3bcaa"/>
<rect x="435" y="428.3" width="4" height="4" fill="#d3bcaa"/>
<rect x="439" y="428.3" width="4" height="4" fill="#d3bcaa"/>
<rect x="443" y="428.3" width="4" height="4" fill="#d3bcaa"/>
<rect x="447" y="428.3" width="4" height="4" fill="#d4bca9"/>
<rect x="451" y="428.3" width="4" height="4" fill="#d4bca9"/>
<rect x="455" y="428.3" width="4" height="4" fill="#d4bca9"/>
<rect x="459" y="428.3" width="4" height="4" fill="#d4bca9"/>
<rect x="463" y="428.3" width="4" height="4" fill="#d4bca9"/>
<rect x="467" y="428.3" width="4" height="4" fill="#d4bca9"/>
<rect x="471" y="428.3" width="4" height="4" fill="#d4bca9"/>
<rect x="475" y="428.3" width="4" height="4" fill="#d4bca9"/>
<rect x="479" y="428.3" width="4" height="4" fill="#d4bca9"/>
<rect x="483" y="428.3" width="4" height="4" fill="#d4bca9"/>
<rect x="487" y="428.3" width="4" height="4" fill="#d4bba9"/>
<rect x="491" y="428.3" width="4" height="4" fill="#d5bba9"/>
<rect x="495" y="428.3" width="4" height="4" fill="#d5bba9"/>
<rect x="499" y="428.3" width="4" height="4" fill="#d5bba9"/>
<rect x="503" y="428.3" width="4" height="4" fill="#d5bba9"/>
<rect x="507" y="428.3" width="4" height="4" fill="#d5bba9"/>
<rect x="511" y="428.3" width="4" height="4" fill="#d5bba9"/>
<rect x="515" y="428.3" width="4" height="4" fill="#d5bba9"/>
<rect x="519" y="428.3" width="4" height="4" fill="#d5bba9"/>
<rect x="523" y="428.3" width="4" height="4" fill="#d5bba9"/>
<rect x="527" y="428.3" width="4" height="4" fill="#d5bba9"/>
<rect x="531" y="428.3" width="4" height="4" fill="#d5bba9"/>
<rect x="535" y="428.3" width="4" height="4" fill="#d5bba9"/>
<rect x="539" y="428.3" width="4" height="4" fill="#d5bba9"/>
<rect x="543" y="428.3" width="4" height="4" fill="#d5bba9"/>
<rect x="547" y="428.3" width="4" height="4" fill="#d5bba9"/>
<rect x="551" y="428.3" width="4" height="4" fill="#d5bba9"/>
<rect x="555" y="428.3" width="4" height="4" fill="#d5bba9"/>
<rect x="559" y="428.3" width="4" height="4" fill="#d4bba9"/>
<rect x="563" y="428.3" width="4" height="4" fill="#d4bca9"/>
<rect x="567" y="428.3" width="4" height="4" fill="#d4bca9"/>
<rect x="571" y="428.3" width="4" height="4" fill="#d3bcaa"/>
<rect x="575" y="428.3" width="4" height="4" fill="#d3bcaa"/>
<rect x="579" y="428.3" width="4" height="4" fill="#d3bcaa"/>
<rect x="583" y="428.3" width="4" height="4" fill="#d3bcaa"/>
<rect x="587" y="428.3" width="4" height="4" fill="#d3bcaa"/>
<rect x="591" y="428.3" width="4" height="4" fill="#d4bba9"/>
<rect x="595" y="428.3" width="4" height="4" fill="#d5bba9"/>
<rect x="599" y="428.3" width="4" height="4" fill="#d6bbaa"/>
<rect x="603" y="428.3" width="4" height="4" fill="#d6bbaa"/>
<rect x="607" y="428.3" width="4" height="4" fill="#d5bba9"/>
<rect x="611" y="428.3" width="4" height="4" fill="#d3bcaa"/>
<rect x="615" y="428.3" width="4" height="4" fill="#d3bcaa"/>
<rect x="619" y="428.3" width="4" height="4" fill="#d3bcaa"/>
<rect x="623" y="428.3" width="4" height="4" fill="#d3bcaa"/>
<rect x="627" y="428.3" width="4" height="4" fill="#d3bcaa"/>
<rect x="395" y="432.3" width="4" height="4" fill="#e0dddb"/>
<rect x="399" y="432.3" width="4" height="4" fill="#e0dddb"/>
<rect x="403" y="432.3" width="4" height="4" fill="#e1dedc"/>
<rect x="407" y="432.3" width="4" height="4" fill="#e0dcda"/>
<rect x="411" y="432.3" width="4" height="4" fill="#d9c8bf"/>
<rect x="415" y="432.3" width="4" height="4" fill="#d3bcaa"/>
<rect x="419" y="432.3" width="4" height="4" fill="#d3bdaa"/>
<rect x="423" y="432.3" width="4" height="4" fill="#d2bdaa"/>
<rect x="427" y="432.3" width="4" height="4" fill="#d2bdaa"/>
<rect x="431" y="432.3" width="4" height="4" fill="#d2bdaa"/>
<rect x="435" y="432.3" width="4" height="4" fill="#d3bdaa"/>
<rect x="439" y="432.3" width="4" height="4" fill="#d3bcaa"/>
<rect x="443" y="432.3" width="4" height="4" fill="#d3bcaa"/>
<rect x="447" y="432.3" width="4" height="4" fill="#d3bcaa"/>
<rect x="451" y="432.3" width="4" height="4" fill="#d3bcaa"/>
<rect x="455" y="432.3" width="4" height="4" fill="#d4bca9"/>
<rect x="459" y="432.3" width="4" height="4" fill="#d4bca9"/>
<rect x="463" y="432.3" width="4" height="4" fill="#d4bca9"/>
<rect x="467" y="432.3" width="4" height="4" fill="#d4bca9"/>
<rect x="471" y="432.3" width="4" height="4" fill="#d4bca9"/>
<rect x="475" y="432.3" width="4" height="4" fill="#d4bca9"/>
<rect x="479" y="432.3" width="4" height="4" fill="#d4bca9"/>
<rect x="483" y="432.3" width="4" height="4" fill="#d4bca9"/>
<rect x="487" y="432.3" width="4" height="4" fill="#d4bca9"/>
<rect x="491" y="432.3" width="4" height="4" fill="#d4bca9"/>
<rect x="495" y="432.3" width="4" height="4" fill="#d4bba9"/>
<rect x="499" y="432.3" width="4" height="4" fill="#d4bba9"/>
<rect x="503" y="432.3" width="4" height="4" fill="#d5bba9"/>
<rect x="507" y="432.3" width="4" height="4" fill="#d5bba9"/>
<rect x="511" y="432.3" width="4" height="4" fill="#d5bba9"/>
<rect x="515" y="432.3" width="4" height="4" fill="#d5bba9"/>
<rect x="519" y="432.3" width="4" height="4" fill="#d5bba9"/>
<rect x="523" y="432.3" width="4" height="4" fill="#d5bba9"/>
<rect x="527" y="432.3" width="4" height="4" fill="#d5bba9"/>
<rect x="531" y="432.3" width="4" height="4" fill="#d4bba9"/>
<rect x="535" y="432.3" width="4" height="4" fill="#d4bba9"/>
<rect x="539" y="432.3" width="4" height="4" fill="#d4bca9"/>
<rect x="543" y="432.3" width="4" height="4" fill="#d4bca9"/>
<rect x="547" y="432.3" width="4" height="4" fill="#d4bba9"/>
<rect x="551" y="432.3" width="4" height="4" fill="#d4bca9"/>
<rect x="555" y="432.3" width="4" height="4" fill="#d4bca9"/>
<rect x="559" y="432.3" width="4" height="4" fill="#d4bca9"/>
<rect x="563" y="432.3" width="4" height="4" fill="#d3bcaa"/>
<rect x="567" y="432.3" width="4" height="4" fill="#d3bcaa"/>
<rect x="571" y="432.3" width="4" height="4" fill="#d3bcaa"/>
<rect x="575" y="432.3" width="4" height="4" fill="#d3bcaa"/>
<rect x="579" y="432.3" width="4" height="4" fill="#d3bcaa"/>
<rect x="583" y="432.3" width="4" height="4" fill="#d3bcaa"/>
<rect x="587" y="432.3" width="4" height="4" fill="#d3bcaa"/>
<rect x="591" y="432.3" width="4" height="4" fill="#d3bcaa"/>
<rect x="595" y="432.3" width="4" height="4" fill="#d5bba9"/>
<rect x="599" y="432.3" width="4" height="4" fill="#d6bbaa"/>
<rect x="603" y="432.3" width="4" height="4" fill="#d5bba9"/>
<rect x="607" y="432.3" width="4" height="4" fill="#d5bba9"/>
<rect x="611" y="432.3" width="4" height="4" fill="#d4bca9"/>
<rect x="615" y="432.3" width="4" height="4" fill="#d3bcaa"/>
<rect x="619" y="432.3" width="4" height="4" fill="#d3bcaa"/>
<rect x="623" y="432.3" width="4" height="4" fill="#d3bcaa"/>
<rect x="627" y="432.3" width="4" height="4" fill="#d3bcaa"/>
<rect x="395" y="436.3" width="4" height="4" fill="#ded8d5"/>
<rect x="399" y="436.3" width="4" height="4" fill="#e0dddb"/>
<rect x="403" y="436.3" width="4" height="4" fill="#e0dddb"/>
<rect x="407" y="436.3" width="4" height="4" fill="#e0dcda"/>
<rect x="411" y="436.3" width="4" height="4" fill="#d9c8c0"/>
<rect x="415" y="436.3" width="4" height="4" fill="#d5bba9"/>
<rect x="419" y="436.3" width="4" height="4" fill="#d2bdaa"/>
<rect x="423" y="436.3" width="4" height="4" fill="#d2bdaa"/>
<rect x="427" y="436.3" width="4" height="4" fill="#d2bdaa"/>
<rect x="431" y="436.3" width="4" height="4" fill="#d2bdaa"/>
<rect x="435" y="436.3" width="4" height="4" fill="#d2bdaa"/>
<rect x="439" y="436.3" width="4" height="4" fill="#d3bdaa"/>
<rect x="443" y="436.3" width="4" height="4" fill="#d3bcaa"/>
<rect x="447" y="436.3" width="4" height="4" fill="#d3bcaa"/>
<rect x="451" y="436.3" width="4" height="4" fill="#d3bcaa"/>
<rect x="455" y="436.3" width="4" height="4" fill="#d3bcaa"/>
<rect x="459" y="436.3" width="4" height="4" fill="#d3bcaa"/>
<rect x="463" y="436.3" width="4" height="4" fill="#d3bcaa"/>
<rect x="467" y="436.3" width="4" height="4" fill="#d3bcaa"/>
<rect x="471" y="436.3" width="4" height="4" fill="#d3bcaa"/>
<rect x="475" y="436.3" width="4" height="4" fill="#d3bcaa"/>
<rect x="479" y="436.3" width="4" height="4" fill="#d3bcaa"/>
<rect x="483" y="436.3" width="4" height="4" fill="#d3bcaa"/>
<rect x="487" y="436.3" width="4" height="4" fill="#d3bcaa"/>
<rect x="491" y="436.3" width="4" height="4" fill="#d4bca9"/>
<rect x="495" y="436.3" width="4" height="4" fill="#d4bca9"/>
<rect x="499" y="436.3" width="4" height="4" fill="#d4bca9"/>
<rect x="503" y="436.3" width="4" height="4" fill="#d4bca9"/>
<rect x="507" y="436.3" width="4" height="4" fill="#d4bca9"/>
<rect x="511" y="436.3" width="4" height="4" fill="#d4bca9"/>
<rect x="515" y="436.3" width="4" height="4" fill="#d4bca9"/>
<rect x="519" y="436.3" width="4" height="4" fill="#d4bca9"/>
<rect x="523" y="436.3" width="4" height="4" fill="#d4bca9"/>
<rect x="527" y="436.3" width="4" height="4" fill="#d4bca9"/>
<rect x="531" y="436.3" width="4" height="4" fill="#d4bca9"/>
<rect x="535" y="436.3" width="4" height="4" fill="#d4bca9"/>
<rect x="539" y="436.3" width="4" height="4" fill="#d4bca9"/>
<rect x="543" y="436.3" width="4" height="4" fill="#d4bca9"/>
<rect x="547" y="436.3" width="4" height="4" fill="#d4bca9"/>
<rect x="551" y="436.3" width="4" height="4" fill="#d3bcaa"/>
<rect x="555" y="436.3" width="4" height="4" fill="#d3bcaa"/>
<rect x="559" y="436.3" width="4" height="4" fill="#d3bcaa"/>
<rect x="563" y="436.3" width="4" height="4" fill="#d3bcaa"/>
<rect x="567" y="436.3" width="4" height="4" fill="#d3bcaa"/>
<rect x="571" y="436.3" width="4" height="4" fill="#d3bcaa"/>
<rect x="575" y="436.3" width="4" height="4" fill="#d3bcaa"/>
<rect x="579" y="436.3" width="4" height="4" fill="#d3bcaa"/>
<rect x="583" y="436.3" width="4" height="4" fill="#d3bcaa"/>
<rect x="587" y="436.3" width="4" height="4" fill="#d3bcaa"/>
<rect x="591" y="436.3" width="4" height="4" fill="#d3bcaa"/>
<rect x="595" y="436.3" width="4" height="4" fill="#d5bba9"/>
<rect x="599" y="436.3" width="4" height="4" fill="#d5bba9"/>
<rect x="603" y="436.3" width="4" height="4" fill="#d5bba9"/>
<rect x="607" y="436.3" width="4" height="4" fill="#d5bba9"/>
<rect x="611" y="436.3" width="4" height="4" fill="#d5bba9"/>
<rect x="615" y="436.3" width="4" height="4" fill="#d3bcaa"/>
<rect x="619" y="436.3" width="4" height="4" fill="#d3bcaa"/>
<rect x="623" y="436.3" width="4" height="4" fill="#d3bcaa"/>
<rect x="627" y="436.3" width="4" height="4" fill="#d3bcaa"/>
<rect x="395" y="440.3" width="4" height="4" fill="#ded8d5"/>
<rect x="399" y="440.3" width="4" height="4" fill="#ded8d5"/>
<rect x="403" y="440.3" width="4" height="4" fill="#dfdbd9"/>
<rect x="407" y="440.3" width="4" height="4" fill="#e0dcda"/>
<rect x="411" y="440.3" width="4" height="4" fill="#dacbc3"/>
<rect x="415" y="440.3" width="4" height="4" fill="#d6bbaa"/>
<rect x="419" y="440.3" width="4" height="4" fill="#d4bca9"/>
<rect x="423" y="440.3" width="4" height="4" fill="#d1beaa"/>
<rect x="427" y="440.3" width="4" height="4" fill="#d1bdaa"/>
<rect x="431" y="440.3" width="4" height="4" fill="#d2bdaa"/>
<rect x="435" y="440.3" width="4" height="4" fill="#d2bdaa"/>
<rect x="439" y="440.3" width="4" height="4" fill="#d2bdaa"/>
<rect x="443" y="440.3" width="4" height="4" fill="#d2bdaa"/>
<rect x="447" y="440.3" width="4" height="4" fill="#d3bdaa"/>
<rect x="451" y="440.3" width="4" height="4" fill="#d3bcaa"/>
<rect x="455" y="440.3" width="4" height="4" fill="#d3bcaa"/>
<rect x="459" y="440.3" width="4" height="4" fill="#d3bcaa"/>
<rect x="463" y="440.3" width="4" height="4" fill="#d3bcaa"/>
<rect x="467" y="440.3" width="4" height="4" fill="#d3bcaa"/>
<rect x="471" y="440.3" width="4" height="4" fill="#d3bcaa"/>
<rect x="475" y="440.3" width="4" height="4" fill="#d3bcaa"/>
<rect x="479" y="440.3" width="4" height="4" fill="#d3bcaa"/>
<rect x="483" y="440.3" width="4" height="4" fill="#d3bcaa"/>
<rect x="487" y="440.3" width="4" height="4" fill="#d3bcaa"/>
<rect x="491" y="440.3" width="4" height="4" fill="#d3bcaa"/>
<rect x="495" y="440.3" width="4" height="4" fill="#d3bcaa"/>
<rect x="499" y="440.3" width="4" height="4" fill="#d3bcaa"/>
<rect x="503" y="440.3" width="4" height="4" fill="#d3bcaa"/>
<rect x="507" y="440.3" width="4" height="4" fill="#d4bca9"/>
<rect x="511" y="440.3" width="4" height="4" fill="#d4bca9"/>
<rect x="515" y="440.3" width="4" height="4" fill="#d4bca9"/>
<rect x="519" y="440.3" width="4" height="4" fill="#d4bca9"/>
<rect x="523" y="440.3" width="4" height="4" fill="#d4bca9"/>
<rect x="527" y="440.3" width="4" height="4" fill="#d3bcaa"/>
<rect x="531" y="440.3" width="4" height="4" fill="#d3bcaa"/>
<rect x="535" y="440.3" width="4" height="4" fill="#d3bcaa"/>
<rect x="539" y="440.3" width="4" height="4" fill="#d3bcaa"/>
<rect x="543" y="440.3" width="4" height="4" fill="#d3bcaa"/>
<rect x="547" y="440.3" width="4" height="4" fill="#d3bcaa"/>
<rect x="551" y="440.3" width="4" height="4" fill="#d3bcaa"/>
<rect x="555" y="440.3" width="4" height="4" fill="#d3bcaa"/>
<rect x="559" y="440.3" width="4" height="4" fill="#d3bcaa"/>
<rect x="563" y="440.3" width="4" height="4" fill="#d3bcaa"/>
<rect x="567" y="440.3" width="4" height="4" fill="#d3bcaa"/>
<rect x="571" y="440.3" width="4" height="4" fill="#d3bcaa"/>
<rect x="575" y="440.3" width="4" height="4" fill="#d3bcaa"/>
<rect x="579" y="440.3" width="4" height="4" fill="#d3bcaa"/>
<rect x="583" y="440.3" width="4" height="4" fill="#d3bcaa"/>
<rect x="587" y="440.3" width="4" height="4" fill="#d3bcaa"/>
<rect x="591" y="440.3" width="4" height="4" fill="#d3bcaa"/>
<rect x="595" y="440.3" width="4" height="4" fill="#d4bca9"/>
<rect x="599" y="440.3" width="4" height="4" fill="#d5bba9"/>
<rect x="603" y="440.3" width="4" height="4" fill="#d5bba9"/>
<rect x="607" y="440.3" width="4" height="4" fill="#d4bba9"/>
<rect x="611" y="440.3" width="4" height="4" fill="#d4bca9"/>
<rect x="615" y="440.3" width="4" height="4" fill="#d3bcaa"/>
<rect x="619" y="440.3" width="4" height="4" fill="#d3bcaa"/>
<rect x="623" y="440.3" width="4" height="4" fill="#d3bcaa"/>
<rect x="627" y="440.3" width="4" height="4" fill="#d3bcaa"/>
<rect x="395" y="444.3" width="4" height="4" fill="#ded8d5"/>
<rect x="399" y="444.3" width="4" height="4" fill="#ded8d5"/>
<rect x="403" y="444.3" width="4" height="4" fill="#dfd9d7"/>
<rect x="407" y="444.3" width="4" height="4" fill="#e0dcda"/>
<rect x="411" y="444.3" width="4" height="4" fill="#daccc5"/>
<rect x="415" y="444.3" width="4" height="4" fill="#d6bbab"/>
<rect x="419" y="444.3" width="4" height="4" fill="#d5bba9"/>
<rect x="423" y="444.3" width="4" height="4" fill="#d0beab"/>
<rect x="427" y="444.3" width="4" height="4" fill="#d0beab"/>
<rect x="431" y="444.3" width="4" height="4" fill="#d0beab"/>
<rect x="435" y="444.3" width="4" height="4" fill="#d0beab"/>
<rect x="439" y="444.3" width="4" height="4" fill="#d1beaa"/>
<rect x="443" y="444.3" width="4" height="4" fill="#d1bdaa"/>
<rect x="447" y="444.3" width="4" height="4" fill="#d2bdaa"/>
<rect x="451" y="444.3" width="4" height="4" fill="#d2bdaa"/>
<rect x="455" y="444.3" width="4" height="4" fill="#d2bdaa"/>
<rect x="459" y="444.3" width="4" height="4" fill="#d2bdaa"/>
<rect x="463" y="444.3" width="4" height="4" fill="#d2bdaa"/>
<rect x="467" y="444.3" width="4" height="4" fill="#d3bdaa"/>
<rect x="471" y="444.3" width="4" height="4" fill="#d3bdaa"/>
<rect x="475" y="444.3" width="4" height="4" fill="#d3bdaa"/>
<rect x="479" y="444.3" width="4" height="4" fill="#d3bdaa"/>
<rect x="483" y="444.3" width="4" height="4" fill="#d2bdaa"/>
<rect x="487" y="444.3" width="4" height="4" fill="#d2bdaa"/>
<rect x="491" y="444.3" width="4" height="4" fill="#d3bdaa"/>
<rect x="495" y="444.3" width="4" height="4" fill="#d3bdaa"/>
<rect x="499" y="444.3" width="4" height="4" fill="#d3bcaa"/>
<rect x="503" y="444.3" width="4" height="4" fill="#d3bcaa"/>
<rect x="507" y="444.3" width="4" height="4" fill="#d3bcaa"/>
<rect x="511" y="444.3" width="4" height="4" fill="#d3bcaa"/>
<rect x="515" y="444.3" width="4" height="4" fill="#d3bcaa"/>
<rect x="519" y="444.3" width="4" height="4" fill="#d3bcaa"/>
<rect x="523" y="444.3" width="4" height="4" fill="#d3bcaa"/>
<rect x="527" y="444.3" width="4" height="4" fill="#d3bcaa"/>
<rect x="531" y="444.3" width="4" height="4" fill="#d3bcaa"/>
<rect x="535" y="444.3" width="4" height="4" fill="#d3bcaa"/>
<rect x="539" y="444.3" width="4" height="4" fill="#d3bcaa"/>
<rect x="543" y="444.3" width="4" height="4" fill="#d3bcaa"/>
<rect x="547" y="444.3" width="4" height="4" fill="#d3bcaa"/>
<rect x="551" y="444.3" width="4" height="4" fill="#d3bcaa"/>
<rect x="555" y="444.3" width="4" height="4" fill="#d3bcaa"/>
<rect x="559" y="444.3" width="4" height="4" fill="#d3bcaa"/>
<rect x="563" y="444.3" width="4" height="4" fill="#d3bcaa"/>
<rect x="567" y="444.3" width="4" height="4" fill="#d3bcaa"/>
<rect x="571" y="444.3" width="4" height="4" fill="#d3bcaa"/>
<rect x="575" y="444.3" width="4" height="4" fill="#d3bcaa"/>
<rect x="579" y="444.3" width="4" height="4" fill="#d3bcaa"/>
<rect x="583" y="444.3" width="4" height="4" fill="#d3bcaa"/>
<rect x="587" y="444.3" width="4" height="4" fill="#d3bcaa"/>
<rect x="591" y="444.3" width="4" height="4" fill="#d3bcaa"/>
<rect x="595" y="444.3" width="4" height="4" fill="#d3bcaa"/>
<rect x="599" y="444.3" width="4" height="4" fill="#d4bca9"/>
<rect x="603" y="444.3" width="4" height="4" fill="#d4bca9"/>
<rect x="607" y="444.3" width="4" height="4" fill="#d3bcaa"/>
<rect x="611" y="444.3" width="4" height="4" fill="#d3bcaa"/>
<rect x="615" y="444.3" width="4" height="4" fill="#d3bcaa"/>
<rect x="619" y="444.3" width="4" height="4" fill="#d3bcaa"/>
<rect x="623" y="444.3" width="4" height="4" fill="#d3bcaa"/>
<rect x="627" y="444.3" width="4" height="4" fill="#d3bcaa"/>
<rect x="395" y="448.3" width="4" height="4" fill="#ded8d5"/>
<rect x="399" y="448.3" width="4" height="4" fill="#ded8d5"/>
<rect x="403" y="448.3" width="4" height="4" fill="#ded8d5"/>
<rect x="407" y="448.3" width="4" height="4" fill="#e0dddb"/>
<rect x="411" y="448.3" width="4" height="4" fill="#d8c4b9"/>
<rect x="415" y="448.3" width="4" height="4" fill="#d6bbaa"/>
<rect x="419" y="448.3" width="4" height="4" fill="#d5bba9"/>
<rect x="423" y="448.3" width="4" height="4" fill="#d1bdaa"/>
<rect x="427" y="448.3" width="4" height="4" fill="#cebfab"/>
<rect x="431" y="448.3" width="4" height="4" fill="#cfbfab"/>
<rect x="435" y="448.3" width="4" height="4" fill="#cfbeab"/>
<rect x="439" y="448.3" width="4" height="4" fill="#d0beab"/>
<rect x="443" y="448.3" width="4" height="4" fill="#d0beab"/>
<rect x="447" y="448.3" width="4" height="4" fill="#d1bdaa"/>
<rect x="451" y="448.3" width="4" height="4" fill="#d1bdaa"/>
<rect x="455" y="448.3" width="4" height="4" fill="#d2bdaa"/>
<rect x="459" y="448.3" width="4" height="4" fill="#d2bdaa"/>
<rect x="463" y="448.3" width="4" height="4" fill="#d2bdaa"/>
<rect x="467" y="448.3" width="4" height="4" fill="#d2bdaa"/>
<rect x="471" y="448.3" width="4" height="4" fill="#d2bdaa"/>
<rect x="475" y="448.3" width="4" height="4" fill="#d2bdaa"/>
<rect x="479" y="448.3" width="4" height="4" fill="#d2bdaa"/>
<rect x="483" y="448.3" width="4" height="4" fill="#d2bdaa"/>
<rect x="487" y="448.3" width="4" height="4" fill="#d2bdaa"/>
<rect x="491" y="448.3" width="4" height="4" fill="#d2bdaa"/>
<rect x="495" y="448.3" width="4" height="4" fill="#d2bdaa"/>
<rect x="499" y="448.3" width="4" height="4" fill="#d2bdaa"/>
<rect x="503" y="448.3" width="4" height="4" fill="#d2bdaa"/>
<rect x="507" y="448.3" width="4" height="4" fill="#d2bdaa"/>
<rect x="511" y="448.3" width="4" height="4" fill="#d2bdaa"/>
<rect x="515" y="448.3" width="4" height="4" fill="#d3bdaa"/>
<rect x="519" y="448.3" width="4" height="4" fill="#d3bcaa"/>
<rect x="523" y="448.3" width="4" height="4" fill="#d3bcaa"/>
<rect x="527" y="448.3" width="4" height="4" fill="#d3bcaa"/>
<rect x="531" y="448.3" width="4" height="4" fill="#d3bcaa"/>
<rect x="535" y="448.3" width="4" height="4" fill="#d3bcaa"/>
<rect x="539" y="448.3" width="4" height="4" fill="#d3bdaa"/>
<rect x="543" y="448.3" width="4" height="4" fill="#d3bdaa"/>
<rect x="547" y="448.3" width="4" height="4" fill="#d3bdaa"/>
<rect x="551" y="448.3" width="4" height="4" fill="#d3bcaa"/>
<rect x="555" y="448.3" width="4" height="4" fill="#d3bcaa"/>
<rect x="559" y="448.3" width="4" height="4" fill="#d3bcaa"/>
<rect x="563" y="448.3" width="4" height="4" fill="#d3bcaa"/>
<rect x="567" y="448.3" width="4" height="4" fill="#d3bcaa"/>
<rect x="571" y="448.3" width="4" height="4" fill="#d3bcaa"/>
<rect x="575" y="448.3" width="4" height="4" fill="#d3bcaa"/>
<rect x="579" y="448.3" width="4" height="4" fill="#d3bcaa"/>
<rect x="583" y="448.3" width="4" height="4" fill="#d3bcaa"/>
<rect x="587" y="448.3" width="4" height="4" fill="#d3bcaa"/>
<rect x="591" y="448.3" width="4" height="4" fill="#d3bcaa"/>
<rect x="595" y="448.3" width="4" height="4" fill="#d3bcaa"/>
<rect x="599" y="448.3" width="4" height="4" fill="#d3bcaa"/>
<rect x="603" y="448.3" width="4" height="4" fill="#d3bcaa"/>
<rect x="607" y="448.3" width="4" height="4" fill="#d3bcaa"/>
<rect x="611" y="448.3" width="4" height="4" fill="#d4bca9"/>
<rect x="615" y="448.3" width="4" height="4" fill="#d4bca9"/>
<rect x="619" y="448.3" width="4" height="4" fill="#d3bcaa"/>
<rect x="623" y="448.3" width="4" height="4" fill="#d3bcaa"/>
<rect x="627" y="448.3" width="4" height="4" fill="#d3bcaa"/>
<rect x="395" y="452.3" width="4" height="4" fill="#ded8d5"/>
<rect x="399" y="452.3" width="4" height="4" fill="#ded8d5"/>
<rect x="403" y="452.3" width="4" height="4" fill="#dfd9d7"/>
<rect x="407" y="452.3" width="4" height="4" fill="#dfdad7"/>
<rect x="411" y="452.3" width="4" height="4" fill="#d7c2b6"/>
<rect x="415" y="452.3" width="4" height="4" fill="#d6bbaa"/>
<rect x="419" y="452.3" width="4" height="4" fill="#d5bba9"/>
<rect x="423" y="452.3" width="4" height="4" fill="#d2bdaa"/>
<rect x="427" y="452.3" width="4" height="4" fill="#cdbfac"/>
<rect x="431" y="452.3" width="4" height="4" fill="#cdbfac"/>
<rect x="435" y="452.3" width="4" height="4" fill="#cebfab"/>
<rect x="439" y="452.3" width="4" height="4" fill="#cfbfab"/>
<rect x="443" y="452.3" width="4" height="4" fill="#d0beab"/>
<rect x="447" y="452.3" width="4" height="4" fill="#d0beab"/>
<rect x="451" y="452.3" width="4" height="4" fill="#d0beab"/>
<rect x="455" y="452.3" width="4" height="4" fill="#d1beaa"/>
<rect x="459" y="452.3" width="4" height="4" fill="#d1beaa"/>
<rect x="463" y="452.3" width="4" height="4" fill="#d1beaa"/>
<rect x="467" y="452.3" width="4" height="4" fill="#d1bdaa"/>
<rect x="471" y="452.3" width="4" height="4" fill="#d1bdaa"/>
<rect x="475" y="452.3" width="4" height="4" fill="#d1bdaa"/>
<rect x="479" y="452.3" width="4" height="4" fill="#d1bdaa"/>
<rect x="483" y="452.3" width="4" height="4" fill="#d1bdaa"/>
<rect x="487" y="452.3" width="4" height="4" fill="#d1beaa"/>
<rect x="491" y="452.3" width="4" height="4" fill="#d0beab"/>
<rect x="495" y="452.3" width="4" height="4" fill="#d0beab"/>
<rect x="499" y="452.3" width="4" height="4" fill="#d0beab"/>
<rect x="503" y="452.3" width="4" height="4" fill="#d1beaa"/>
<rect x="507" y="452.3" width="4" height="4" fill="#d1beaa"/>
<rect x="511" y="452.3" width="4" height="4" fill="#d1bdaa"/>
<rect x="515" y="452.3" width="4" height="4" fill="#d2bdaa"/>
<rect x="519" y="452.3" width="4" height="4" fill="#d2bdaa"/>
<rect x="523" y="452.3" width="4" height="4" fill="#d3bdaa"/>
<rect x="527" y="452.3" width="4" height="4" fill="#d3bdaa"/>
<rect x="531" y="452.3" width="4" height="4" fill="#d3bdaa"/>
<rect x="535" y="452.3" width="4" height="4" fill="#d3bdaa"/>
<rect x="539" y="452.3" width="4" height="4" fill="#d3bdaa"/>
<rect x="543" y="452.3" width="4" height="4" fill="#d3bdaa"/>
<rect x="547" y="452.3" width="4" height="4" fill="#d3bdaa"/>
<rect x="551" y="452.3" width="4" height="4" fill="#d3bcaa"/>
<rect x="555" y="452.3" width="4" height="4" fill="#d3bcaa"/>
<rect x="559" y="452.3" width="4" height="4" fill="#d3bcaa"/>
<rect x="563" y="452.3" width="4" height="4" fill="#d3bcaa"/>
<rect x="567" y="452.3" width="4" height="4" fill="#d3bcaa"/>
<rect x="571" y="452.3" width="4" height="4" fill="#d3bcaa"/>
<rect x="575" y="452.3" width="4" height="4" fill="#d3bcaa"/>
<rect x="579" y="452.3" width="4" height="4" fill="#d3bcaa"/>
<rect x="583" y="452.3" width="4" height="4" fill="#d3bcaa"/>
<rect x="587" y="452.3" width="4" height="4" fill="#d3bcaa"/>
<rect x="591" y="452.3" width="4" height="4" fill="#d3bcaa"/>
<rect x="595" y="452.3" width="4" height="4" fill="#d3bcaa"/>
<rect x="599" y="452.3" width="4" height="4" fill="#d3bcaa"/>
<rect x="603" y="452.3" width="4" height="4" fill="#d4bca9"/>
<rect x="607" y="452.3" width="4" height="4" fill="#d4bca9"/>
<rect x="611" y="452.3" width="4" height="4" fill="#d4bca9"/>
<rect x="615" y="452.3" width="4" height="4" fill="#d5bba9"/>
<rect x="619" y="452.3" width="4" height="4" fill="#d3bcaa"/>
<rect x="623" y="452.3" width="4" height="4" fill="#d3bcaa"/>
<rect x="627" y="452.3" width="4" height="4" fill="#d3bcaa"/>
<rect x="395" y="456.3" width="4" height="4" fill="#e0dddb"/>
<rect x="399" y="456.3" width="4" height="4" fill="#e0dddb"/>
<rect x="403" y="456.3" width="4" height="4" fill="#dfdbd8"/>
<rect x="407" y="456.3" width="4" height="4" fill="#ddd6d3"/>
<rect x="411" y="456.3" width="4" height="4" fill="#d6c0b3"/>
<rect x="415" y="456.3" width="4" height="4" fill="#d6bbaa"/>
<rect x="419" y="456.3" width="4" height="4" fill="#d5bba9"/>
<rect x="423" y="456.3" width="4" height="4" fill="#d3bdaa"/>
<rect x="427" y="456.3" width="4" height="4" fill="#ccc0ac"/>
<rect x="431" y="456.3" width="4" height="4" fill="#ccc0ac"/>
<rect x="435" y="456.3" width="4" height="4" fill="#cdbfac"/>
<rect x="439" y="456.3" width="4" height="4" fill="#cebfab"/>
<rect x="443" y="456.3" width="4" height="4" fill="#cfbfab"/>
<rect x="447" y="456.3" width="4" height="4" fill="#cfbeab"/>
<rect x="451" y="456.3" width="4" height="4" fill="#cfbeab"/>
<rect x="455" y="456.3" width="4" height="4" fill="#d0beab"/>
<rect x="459" y="456.3" width="4" height="4" fill="#d0beab"/>
<rect x="463" y="456.3" width="4" height="4" fill="#d0beab"/>
<rect x="467" y="456.3" width="4" height="4" fill="#d0beab"/>
<rect x="471" y="456.3" width="4" height="4" fill="#d0beab"/>
<rect x="475" y="456.3" width="4" height="4" fill="#d0beab"/>
<rect x="479" y="456.3" width="4" height="4" fill="#d0beab"/>
<rect x="483" y="456.3" width="4" height="4" fill="#d0beab"/>
<rect x="487" y="456.3" width="4" height="4" fill="#d0beab"/>
<rect x="491" y="456.3" width="4" height="4" fill="#cfbeab"/>
<rect x="495" y="456.3" width="4" height="4" fill="#cfbfab"/>
<rect x="499" y="456.3" width="4" height="4" fill="#cfbfab"/>
<rect x="503" y="456.3" width="4" height="4" fill="#cfbeab"/>
<rect x="507" y="456.3" width="4" height="4" fill="#d0beab"/>
<rect x="511" y="456.3" width="4" height="4" fill="#d1beaa"/>
<rect x="515" y="456.3" width="4" height="4" fill="#d1bdaa"/>
<rect x="519" y="456.3" width="4" height="4" fill="#d2bdaa"/>
<rect x="523" y="456.3" width="4" height="4" fill="#d2bdaa"/>
<rect x="527" y="456.3" width="4" height="4" fill="#d3bdaa"/>
<rect x="531" y="456.3" width="4" height="4" fill="#d2bdaa"/>
<rect x="535" y="456.3" width="4" height="4" fill="#d2bdaa"/>
<rect x="539" y="456.3" width="4" height="4" fill="#d2bdaa"/>
<rect x="543" y="456.3" width="4" height="4" fill="#d2bdaa"/>
<rect x="547" y="456.3" width="4" height="4" fill="#d3bdaa"/>
<rect x="551" y="456.3" width="4" height="4" fill="#d3bdaa"/>
<rect x="555" y="456.3" width="4" height="4" fill="#d3bcaa"/>
<rect x="559" y="456.3" width="4" height="4" fill="#d3bcaa"/>
<rect x="563" y="456.3" width="4" height="4" fill="#d3bcaa"/>
<rect x="567" y="456.3" width="4" height="4" fill="#d3bcaa"/>
<rect x="571" y="456.3" width="4" height="4" fill="#d3bcaa"/>
<rect x="575" y="456.3" width="4" height="4" fill="#d3bcaa"/>
<rect x="579" y="456.3" width="4" height="4" fill="#d3bcaa"/>
<rect x="583" y="456.3" width="4" height="4" fill="#d3bcaa"/>
<rect x="587" y="456.3" width="4" height="4" fill="#d3bcaa"/>
<rect x="591" y="456.3" width="4" height="4" fill="#d3bcaa"/>
<rect x="595" y="456.3" width="4" height="4" fill="#d4bca9"/>
<rect x="599" y="456.3" width="4" height="4" fill="#d4bca9"/>
<rect x="603" y="456.3" width="4" height="4" fill="#d4bba9"/>
<rect x="607" y="456.3" width="4" height="4" fill="#d5bba9"/>
<rect x="611" y="456.3" width="4" height="4" fill="#d5bba9"/>
<rect x="615" y="456.3" width="4" height="4" fill="#d5bba9"/>
<rect x="619" y="456.3" width="4" height="4" fill="#d3bcaa"/>
<rect x="623" y="456.3" width="4" height="4" fill="#d3bcaa"/>
<rect x="627" y="456.3" width="4" height="4" fill="#d3bcaa"/>
<rect x="395" y="460.3" width="4" height="4" fill="#e0dddb"/>
<rect x="399" y="460.3" width="4" height="4" fill="#e0dddb"/>
<rect x="403" y="460.3" width="4" height="4" fill="#e0dcda"/>
<rect x="407" y="460.3" width="4" height="4" fill="#dcd1cc"/>
<rect x="411" y="460.3" width="4" height="4" fill="#d6beb0"/>
<rect x="415" y="460.3" width="4" height="4" fill="#d6bbaa"/>
<rect x="419" y="460.3" width="4" height="4" fill="#d5bba9"/>
<rect x="423" y="460.3" width="4" height="4" fill="#d0beab"/>
<rect x="427" y="460.3" width="4" height="4" fill="#c9c1ac"/>
<rect x="431" y="460.3" width="4" height="4" fill="#cbc0ac"/>
<rect x="435" y="460.3" width="4" height="4" fill="#ccc0ac"/>
<rect x="439" y="460.3" width="4" height="4" fill="#cdc0ac"/>
<rect x="443" y="460.3" width="4" height="4" fill="#cebfab"/>
<rect x="447" y="460.3" width="4" height="4" fill="#cebfab"/>
<rect x="451" y="460.3" width="4" height="4" fill="#cebfab"/>
<rect x="455" y="460.3" width="4" height="4" fill="#cfbfab"/>
<rect x="459" y="460.3" width="4" height="4" fill="#cfbfab"/>
<rect x="463" y="460.3" width="4" height="4" fill="#cfbfab"/>
<rect x="467" y="460.3" width="4" height="4" fill="#cfbeab"/>
<rect x="471" y="460.3" width="4" height="4" fill="#cfbeab"/>
<rect x="475" y="460.3" width="4" height="4" fill="#cfbeab"/>
<rect x="479" y="460.3" width="4" height="4" fill="#cfbeab"/>
<rect x="483" y="460.3" width="4" height="4" fill="#cfbeab"/>
<rect x="487" y="460.3" width="4" height="4" fill="#cfbfab"/>
<rect x="491" y="460.3" width="4" height="4" fill="#cebfab"/>
<rect x="495" y="460.3" width="4" height="4" fill="#cebfab"/>
<rect x="499" y="460.3" width="4" height="4" fill="#cebfab"/>
<rect x="503" y="460.3" width="4" height="4" fill="#cebfab"/>
<rect x="507" y="460.3" width="4" height="4" fill="#cfbfab"/>
<rect x="511" y="460.3" width="4" height="4" fill="#d0beab"/>
<rect x="515" y="460.3" width="4" height="4" fill="#d0beab"/>
<rect x="519" y="460.3" width="4" height="4" fill="#d1beaa"/>
<rect x="523" y="460.3" width="4" height="4" fill="#d1bdaa"/>
<rect x="527" y="460.3" width="4" height="4" fill="#d2bdaa"/>
<rect x="531" y="460.3" width="4" height="4" fill="#d2bdaa"/>
<rect x="535" y="460.3" width="4" height="4" fill="#d2bdaa"/>
<rect x="539" y="460.3" width="4" height="4" fill="#d2bdaa"/>
<rect x="543" y="460.3" width="4" height="4" fill="#d2bdaa"/>
<rect x="547" y="460.3" width="4" height="4" fill="#d2bdaa"/>
<rect x="551" y="460.3" width="4" height="4" fill="#d3bdaa"/>
<rect x="555" y="460.3" width="4" height="4" fill="#d3bdaa"/>
<rect x="559" y="460.3" width="4" height="4" fill="#d3bcaa"/>
<rect x="563" y="460.3" width="4" height="4" fill="#d3bcaa"/>
<rect x="567" y="460.3" width="4" height="4" fill="#d3bcaa"/>
<rect x="571" y="460.3" width="4" height="4" fill="#d3bcaa"/>
<rect x="575" y="460.3" width="4" height="4" fill="#d3bcaa"/>
<rect x="579" y="460.3" width="4" height="4" fill="#d3bcaa"/>
<rect x="583" y="460.3" width="4" height="4" fill="#d3bcaa"/>
<rect x="587" y="460.3" width="4" height="4" fill="#d3bcaa"/>
<rect x="591" y="460.3" width="4" height="4" fill="#d4bca9"/>
<rect x="595" y="460.3" width="4" height="4" fill="#d4bba9"/>
<rect x="599" y="460.3" width="4" height="4" fill="#d5bba9"/>
<rect x="603" y="460.3" width="4" height="4" fill="#d5bba9"/>
<rect x="607" y="460.3" width="4" height="4" fill="#d5bba9"/>
<rect x="611" y="460.3" width="4" height="4" fill="#d5bba9"/>
<rect x="615" y="460.3" width="4" height="4" fill="#d5bba9"/>
<rect x="619" y="460.3" width="4" height="4" fill="#d3bcaa"/>
<rect x="623" y="460.3" width="4" height="4" fill="#d3bcaa"/>
<rect x="627" y="460.3" width="4" height="4" fill="#d3bcaa"/>
<rect x="395" y="464.3" width="4" height="4" fill="#e0dddb"/>
<rect x="399" y="464.3" width="4" height="4" fill="#e0dddb"/>
<rect x="403" y="464.3" width="4" height="4" fill="#e0dcda"/>
<rect x="407" y="464.3" width="4" height="4" fill="#dacbc3"/>
<rect x="411" y="464.3" width="4" height="4" fill="#d6bcac"/>
<rect x="415" y="464.3" width="4" height="4" fill="#d5bba9"/>
<rect x="419" y="464.3" width="4" height="4" fill="#d0beab"/>
<rect x="423" y="464.3" width="4" height="4" fill="#c5c2ac"/>
<rect x="427" y="464.3" width="4" height="4" fill="#c7c2ac"/>
<rect x="431" y="464.3" width="4" height="4" fill="#c9c1ac"/>
<rect x="435" y="464.3" width="4" height="4" fill="#cbc0ac"/>
<rect x="439" y="464.3" width="4" height="4" fill="#ccc0ac"/>
<rect x="443" y="464.3" width="4" height="4" fill="#cdc0ac"/>
<rect x="447" y="464.3" width="4" height="4" fill="#cdbfac"/>
<rect x="451" y="464.3" width="4" height="4" fill="#cdbfac"/>
<rect x="455" y="464.3" width="4" height="4" fill="#cebfab"/>
<rect x="459" y="464.3" width="4" height="4" fill="#cebfab"/>
<rect x="463" y="464.3" width="4" height="4" fill="#cebfab"/>
<rect x="467" y="464.3" width="4" height="4" fill="#cebfab"/>
<rect x="471" y="464.3" width="4" height="4" fill="#cebfab"/>
<rect x="475" y="464.3" width="4" height="4" fill="#cebfab"/>
<rect x="479" y="464.3" width="4" height="4" fill="#cebfab"/>
<rect x="483" y="464.3" width="4" height="4" fill="#cebfab"/>
<rect x="487" y="464.3" width="4" height="4" fill="#cebfab"/>
<rect x="491" y="464.3" width="4" height="4" fill="#cdbfac"/>
<rect x="495" y="464.3" width="4" height="4" fill="#cebfab"/>
<rect x="499" y="464.3" width="4" height="4" fill="#cebfab"/>
<rect x="503" y="464.3" width="4" height="4" fill="#cebfab"/>
<rect x="507" y="464.3" width="4" height="4" fill="#cfbfab"/>
<rect x="511" y="464.3" width="4" height="4" fill="#cfbeab"/>
<rect x="515" y="464.3" width="4" height="4" fill="#d0beab"/>
<rect x="519" y="464.3" width="4" height="4" fill="#d0beab"/>
<rect x="523" y="464.3" width="4" height="4" fill="#d1beaa"/>
<rect x="527" y="464.3" width="4" height="4" fill="#d1bdaa"/>
<rect x="531" y="464.3" width="4" height="4" fill="#d2bdaa"/>
<rect x="535" y="464.3" width="4" height="4" fill="#d2bdaa"/>
<rect x="539" y="464.3" width="4" height="4" fill="#d2bdaa"/>
<rect x="543" y="464.3" width="4" height="4" fill="#d2bdaa"/>
<rect x="547" y="464.3" width="4" height="4" fill="#d2bdaa"/>
<rect x="551" y="464.3" width="4" height="4" fill="#d3bdaa"/>
<rect x="555" y="464.3" width="4" height="4" fill="#d3bdaa"/>
<rect x="559" y="464.3" width="4" height="4" fill="#d3bcaa"/>
<rect x="563" y="464.3" width="4" height="4" fill="#d3bcaa"/>
<rect x="567" y="464.3" width="4" height="4" fill="#d3bcaa"/>
<rect x="571" y="464.3" width="4" height="4" fill="#d3bcaa"/>
<rect x="575" y="464.3" width="4" height="4" fill="#d3bcaa"/>
<rect x="579" y="464.3" width="4" height="4" fill="#d3bcaa"/>
<rect x="583" y="464.3" width="4" height="4" fill="#d4bca9"/>
<rect x="587" y="464.3" width="4" height="4" fill="#d4bca9"/>
<rect x="591" y="464.3" width="4" height="4" fill="#d4bba9"/>
<rect x="595" y="464.3" width="4" height="4" fill="#d5bba9"/>
<rect x="599" y="464.3" width="4" height="4" fill="#d5bba9"/>
<rect x="603" y="464.3" width="4" height="4" fill="#d5bba9"/>
<rect x="607" y="464.3" width="4" height="4" fill="#d5bba9"/>
<rect x="611" y="464.3" width="4" height="4" fill="#d5bba9"/>
<rect x="615" y="464.3" width="4" height="4" fill="#d5bba9"/>
<rect x="619" y="464.3" width="4" height="4" fill="#d3bcaa"/>
<rect x="623" y="464.3" width="4" height="4" fill="#d3bcaa"/>
<rect x="627" y="464.3" width="4" height="4" fill="#d3bcaa"/>
<rect x="395" y="468.3" width="4" height="4" fill="#e0dddb"/>
<rect x="399" y="468.3" width="4" height="4" fill="#e0dddb"/>
<rect x="403" y="468.3" width="4" height="4" fill="#ded9d6"/>
<rect x="407" y="468.3" width="4" height="4" fill="#d7c3b8"/>
<rect x="411" y="468.3" width="4" height="4" fill="#d5bba9"/>
<rect x="415" y="468.3" width="4" height="4" fill="#d0beab"/>
<rect x="419" y="468.3" width="4" height="4" fill="#c5c2ac"/>
<rect x="423" y="468.3" width="4" height="4" fill="#c2c2ac"/>
<rect x="427" y="468.3" width="4" height="4" fill="#c5c2ac"/>
<rect x="431" y="468.3" width="4" height="4" fill="#c7c2ac"/>
<rect x="435" y="468.3" width="4" height="4" fill="#c8c1ac"/>
<rect x="439" y="468.3" width="4" height="4" fill="#cac1ac"/>
<rect x="443" y="468.3" width="4" height="4" fill="#ccc0ac"/>
<rect x="447" y="468.3" width="4" height="4" fill="#ccc0ac"/>
<rect x="451" y="468.3" width="4" height="4" fill="#ccc0ac"/>
<rect x="455" y="468.3" width="4" height="4" fill="#cdc0ac"/>
<rect x="459" y="468.3" width="4" height="4" fill="#cdc0ac"/>
<rect x="463" y="468.3" width="4" height="4" fill="#cdc0ac"/>
<rect x="467" y="468.3" width="4" height="4" fill="#cdbfac"/>
<rect x="471" y="468.3" width="4" height="4" fill="#cdbfac"/>
<rect x="475" y="468.3" width="4" height="4" fill="#cdbfac"/>
<rect x="479" y="468.3" width="4" height="4" fill="#cdbfac"/>
<rect x="483" y="468.3" width="4" height="4" fill="#cdbfac"/>
<rect x="487" y="468.3" width="4" height="4" fill="#cdc0ac"/>
<rect x="491" y="468.3" width="4" height="4" fill="#cdc0ac"/>
<rect x="495" y="468.3" width="4" height="4" fill="#cdbfac"/>
<rect x="499" y="468.3" width="4" height="4" fill="#cebfab"/>
<rect x="503" y="468.3" width="4" height="4" fill="#cebfab"/>
<rect x="507" y="468.3" width="4" height="4" fill="#cfbfab"/>
<rect x="511" y="468.3" width="4" height="4" fill="#cfbeab"/>
<rect x="515" y="468.3" width="4" height="4" fill="#d0beab"/>
<rect x="519" y="468.3" width="4" height="4" fill="#d0beab"/>
<rect x="523" y="468.3" width="4" height="4" fill="#d0beab"/>
<rect x="527" y="468.3" width="4" height="4" fill="#d1beaa"/>
<rect x="531" y="468.3" width="4" height="4" fill="#d1bdaa"/>
<rect x="535" y="468.3" width="4" height="4" fill="#d2bdaa"/>
<rect x="539" y="468.3" width="4" height="4" fill="#d2bdaa"/>
<rect x="543" y="468.3" width="4" height="4" fill="#d2bdaa"/>
<rect x="547" y="468.3" width="4" height="4" fill="#d2bdaa"/>
<rect x="551" y="468.3" width="4" height="4" fill="#d2bdaa"/>
<rect x="555" y="468.3" width="4" height="4" fill="#d3bdaa"/>
<rect x="559" y="468.3" width="4" height="4" fill="#d3bdaa"/>
<rect x="563" y="468.3" width="4" height="4" fill="#d3bcaa"/>
<rect x="567" y="468.3" width="4" height="4" fill="#d3bcaa"/>
<rect x="571" y="468.3" width="4" height="4" fill="#d3bcaa"/>
<rect x="575" y="468.3" width="4" height="4" fill="#d3bcaa"/>
<rect x="579" y="468.3" width="4" height="4" fill="#d4bca9"/>
<rect x="583" y="468.3" width="4" height="4" fill="#d4bca9"/>
<rect x="587" y="468.3" width="4" height="4" fill="#d4bba9"/>
<rect x="591" y="468.3" width="4" height="4" fill="#d5bba9"/>
<rect x="595" y="468.3" width="4" height="4" fill="#d5bba9"/>
<rect x="599" y="468.3" width="4" height="4" fill="#d5bba9"/>
<rect x="603" y="468.3" width="4" height="4" fill="#d5bba9"/>
<rect x="607" y="468.3" width="4" height="4" fill="#d5bba9"/>
<rect x="611" y="468.3" width="4" height="4" fill="#d5bba9"/>
<rect x="615" y="468.3" width="4" height="4" fill="#d6bbaa"/>
<rect x="619" y="468.3" width="4" height="4" fill="#d6bbaa"/>
<rect x="623" y="468.3" width="4" height="4" fill="#d6bbaa"/>
<rect x="627" y="468.3" width="4" height="4" fill="#d3bcaa"/>
<rect x="395" y="472.3" width="4" height="4" fill="#e0dddb"/>
<rect x="399" y="472.3" width="4" height="4" fill="#e0dddb"/>
<rect x="403" y="472.3" width="4" height="4" fill="#ddd5d1"/>
<rect x="407" y="472.3" width="4" height="4" fill="#d6bcad"/>
<rect x="411" y="472.3" width="4" height="4" fill="#d1beaa"/>
<rect x="415" y="472.3" width="4" height="4" fill="#c4c2ac"/>
<rect x="419" y="472.3" width="4" height="4" fill="#bcc3ac"/>
<rect x="423" y="472.3" width="4" height="4" fill="#bfc3ac"/>
<rect x="427" y="472.3" width="4" height="4" fill="#c2c3ac"/>
<rect x="431" y="472.3" width="4" height="4" fill="#c4c2ac"/>
<rect x="435" y="472.3" width="4" height="4" fill="#c6c2ac"/>
<rect x="439" y="472.3" width="4" height="4" fill="#c8c1ac"/>
<rect x="443" y="472.3" width="4" height="4" fill="#cbc0ac"/>
<rect x="447" y="472.3" width="4" height="4" fill="#cbc0ac"/>
<rect x="451" y="472.3" width="4" height="4" fill="#cbc0ac"/>
<rect x="455" y="472.3" width="4" height="4" fill="#cbc0ac"/>
<rect x="459" y="472.3" width="4" height="4" fill="#ccc0ac"/>
<rect x="463" y="472.3" width="4" height="4" fill="#ccc0ac"/>
<rect x="467" y="472.3" width="4" height="4" fill="#ccc0ac"/>
<rect x="471" y="472.3" width="4" height="4" fill="#ccc0ac"/>
<rect x="475" y="472.3" width="4" height="4" fill="#ccc0ac"/>
<rect x="479" y="472.3" width="4" height="4" fill="#ccc0ac"/>
<rect x="483" y="472.3" width="4" height="4" fill="#ccc0ac"/>
<rect x="487" y="472.3" width="4" height="4" fill="#ccc0ac"/>
<rect x="491" y="472.3" width="4" height="4" fill="#cdc0ac"/>
<rect x="495" y="472.3" width="4" height="4" fill="#cdbfac"/>
<rect x="499" y="472.3" width="4" height="4" fill="#cebfab"/>
<rect x="503" y="472.3" width="4" height="4" fill="#cebfab"/>
<rect x="507" y="472.3" width="4" height="4" fill="#cfbfab"/>
<rect x="511" y="472.3" width="4" height="4" fill="#cfbeab"/>
<rect x="515" y="472.3" width="4" height="4" fill="#cfbeab"/>
<rect x="519" y="472.3" width="4" height="4" fill="#d0beab"/>
<rect x="523" y="472.3" width="4" height="4" fill="#d0beab"/>
<rect x="527" y="472.3" width="4" height="4" fill="#d1beaa"/>
<rect x="531" y="472.3" width="4" height="4" fill="#d1bdaa"/>
<rect x="535" y="472.3" width="4" height="4" fill="#d2bdaa"/>
<rect x="539" y="472.3" width="4" height="4" fill="#d2bdaa"/>
<rect x="543" y="472.3" width="4" height="4" fill="#d2bdaa"/>
<rect x="547" y="472.3" width="4" height="4" fill="#d2bdaa"/>
<rect x="551" y="472.3" width="4" height="4" fill="#d2bdaa"/>
<rect x="555" y="472.3" width="4" height="4" fill="#d3bdaa"/>
<rect x="559" y="472.3" width="4" height="4" fill="#d3bdaa"/>
<rect x="563" y="472.3" width="4" height="4" fill="#d3bcaa"/>
<rect x="567" y="472.3" width="4" height="4" fill="#d3bcaa"/>
<rect x="571" y="472.3" width="4" height="4" fill="#d3bcaa"/>
<rect x="575" y="472.3" width="4" height="4" fill="#d4bca9"/>
<rect x="579" y="472.3" width="4" height="4" fill="#d4bca9"/>
<rect x="583" y="472.3" width="4" height="4" fill="#d5bba9"/>
<rect x="587" y="472.3" width="4" height="4" fill="#d5bba9"/>
<rect x="591" y="472.3" width="4" height="4" fill="#d5bba9"/>
<rect x="595" y="472.3" width="4" height="4" fill="#d5bba9"/>
<rect x="599" y="472.3" width="4" height="4" fill="#d5bba9"/>
<rect x="603" y="472.3" width="4" height="4" fill="#d5bba9"/>
<rect x="607" y="472.3" width="4" height="4" fill="#d6bbaa"/>
<rect x="611" y="472.3" width="4" height="4" fill="#d6bbaa"/>
<rect x="615" y="472.3" width="4" height="4" fill="#d6bbaa"/>
<rect x="619" y="472.3" width="4" height="4" fill="#d6bbaa"/>
<rect x="623" y="472.3" width="4" height="4" fill="#d6bbaa"/>
<rect x="627" y="472.3" width="4" height="4" fill="#d8c5bb"/>
<rect x="395" y="476.3" width="4" height="4" fill="#d8c5bb"/>
<rect x="399" y="476.3" width="4" height="4" fill="#d8c5bb"/>
<rect x="403" y="476.3" width="4" height="4" fill="#dbd0ca"/>
<rect x="407" y="476.3" width="4" height="4" fill="#d5bba9"/>
<rect x="411" y="476.3" width="4" height="4" fill="#bec3ac"/>
<rect x="415" y="476.3" width="4" height="4" fill="#b3c2aa"/>
<rect x="419" y="476.3" width="4" height="4" fill="#b8c2ab"/>
<rect x="423" y="476.3" width="4" height="4" fill="#bcc3ac"/>
<rect x="427" y="476.3" width="4" height="4" fill="#bfc3ac"/>
<rect x="431" y="476.3" width="4" height="4" fill="#c2c3ac"/>
<rect x="435" y="476.3" width="4" height="4" fill="#c5c2ac"/>
<rect x="439" y="476.3" width="4" height="4" fill="#c8c1ac"/>
<rect x="443" y="476.3" width="4" height="4" fill="#cbc0ac"/>
<rect x="447" y="476.3" width="4" height="4" fill="#cbc0ac"/>
<rect x="451" y="476.3" width="4" height="4" fill="#cbc0ac"/>
<rect x="455" y="476.3" width="4" height="4" fill="#cbc0ac"/>
<rect x="459" y="476.3" width="4" height="4" fill="#cbc0ac"/>
<rect x="463" y="476.3" width="4" height="4" fill="#cbc0ac"/>
<rect x="467" y="476.3" width="4" height="4" fill="#cbc0ac"/>
<rect x="471" y="476.3" width="4" height="4" fill="#cbc0ac"/>
<rect x="475" y="476.3" width="4" height="4" fill="#cbc0ac"/>
<rect x="479" y="476.3" width="4" height="4" fill="#cbc0ac"/>
<rect x="483" y="476.3" width="4" height="4" fill="#ccc0ac"/>
<rect x="487" y="476.3" width="4" height="4" fill="#ccc0ac"/>
<rect x="491" y="476.3" width="4" height="4" fill="#cdc0ac"/>
<rect x="495" y="476.3" width="4" height="4" fill="#cdbfac"/>
<rect x="499" y="476.3" width="4" height="4" fill="#cebfab"/>
<rect x="503" y="476.3" width="4" height="4" fill="#cebfab"/>
<rect x="507" y="476.3" width="4" height="4" fill="#cfbfab"/>
<rect x="511" y="476.3" width="4" height="4" fill="#cfbfab"/>
<rect x="515" y="476.3" width="4" height="4" fill="#cfbeab"/>
<rect x="519" y="476.3" width="4" height="4" fill="#d0beab"/>
<rect x="523" y="476.3" width="4" height="4" fill="#d0beab"/>
<rect x="527" y="476.3" width="4" height="4" fill="#d1beaa"/>
<rect x="531" y="476.3" width="4" height="4" fill="#d1bdaa"/>
<rect x="535" y="476.3" width="4" height="4" fill="#d2bdaa"/>
<rect x="539" y="476.3" width="4" height="4" fill="#d2bdaa"/>
<rect x="543" y="476.3" width="4" height="4" fill="#d2bdaa"/>
<rect x="547" y="476.3" width="4" height="4" fill="#d2bdaa"/>
<rect x="551" y="476.3" width="4" height="4" fill="#d3bdaa"/>
<rect x="555" y="476.3" width="4" height="4" fill="#d3bdaa"/>
<rect x="559" y="476.3" width="4" height="4" fill="#d3bcaa"/>
<rect x="563" y="476.3" width="4" height="4" fill="#d3bcaa"/>
<rect x="567" y="476.3" width="4" height="4" fill="#d3bcaa"/>
<rect x="571" y="476.3" width="4" height="4" fill="#d4bca9"/>
<rect x="575" y="476.3" width="4" height="4" fill="#d4bca9"/>
<rect x="579" y="476.3" width="4" height="4" fill="#d4bba9"/>
<rect x="583" y="476.3" width="4" height="4" fill="#d5bba9"/>
<rect x="587" y="476.3" width="4" height="4" fill="#d5bba9"/>
<rect x="591" y="476.3" width="4" height="4" fill="#d5bba9"/>
<rect x="595" y="476.3" width="4" height="4" fill="#d5bba9"/>
<rect x="599" y="476.3" width="4" height="4" fill="#d5bba9"/>
<rect x="603" y="476.3" width="4" height="4" fill="#d6bbaa"/>
<rect x="607" y="476.3" width="4" height="4" fill="#d6bbaa"/>
<rect x="611" y="476.3" width="4" height="4" fill="#d6bbaa"/>
<rect x="615" y="476.3" width="4" height="4" fill="#d6bbaa"/>
<rect x="619" y="476.3" width="4" height="4" fill="#d6bbaa"/>
<rect x="623" y="476.3" width="4" height="4" fill="#d8c5bb"/>
<rect x="627" y="476.3" width="4" height="4" fill="#d8c5bb"/>
<rect x="395" y="480.3" width="4" height="4" fill="#d8c5bb"/>
<rect x="399" y="480.3" width="4" height="4" fill="#d8c5bb"/>
<rect x="403" y="480.3" width="4" height="4" fill="#d7c3b8"/>
<rect x="407" y="480.3" width="4" height="4" fill="#d0beab"/>
<rect x="411" y="480.3" width="4" height="4" fill="#b1c2aa"/>
<rect x="415" y="480.3" width="4" height="4" fill="#afc1a9"/>
<rect x="419" y="480.3" width="4" height="4" fill="#b4c2aa"/>
<rect x="423" y="480.3" width="4" height="4" fill="#b8c3ab"/>
<rect x="427" y="480.3" width="4" height="4" fill="#bdc3ac"/>
<rect x="431" y="480.3" width="4" height="4" fill="#c0c3ac"/>
<rect x="435" y="480.3" width="4" height="4" fill="#c4c2ac"/>
<rect x="439" y="480.3" width="4" height="4" fill="#c7c2ac"/>
<rect x="443" y="480.3" width="4" height="4" fill="#cac1ac"/>
<rect x="447" y="480.3" width="4" height="4" fill="#cac1ac"/>
<rect x="451" y="480.3" width="4" height="4" fill="#cac1ac"/>
<rect x="455" y="480.3" width="4" height="4" fill="#cac1ac"/>
<rect x="459" y="480.3" width="4" height="4" fill="#cac1ac"/>
<rect x="463" y="480.3" width="4" height="4" fill="#cac1ac"/>
<rect x="467" y="480.3" width="4" height="4" fill="#cac1ac"/>
<rect x="471" y="480.3" width="4" height="4" fill="#cac1ac"/>
<rect x="475" y="480.3" width="4" height="4" fill="#cac1ac"/>
<rect x="479" y="480.3" width="4" height="4" fill="#cbc0ac"/>
<rect x="483" y="480.3" width="4" height="4" fill="#ccc0ac"/>
<rect x="487" y="480.3" width="4" height="4" fill="#ccc0ac"/>
<rect x="491" y="480.3" width="4" height="4" fill="#cdc0ac"/>
<rect x="495" y="480.3" width="4" height="4" fill="#cdbfac"/>
<rect x="499" y="480.3" width="4" height="4" fill="#cebfab"/>
<rect x="503" y="480.3" width="4" height="4" fill="#cebfab"/>
<rect x="507" y="480.3" width="4" height="4" fill="#cebfab"/>
<rect x="511" y="480.3" width="4" height="4" fill="#cfbfab"/>
<rect x="515" y="480.3" width="4" height="4" fill="#cfbeab"/>
<rect x="519" y="480.3" width="4" height="4" fill="#d0beab"/>
<rect x="523" y="480.3" width="4" height="4" fill="#d0beab"/>
<rect x="527" y="480.3" width="4" height="4" fill="#d1beaa"/>
<rect x="531" y="480.3" width="4" height="4" fill="#d1bdaa"/>
<rect x="535" y="480.3" width="4" height="4" fill="#d2bdaa"/>
<rect x="539" y="480.3" width="4" height="4" fill="#d2bdaa"/>
<rect x="543" y="480.3" width="4" height="4" fill="#d2bdaa"/>
<rect x="547" y="480.3" width="4" height="4" fill="#d2bdaa"/>
<rect x="551" y="480.3" width="4" height="4" fill="#d3bdaa"/>
<rect x="555" y="480.3" width="4" height="4" fill="#d3bdaa"/>
<rect x="559" y="480.3" width="4" height="4" fill="#d3bcaa"/>
<rect x="563" y="480.3" width="4" height="4" fill="#d3bcaa"/>
<rect x="567" y="480.3" width="4" height="4" fill="#d3bcaa"/>
<rect x="571" y="480.3" width="4" height="4" fill="#d4bca9"/>
<rect x="575" y="480.3" width="4" height="4" fill="#d4bba9"/>
<rect x="579" y="480.3" width="4" height="4" fill="#d5bba9"/>
<rect x="583" y="480.3" width="4" height="4" fill="#d5bba9"/>
<rect x="587" y="480.3" width="4" height="4" fill="#d5bba9"/>
<rect x="591" y="480.3" width="4" height="4" fill="#d5bba9"/>
<rect x="595" y="480.3" width="4" height="4" fill="#d5bba9"/>
<rect x="599" y="480.3" width="4" height="4" fill="#d6bbaa"/>
<rect x="603" y="480.3" width="4" height="4" fill="#d6bbaa"/>
<rect x="607" y="480.3" width="4" height="4" fill="#d6bbaa"/>
<rect x="611" y="480.3" width="4" height="4" fill="#d6bbaa"/>
<rect x="615" y="480.3" width="4" height="4" fill="#d6bbab"/>
<rect x="619" y="480.3" width="4" height="4" fill="#d8c5bb"/>
<rect x="623" y="480.3" width="4" height="4" fill="#d8c5bb"/>
<rect x="627" y="480.3" width="4" height="4" fill="#d8c5bb"/>
<rect x="395" y="484.3" width="4" height="4" fill="#d8c5bb"/>
<rect x="399" y="484.3" width="4" height="4" fill="#d8c5bb"/>
<rect x="403" y="484.3" width="4" height="4" fill="#d6bbaa"/>
<rect x="407" y="484.3" width="4" height="4" fill="#c7c2ac"/>
<rect x="411" y="484.3" width="4" height="4" fill="#acc0a8"/>
<rect x="415" y="484.3" width="4" height="4" fill="#abc0a7"/>
<rect x="419" y="484.3" width="4" height="4" fill="#b1c2aa"/>
<rect x="423" y="484.3" width="4" height="4" fill="#b6c2ab"/>
<rect x="427" y="484.3" width="4" height="4" fill="#bac3ab"/>
<rect x="431" y="484.3" width="4" height="4" fill="#bfc3ac"/>
<rect x="435" y="484.3" width="4" height="4" fill="#c3c2ac"/>
<rect x="439" y="484.3" width="4" height="4" fill="#c6c2ac"/>
<rect x="443" y="484.3" width="4" height="4" fill="#c9c1ac"/>
<rect x="447" y="484.3" width="4" height="4" fill="#c9c1ac"/>
<rect x="451" y="484.3" width="4" height="4" fill="#c9c1ac"/>
<rect x="455" y="484.3" width="4" height="4" fill="#c9c1ac"/>
<rect x="459" y="484.3" width="4" height="4" fill="#c9c1ac"/>
<rect x="463" y="484.3" width="4" height="4" fill="#cac1ac"/>
<rect x="467" y="484.3" width="4" height="4" fill="#cac1ac"/>
<rect x="471" y="484.3" width="4" height="4" fill="#cac1ac"/>
<rect x="475" y="484.3" width="4" height="4" fill="#cac1ac"/>
<rect x="479" y="484.3" width="4" height="4" fill="#cac1ac"/>
<rect x="483" y="484.3" width="4" height="4" fill="#cbc0ac"/>
<rect x="487" y="484.3" width="4" height="4" fill="#ccc0ac"/>
<rect x="491" y="484.3" width="4" height="4" fill="#cdc0ac"/>
<rect x="495" y="484.3" width="4" height="4" fill="#cdc0ac"/>
<rect x="499" y="484.3" width="4" height="4" fill="#cdbfac"/>
<rect x="503" y="484.3" width="4" height="4" fill="#cebfab"/>
<rect x="507" y="484.3" width="4" height="4" fill="#cebfab"/>
<rect x="511" y="484.3" width="4" height="4" fill="#cfbfab"/>
<rect x="515" y="484.3" width="4" height="4" fill="#cfbeab"/>
<rect x="519" y="484.3" width="4" height="4" fill="#d0beab"/>
<rect x="523" y="484.3" width="4" height="4" fill="#d0beab"/>
<rect x="527" y="484.3" width="4" height="4" fill="#d0beab"/>
<rect x="531" y="484.3" width="4" height="4" fill="#d1beaa"/>
<rect x="535" y="484.3" width="4" height="4" fill="#d1bdaa"/>
<rect x="539" y="484.3" width="4" height="4" fill="#d2bdaa"/>
<rect x="543" y="484.3" width="4" height="4" fill="#d2bdaa"/>
<rect x="547" y="484.3" width="4" height="4" fill="#d2bdaa"/>
<rect x="551" y="484.3" width="4" height="4" fill="#d3bdaa"/>
<rect x="555" y="484.3" width="4" height="4" fill="#d3bcaa"/>
<rect x="559" y="484.3" width="4" height="4" fill="#d3bcaa"/>
<rect x="563" y="484.3" width="4" height="4" fill="#d3bcaa"/>
<rect x="567" y="484.3" width="4" height="4" fill="#d4bca9"/>
<rect x="571" y="484.3" width="4" height="4" fill="#d4bba9"/>
<rect x="575" y="484.3" width="4" height="4" fill="#d5bba9"/>
<rect x="579" y="484.3" width="4" height="4" fill="#d5bba9"/>
<rect x="583" y="484.3" width="4" height="4" fill="#d5bba9"/>
<rect x="587" y="484.3" width="4" height="4" fill="#d5bba9"/>
<rect x="591" y="484.3" width="4" height="4" fill="#d5bba9"/>
<rect x="595" y="484.3" width="4" height="4" fill="#d6bbaa"/>
<rect x="599" y="484.3" width="4" height="4" fill="#d6bbaa"/>
<rect x="603" y="484.3" width="4" height="4" fill="#d6bbaa"/>
<rect x="607" y="484.3" width="4" height="4" fill="#d6bbaa"/>
<rect x="611" y="484.3" width="4" height="4" fill="#d6bcac"/>
<rect x="615" y="484.3" width="4" height="4" fill="#d6bcad"/>
<rect x="619" y="484.3" width="4" height="4" fill="#d8c5bb"/>
<rect x="623" y="484.3" width="4" height="4" fill="#d8c5bb"/>
<rect x="627" y="484.3" width="4" height="4" fill="#d8c5bb"/>
<rect x="395" y="488.3" width="4" height="4" fill="#d8c5bb"/>
<rect x="399" y="488.3" width="4" height="4" fill="#d8c5bb"/>
<rect x="403" y="488.3" width="4" height="4" fill="#ccc0ac"/>
<rect x="407" y="488.3" width="4" height="4" fill="#aabfa7"/>
<rect x="411" y="488.3" width="4" height="4" fill="#a2bda4"/>
<rect x="415" y="488.3" width="4" height="4" fill="#a4bda5"/>
<rect x="419" y="488.3" width="4" height="4" fill="#abc0a7"/>
<rect x="423" y="488.3" width="4" height="4" fill="#b3c2aa"/>
<rect x="427" y="488.3" width="4" height="4" fill="#b8c3ab"/>
<rect x="431" y="488.3" width="4" height="4" fill="#bec3ac"/>
<rect x="435" y="488.3" width="4" height="4" fill="#c2c3ac"/>
<rect x="439" y="488.3" width="4" height="4" fill="#c5c2ac"/>
<rect x="443" y="488.3" width="4" height="4" fill="#c8c1ac"/>
<rect x="447" y="488.3" width="4" height="4" fill="#c9c1ac"/>
<rect x="451" y="488.3" width="4" height="4" fill="#c9c1ac"/>
<rect x="455" y="488.3" width="4" height="4" fill="#c9c1ac"/>
<rect x="459" y="488.3" width="4" height="4" fill="#c9c1ac"/>
<rect x="463" y="488.3" width="4" height="4" fill="#c9c1ac"/>
<rect x="467" y="488.3" width="4" height="4" fill="#c9c1ac"/>
<rect x="471" y="488.3" width="4" height="4" fill="#c9c1ac"/>
<rect x="475" y="488.3" width="4" height="4" fill="#c9c1ac"/>
<rect x="479" y="488.3" width="4" height="4" fill="#cac1ac"/>
<rect x="483" y="488.3" width="4" height="4" fill="#cbc0ac"/>
<rect x="487" y="488.3" width="4" height="4" fill="#cbc0ac"/>
<rect x="491" y="488.3" width="4" height="4" fill="#ccc0ac"/>
<rect x="495" y="488.3" width="4" height="4" fill="#cdc0ac"/>
<rect x="499" y="488.3" width="4" height="4" fill="#cdbfac"/>
<rect x="503" y="488.3" width="4" height="4" fill="#cebfab"/>
<rect x="507" y="488.3" width="4" height="4" fill="#cebfab"/>
<rect x="511" y="488.3" width="4" height="4" fill="#cfbfab"/>
<rect x="515" y="488.3" width="4" height="4" fill="#cfbeab"/>
<rect x="519" y="488.3" width="4" height="4" fill="#d0beab"/>
<rect x="523" y="488.3" width="4" height="4" fill="#d0beab"/>
<rect x="527" y="488.3" width="4" height="4" fill="#d0beab"/>
<rect x="531" y="488.3" width="4" height="4" fill="#d1beaa"/>
<rect x="535" y="488.3" width="4" height="4" fill="#d1bdaa"/>
<rect x="539" y="488.3" width="4" height="4" fill="#d2bdaa"/>
<rect x="543" y="488.3" width="4" height="4" fill="#d2bdaa"/>
<rect x="547" y="488.3" width="4" height="4" fill="#d2bdaa"/>
<rect x="551" y="488.3" width="4" height="4" fill="#d3bdaa"/>
<rect x="555" y="488.3" width="4" height="4" fill="#d3bcaa"/>
<rect x="559" y="488.3" width="4" height="4" fill="#d3bcaa"/>
<rect x="563" y="488.3" width="4" height="4" fill="#d4bca9"/>
<rect x="567" y="488.3" width="4" height="4" fill="#d4bca9"/>
<rect x="571" y="488.3" width="4" height="4" fill="#d5bba9"/>
<rect x="575" y="488.3" width="4" height="4" fill="#d5bba9"/>
<rect x="579" y="488.3" width="4" height="4" fill="#d5bba9"/>
<rect x="583" y="488.3" width="4" height="4" fill="#d5bba9"/>
<rect x="587" y="488.3" width="4" height="4" fill="#d5bba9"/>
<rect x="591" y="488.3" width="4" height="4" fill="#d6bbaa"/>
<rect x="595" y="488.3" width="4" height="4" fill="#d6bbaa"/>
<rect x="599" y="488.3" width="4" height="4" fill="#d6bbaa"/>
<rect x="603" y="488.3" width="4" height="4" fill="#d6bbaa"/>
<rect x="607" y="488.3" width="4" height="4" fill="#d6bcac"/>
<rect x="611" y="488.3" width="4" height="4" fill="#d6bdae"/>
<rect x="615" y="488.3" width="4" height="4" fill="#d6bdaf"/>
<rect x="619" y="488.3" width="4" height="4" fill="#d8c5bb"/>
<rect x="623" y="488.3" width="4" height="4" fill="#d8c5bb"/>
<rect x="627" y="488.3" width="4" height="4" fill="#d8c5bb"/>
<rect x="395" y="492.3" width="4" height="4" fill="#a0bca3"/>
<rect x="399" y="492.3" width="4" height="4" fill="#a0bca3"/>
<rect x="403" y="492.3" width="4" height="4" fill="#a1bca3"/>
<rect x="407" y="492.3" width="4" height="4" fill="#9dbaa1"/>
<rect x="411" y="492.3" width="4" height="4" fill="#96b79e"/>
<rect x="415" y="492.3" width="4" height="4" fill="#9dbaa1"/>
<rect x="419" y="492.3" width="4" height="4" fill="#a4bda4"/>
<rect x="423" y="492.3" width="4" height="4" fill="#afc1a9"/>
<rect x="427" y="492.3" width="4" height="4" fill="#b6c2ab"/>
<rect x="431" y="492.3" width="4" height="4" fill="#bcc3ac"/>
<rect x="435" y="492.3" width="4" height="4" fill="#c1c3ac"/>
<rect x="439" y="492.3" width="4" height="4" fill="#c4c2ac"/>
<rect x="443" y="492.3" width="4" height="4" fill="#c8c1ac"/>
<rect x="447" y="492.3" width="4" height="4" fill="#c8c1ac"/>
<rect x="451" y="492.3" width="4" height="4" fill="#c8c1ac"/>
<rect x="455" y="492.3" width="4" height="4" fill="#c8c1ac"/>
<rect x="459" y="492.3" width="4" height="4" fill="#c8c1ac"/>
<rect x="463" y="492.3" width="4" height="4" fill="#c8c1ac"/>
<rect x="467" y="492.3" width="4" height="4" fill="#c8c1ac"/>
<rect x="471" y="492.3" width="4" height="4" fill="#c8c1ac"/>
<rect x="475" y="492.3" width="4" height="4" fill="#c8c1ac"/>
<rect x="479" y="492.3" width="4" height="4" fill="#c9c1ac"/>
<rect x="483" y="492.3" width="4" height="4" fill="#cac1ac"/>
<rect x="487" y="492.3" width="4" height="4" fill="#cbc0ac"/>
<rect x="491" y="492.3" width="4" height="4" fill="#ccc0ac"/>
<rect x="495" y="492.3" width="4" height="4" fill="#ccc0ac"/>
<rect x="499" y="492.3" width="4" height="4" fill="#cdc0ac"/>
<rect x="503" y="492.3" width="4" height="4" fill="#cebfab"/>
<rect x="507" y="492.3" width="4" height="4" fill="#cebfab"/>
<rect x="511" y="492.3" width="4" height="4" fill="#cfbfab"/>
<rect x="515" y="492.3" width="4" height="4" fill="#cfbeab"/>
<rect x="519" y="492.3" width="4" height="4" fill="#cfbeab"/>
<rect x="523" y="492.3" width="4" height="4" fill="#d0beab"/>
<rect x="527" y="492.3" width="4" height="4" fill="#d0beab"/>
<rect x="531" y="492.3" width="4" height="4" fill="#d1beaa"/>
<rect x="535" y="492.3" width="4" height="4" fill="#d1bdaa"/>
<rect x="539" y="492.3" width="4" height="4" fill="#d2bdaa"/>
<rect x="543" y="492.3" width="4" height="4" fill="#d2bdaa"/>
<rect x="547" y="492.3" width="4" height="4" fill="#d2bdaa"/>
<rect x="551" y="492.3" width="4" height="4" fill="#d3bdaa"/>
<rect x="555" y="492.3" width="4" height="4" fill="#d3bcaa"/>
<rect x="559" y="492.3" width="4" height="4" fill="#d3bcaa"/>
<rect x="563" y="492.3" width="4" height="4" fill="#d4bca9"/>
<rect x="567" y="492.3" width="4" height="4" fill="#d4bba9"/>
<rect x="571" y="492.3" width="4" height="4" fill="#d5bba9"/>
<rect x="575" y="492.3" width="4" height="4" fill="#d5bba9"/>
<rect x="579" y="492.3" width="4" height="4" fill="#d5bba9"/>
<rect x="583" y="492.3" width="4" height="4" fill="#d5bba9"/>
<rect x="587" y="492.3" width="4" height="4" fill="#d6bbaa"/>
<rect x="591" y="492.3" width="4" height="4" fill="#d6bbaa"/>
<rect x="595" y="492.3" width="4" height="4" fill="#d6bbaa"/>
<rect x="599" y="492.3" width="4" height="4" fill="#d6bbaa"/>
<rect x="603" y="492.3" width="4" height="4" fill="#d6bcac"/>
<rect x="607" y="492.3" width="4" height="4" fill="#d6bdae"/>
<rect x="611" y="492.3" width="4" height="4" fill="#d6beb0"/>
<rect x="615" y="492.3" width="4" height="4" fill="#d6bfb2"/>
<rect x="619" y="492.3" width="4" height="4" fill="#d8c5bb"/>
<rect x="623" y="492.3" width="4" height="4" fill="#d8c5bb"/>
<rect x="627" y="492.3" width="4" height="4" fill="#d8c5bb"/>
<rect x="395" y="496.3" width="4" height="4" fill="#a0bca3"/>
<rect x="399" y="496.3" width="4" height="4" fill="#a0bca3"/>
<rect x="403" y="496.3" width="4" height="4" fill="#97b79e"/>
<rect x="407" y="496.3" width="4" height="4" fill="#91b49b"/>
<rect x="411" y="496.3" width="4" height="4" fill="#8eb29a"/>
<rect x="415" y="496.3" width="4" height="4" fill="#96b69d"/>
<rect x="419" y="496.3" width="4" height="4" fill="#9ebba2"/>
<rect x="423" y="496.3" width="4" height="4" fill="#a9bfa6"/>
<rect x="427" y="496.3" width="4" height="4" fill="#b3c2aa"/>
<rect x="431" y="496.3" width="4" height="4" fill="#bac3ab"/>
<rect x="435" y="496.3" width="4" height="4" fill="#bfc3ac"/>
<rect x="439" y="496.3" width="4" height="4" fill="#c4c2ac"/>
<rect x="443" y="496.3" width="4" height="4" fill="#c7c2ac"/>
<rect x="447" y="496.3" width="4" height="4" fill="#c7c2ac"/>
<rect x="451" y="496.3" width="4" height="4" fill="#c7c2ac"/>
<rect x="455" y="496.3" width="4" height="4" fill="#c7c2ac"/>
<rect x="459" y="496.3" width="4" height="4" fill="#c7c2ac"/>
<rect x="463" y="496.3" width="4" height="4" fill="#c7c2ac"/>
<rect x="467" y="496.3" width="4" height="4" fill="#c7c2ac"/>
<rect x="471" y="496.3" width="4" height="4" fill="#c7c2ac"/>
<rect x="475" y="496.3" width="4" height="4" fill="#c8c1ac"/>
<rect x="479" y="496.3" width="4" height="4" fill="#c9c1ac"/>
<rect x="483" y="496.3" width="4" height="4" fill="#c9c1ac"/>
<rect x="487" y="496.3" width="4" height="4" fill="#cac1ac"/>
<rect x="491" y="496.3" width="4" height="4" fill="#cbc0ac"/>
<rect x="495" y="496.3" width="4" height="4" fill="#ccc0ac"/>
<rect x="499" y="496.3" width="4" height="4" fill="#cdc0ac"/>
<rect x="503" y="496.3" width="4" height="4" fill="#cdbfac"/>
<rect x="507" y="496.3" width="4" height="4" fill="#cebfab"/>
<rect x="511" y="496.3" width="4" height="4" fill="#cebfab"/>
<rect x="515" y="496.3" width="4" height="4" fill="#cfbfab"/>
<rect x="519" y="496.3" width="4" height="4" fill="#cfbeab"/>
<rect x="523" y="496.3" width="4" height="4" fill="#d0beab"/>
<rect x="527" y="496.3" width="4" height="4" fill="#d0beab"/>
<rect x="531" y="496.3" width="4" height="4" fill="#d1beaa"/>
<rect x="535" y="496.3" width="4" height="4" fill="#d1bdaa"/>
<rect x="539" y="496.3" width="4" height="4" fill="#d2bdaa"/>
<rect x="543" y="496.3" width="4" height="4" fill="#d2bdaa"/>
<rect x="547" y="496.3" width="4" height="4" fill="#d2bdaa"/>
<rect x="551" y="496.3" width="4" height="4" fill="#d3bdaa"/>
<rect x="555" y="496.3" width="4" height="4" fill="#d3bcaa"/>
<rect x="559" y="496.3" width="4" height="4" fill="#d3bcaa"/>
<rect x="563" y="496.3" width="4" height="4" fill="#d4bca9"/>
<rect x="567" y="496.3" width="4" height="4" fill="#d5bba9"/>
<rect x="571" y="496.3" width="4" height="4" fill="#d5bba9"/>
<rect x="575" y="496.3" width="4" height="4" fill="#d5bba9"/>
<rect x="579" y="496.3" width="4" height="4" fill="#d5bba9"/>
<rect x="583" y="496.3" width="4" height="4" fill="#d6bbaa"/>
<rect x="587" y="496.3" width="4" height="4" fill="#d6bbaa"/>
<rect x="591" y="496.3" width="4" height="4" fill="#d6bbaa"/>
<rect x="595" y="496.3" width="4" height="4" fill="#d6bbaa"/>
<rect x="599" y="496.3" width="4" height="4" fill="#d6bcab"/>
<rect x="603" y="496.3" width="4" height="4" fill="#d6bdad"/>
<rect x="607" y="496.3" width="4" height="4" fill="#d6beaf"/>
<rect x="611" y="496.3" width="4" height="4" fill="#d6bfb2"/>
<rect x="615" y="496.3" width="4" height="4" fill="#d7c1b5"/>
<rect x="619" y="496.3" width="4" height="4" fill="#d8c5bb"/>
<rect x="623" y="496.3" width="4" height="4" fill="#d8c5bb"/>
<rect x="627" y="496.3" width="4" height="4" fill="#d8c5bb"/>
<rect x="395" y="500.3" width="4" height="4" fill="#b2c2aa"/>
<rect x="399" y="500.3" width="4" height="4" fill="#b2c2aa"/>
<rect x="403" y="500.3" width="4" height="4" fill="#a0bca3"/>
<rect x="407" y="500.3" width="4" height="4" fill="#81ab93"/>
<rect x="411" y="500.3" width="4" height="4" fill="#83ac94"/>
<rect x="415" y="500.3" width="4" height="4" fill="#90b49b"/>
<rect x="419" y="500.3" width="4" height="4" fill="#98b89f"/>
<rect x="423" y="500.3" width="4" height="4" fill="#a2bda4"/>
<rect x="427" y="500.3" width="4" height="4" fill="#afc1a9"/>
<rect x="431" y="500.3" width="4" height="4" fill="#b7c2ab"/>
<rect x="435" y="500.3" width="4" height="4" fill="#bdc3ac"/>
<rect x="439" y="500.3" width="4" height="4" fill="#c2c3ac"/>
<rect x="443" y="500.3" width="4" height="4" fill="#c6c2ac"/>
<rect x="447" y="500.3" width="4" height="4" fill="#c6c2ac"/>
<rect x="451" y="500.3" width="4" height="4" fill="#c6c2ac"/>
<rect x="455" y="500.3" width="4" height="4" fill="#c7c2ac"/>
<rect x="459" y="500.3" width="4" height="4" fill="#c7c2ac"/>
<rect x="463" y="500.3" width="4" height="4" fill="#c7c2ac"/>
<rect x="467" y="500.3" width="4" height="4" fill="#c7c2ac"/>
<rect x="471" y="500.3" width="4" height="4" fill="#c6c2ac"/>
<rect x="475" y="500.3" width="4" height="4" fill="#c7c2ac"/>
<rect x="479" y="500.3" width="4" height="4" fill="#c8c1ac"/>
<rect x="483" y="500.3" width="4" height="4" fill="#c9c1ac"/>
<rect x="487" y="500.3" width="4" height="4" fill="#cac1ac"/>
<rect x="491" y="500.3" width="4" height="4" fill="#cbc0ac"/>
<rect x="495" y="500.3" width="4" height="4" fill="#ccc0ac"/>
<rect x="499" y="500.3" width="4" height="4" fill="#ccc0ac"/>
<rect x="503" y="500.3" width="4" height="4" fill="#cdc0ac"/>
<rect x="507" y="500.3" width="4" height="4" fill="#cdbfac"/>
<rect x="511" y="500.3" width="4" height="4" fill="#cebfab"/>
<rect x="515" y="500.3" width="4" height="4" fill="#cfbfab"/>
<rect x="519" y="500.3" width="4" height="4" fill="#cfbeab"/>
<rect x="523" y="500.3" width="4" height="4" fill="#d0beab"/>
<rect x="527" y="500.3" width="4" height="4" fill="#d0beab"/>
<rect x="531" y="500.3" width="4" height="4" fill="#d1beaa"/>
<rect x="535" y="500.3" width="4" height="4" fill="#d1bdaa"/>
<rect x="539" y="500.3" width="4" height="4" fill="#d2bdaa"/>
<rect x="543" y="500.3" width="4" height="4" fill="#d2bdaa"/>
<rect x="547" y="500.3" width="4" height="4" fill="#d3bdaa"/>
<rect x="551" y="500.3" width="4" height="4" fill="#d3bcaa"/>
<rect x="555" y="500.3" width="4" height="4" fill="#d3bcaa"/>
<rect x="559" y="500.3" width="4" height="4" fill="#d4bca9"/>
<rect x="563" y="500.3" width="4" height="4" fill="#d4bca9"/>
<rect x="567" y="500.3" width="4" height="4" fill="#d5bba9"/>
<rect x="571" y="500.3" width="4" height="4" fill="#d5bba9"/>
<rect x="575" y="500.3" width="4" height="4" fill="#d5bba9"/>
<rect x="579" y="500.3" width="4" height="4" fill="#d5bba9"/>
<rect x="583" y="500.3" width="4" height="4" fill="#d6bbaa"/>
<rect x="587" y="500.3" width="4" height="4" fill="#d6bbaa"/>
<rect x="591" y="500.3" width="4" height="4" fill="#d6bbaa"/>
<rect x="595" y="500.3" width="4" height="4" fill="#d6bcab"/>
<rect x="599" y="500.3" width="4" height="4" fill="#d6bcad"/>
<rect x="603" y="500.3" width="4" height="4" fill="#d6bdaf"/>
<rect x="607" y="500.3" width="4" height="4" fill="#d6bfb1"/>
<rect x="611" y="500.3" width="4" height="4" fill="#d7c1b5"/>
<rect x="615" y="500.3" width="4" height="4" fill="#d7c3b8"/>
<rect x="619" y="500.3" width="4" height="4" fill="#d8c5bb"/>
<rect x="623" y="500.3" width="4" height="4" fill="#d8c5bb"/>
<rect x="627" y="500.3" width="4" height="4" fill="#d8c5bb"/>
<rect x="395" y="504.3" width="4" height="4" fill="#b2c2aa"/>
<rect x="399" y="504.3" width="4" height="4" fill="#b2c2aa"/>
<rect x="403" y="504.3" width="4" height="4" fill="#9bb9a0"/>
<rect x="407" y="504.3" width="4" height="4" fill="#72a28b"/>
<rect x="411" y="504.3" width="4" height="4" fill="#74a48d"/>
<rect x="415" y="504.3" width="4" height="4" fill="#85ad95"/>
<rect x="419" y="504.3" width="4" height="4" fill="#93b59c"/>
<rect x="423" y="504.3" width="4" height="4" fill="#9cbaa1"/>
<rect x="427" y="504.3" width="4" height="4" fill="#a9bfa7"/>
<rect x="431" y="504.3" width="4" height="4" fill="#b5c2aa"/>
<rect x="435" y="504.3" width="4" height="4" fill="#bbc3ac"/>
<rect x="439" y="504.3" width="4" height="4" fill="#c1c3ac"/>
<rect x="443" y="504.3" width="4" height="4" fill="#c5c2ac"/>
<rect x="447" y="504.3" width="4" height="4" fill="#c5c2ac"/>
<rect x="451" y="504.3" width="4" height="4" fill="#c6c2ac"/>
<rect x="455" y="504.3" width="4" height="4" fill="#c6c2ac"/>
<rect x="459" y="504.3" width="4" height="4" fill="#c6c2ac"/>
<rect x="463" y="504.3" width="4" height="4" fill="#c6c2ac"/>
<rect x="467" y="504.3" width="4" height="4" fill="#c6c2ac"/>
<rect x="471" y="504.3" width="4" height="4" fill="#c6c2ac"/>
<rect x="475" y="504.3" width="4" height="4" fill="#c7c2ac"/>
<rect x="479" y="504.3" width="4" height="4" fill="#c7c2ac"/>
<rect x="483" y="504.3" width="4" height="4" fill="#c8c1ac"/>
<rect x="487" y="504.3" width="4" height="4" fill="#c9c1ac"/>
<rect x="491" y="504.3" width="4" height="4" fill="#cac1ac"/>
<rect x="495" y="504.3" width="4" height="4" fill="#cbc0ac"/>
<rect x="499" y="504.3" width="4" height="4" fill="#ccc0ac"/>
<rect x="503" y="504.3" width="4" height="4" fill="#cdc0ac"/>
<rect x="507" y="504.3" width="4" height="4" fill="#cdbfac"/>
<rect x="511" y="504.3" width="4" height="4" fill="#cebfab"/>
<rect x="515" y="504.3" width="4" height="4" fill="#cebfab"/>
<rect x="519" y="504.3" width="4" height="4" fill="#cfbfab"/>
<rect x="523" y="504.3" width="4" height="4" fill="#cfbeab"/>
<rect x="527" y="504.3" width="4" height="4" fill="#d0beab"/>
<rect x="531" y="504.3" width="4" height="4" fill="#d0beab"/>
<rect x="535" y="504.3" width="4" height="4" fill="#d1bdaa"/>
<rect x="539" y="504.3" width="4" height="4" fill="#d2bdaa"/>
<rect x="543" y="504.3" width="4" height="4" fill="#d2bdaa"/>
<rect x="547" y="504.3" width="4" height="4" fill="#d2bdaa"/>
<rect x="551" y="504.3" width="4" height="4" fill="#d3bcaa"/>
<rect x="555" y="504.3" width="4" height="4" fill="#d3bcaa"/>
<rect x="559" y="504.3" width="4" height="4" fill="#d4bca9"/>
<rect x="563" y="504.3" width="4" height="4" fill="#d4bba9"/>
<rect x="567" y="504.3" width="4" height="4" fill="#d5bba9"/>
<rect x="571" y="504.3" width="4" height="4" fill="#d5bba9"/>
<rect x="575" y="504.3" width="4" height="4" fill="#d5bba9"/>
<rect x="579" y="504.3" width="4" height="4" fill="#d5bba9"/>
<rect x="583" y="504.3" width="4" height="4" fill="#d6bbaa"/>
<rect x="587" y="504.3" width="4" height="4" fill="#d6bbaa"/>
<rect x="591" y="504.3" width="4" height="4" fill="#d6bbaa"/>
<rect x="595" y="504.3" width="4" height="4" fill="#d6bcac"/>
<rect x="599" y="504.3" width="4" height="4" fill="#d6bdae"/>
<rect x="603" y="504.3" width="4" height="4" fill="#d6beb0"/>
<rect x="607" y="504.3" width="4" height="4" fill="#d7c0b3"/>
<rect x="611" y="504.3" width="4" height="4" fill="#d7c2b7"/>
<rect x="615" y="504.3" width="4" height="4" fill="#d8c5ba"/>
<rect x="619" y="504.3" width="4" height="4" fill="#d8c5bb"/>
<rect x="623" y="504.3" width="4" height="4" fill="#d8c5bb"/>
<rect x="627" y="504.3" width="4" height="4" fill="#d8c5bb"/>
<rect x="395" y="508.3" width="4" height="4" fill="#b2c2aa"/>
<rect x="399" y="508.3" width="4" height="4" fill="#91b49b"/>
<rect x="403" y="508.3" width="4" height="4" fill="#87af96"/>
<rect x="407" y="508.3" width="4" height="4" fill="#6d9f87"/>
<rect x="411" y="508.3" width="4" height="4" fill="#6c9e86"/>
<rect x="415" y="508.3" width="4" height="4" fill="#75a48d"/>
<rect x="419" y="508.3" width="4" height="4" fill="#86ae96"/>
<rect x="423" y="508.3" width="4" height="4" fill="#97b79e"/>
<rect x="427" y="508.3" width="4" height="4" fill="#a5bea5"/>
<rect x="431" y="508.3" width="4" height="4" fill="#b3c2aa"/>
<rect x="435" y="508.3" width="4" height="4" fill="#bac3ab"/>
<rect x="439" y="508.3" width="4" height="4" fill="#c0c3ac"/>
<rect x="443" y="508.3" width="4" height="4" fill="#c3c2ac"/>
<rect x="447" y="508.3" width="4" height="4" fill="#c4c2ac"/>
<rect x="451" y="508.3" width="4" height="4" fill="#c4c2ac"/>
<rect x="455" y="508.3" width="4" height="4" fill="#c5c2ac"/>
<rect x="459" y="508.3" width="4" height="4" fill="#c5c2ac"/>
<rect x="463" y="508.3" width="4" height="4" fill="#c5c2ac"/>
<rect x="467" y="508.3" width="4" height="4" fill="#c5c2ac"/>
<rect x="471" y="508.3" width="4" height="4" fill="#c5c2ac"/>
<rect x="475" y="508.3" width="4" height="4" fill="#c6c2ac"/>
<rect x="479" y="508.3" width="4" height="4" fill="#c7c2ac"/>
<rect x="483" y="508.3" width="4" height="4" fill="#c8c1ac"/>
<rect x="487" y="508.3" width="4" height="4" fill="#c9c1ac"/>
<rect x="491" y="508.3" width="4" height="4" fill="#cac1ac"/>
<rect x="495" y="508.3" width="4" height="4" fill="#cbc0ac"/>
<rect x="499" y="508.3" width="4" height="4" fill="#cbc0ac"/>
<rect x="503" y="508.3" width="4" height="4" fill="#ccc0ac"/>
<rect x="507" y="508.3" width="4" height="4" fill="#cdc0ac"/>
<rect x="511" y="508.3" width="4" height="4" fill="#cdbfac"/>
<rect x="515" y="508.3" width="4" height="4" fill="#cebfab"/>
<rect x="519" y="508.3" width="4" height="4" fill="#cebfab"/>
<rect x="523" y="508.3" width="4" height="4" fill="#cfbfab"/>
<rect x="527" y="508.3" width="4" height="4" fill="#d0beab"/>
<rect x="531" y="508.3" width="4" height="4" fill="#d0beab"/>
<rect x="535" y="508.3" width="4" height="4" fill="#d1beaa"/>
<rect x="539" y="508.3" width="4" height="4" fill="#d1bdaa"/>
<rect x="543" y="508.3" width="4" height="4" fill="#d2bdaa"/>
<rect x="547" y="508.3" width="4" height="4" fill="#d2bdaa"/>
<rect x="551" y="508.3" width="4" height="4" fill="#d3bdaa"/>
<rect x="555" y="508.3" width="4" height="4" fill="#d3bcaa"/>
<rect x="559" y="508.3" width="4" height="4" fill="#d4bca9"/>
<rect x="563" y="508.3" width="4" height="4" fill="#d4bba9"/>
<rect x="567" y="508.3" width="4" height="4" fill="#d5bba9"/>
<rect x="571" y="508.3" width="4" height="4" fill="#d5bba9"/>
<rect x="575" y="508.3" width="4" height="4" fill="#d5bba9"/>
<rect x="579" y="508.3" width="4" height="4" fill="#d5bba9"/>
<rect x="583" y="508.3" width="4" height="4" fill="#d6bbaa"/>
<rect x="587" y="508.3" width="4" height="4" fill="#d6bbaa"/>
<rect x="591" y="508.3" width="4" height="4" fill="#d6bbaa"/>
<rect x="595" y="508.3" width="4" height="4" fill="#d6bcac"/>
<rect x="599" y="508.3" width="4" height="4" fill="#d6bdae"/>
<rect x="603" y="508.3" width="4" height="4" fill="#d6bfb1"/>
<rect x="607" y="508.3" width="4" height="4" fill="#d7c1b5"/>
<rect x="611" y="508.3" width="4" height="4" fill="#d8c3b9"/>
<rect x="615" y="508.3" width="4" height="4" fill="#d9c8bf"/>
<rect x="619" y="508.3" width="4" height="4" fill="#d8c5bb"/>
<rect x="623" y="508.3" width="4" height="4" fill="#d8c5bb"/>
<rect x="627" y="508.3" width="4" height="4" fill="#d8c5bb"/>
<rect x="395" y="512.3" width="4" height="4" fill="#91b49b"/>
<rect x="399" y="512.3" width="4" height="4" fill="#91b49b"/>
<rect x="403" y="512.3" width="4" height="4" fill="#84ad95"/>
<rect x="407" y="512.3" width="4" height="4" fill="#6b9d85"/>
<rect x="411" y="512.3" width="4" height="4" fill="#679a82"/>
<rect x="415" y="512.3" width="4" height="4" fill="#71a18a"/>
<rect x="419" y="512.3" width="4" height="4" fill="#80aa93"/>
<rect x="423" y="512.3" width="4" height="4" fill="#95b69d"/>
<rect x="427" y="512.3" width="4" height="4" fill="#a4bda5"/>
<rect x="431" y="512.3" width="4" height="4" fill="#b1c2aa"/>
<rect x="435" y="512.3" width="4" height="4" fill="#b9c3ab"/>
<rect x="439" y="512.3" width="4" height="4" fill="#c0c3ac"/>
<rect x="443" y="512.3" width="4" height="4" fill="#c2c3ac"/>
<rect x="447" y="512.3" width="4" height="4" fill="#c3c2ac"/>
<rect x="451" y="512.3" width="4" height="4" fill="#c3c2ac"/>
<rect x="455" y="512.3" width="4" height="4" fill="#c3c2ac"/>
<rect x="459" y="512.3" width="4" height="4" fill="#c4c2ac"/>
<rect x="463" y="512.3" width="4" height="4" fill="#c4c2ac"/>
<rect x="467" y="512.3" width="4" height="4" fill="#c4c2ac"/>
<rect x="471" y="512.3" width="4" height="4" fill="#c4c2ac"/>
<rect x="475" y="512.3" width="4" height="4" fill="#c5c2ac"/>
<rect x="479" y="512.3" width="4" height="4" fill="#c6c2ac"/>
<rect x="483" y="512.3" width="4" height="4" fill="#c7c2ac"/>
<rect x="487" y="512.3" width="4" height="4" fill="#c8c1ac"/>
<rect x="491" y="512.3" width="4" height="4" fill="#c9c1ac"/>
<rect x="495" y="512.3" width="4" height="4" fill="#cac1ac"/>
<rect x="499" y="512.3" width="4" height="4" fill="#cbc0ac"/>
<rect x="503" y="512.3" width="4" height="4" fill="#ccc0ac"/>
<rect x="507" y="512.3" width="4" height="4" fill="#ccc0ac"/>
<rect x="511" y="512.3" width="4" height="4" fill="#cdc0ac"/>
<rect x="515" y="512.3" width="4" height="4" fill="#cdbfac"/>
<rect x="519" y="512.3" width="4" height="4" fill="#cebfab"/>
<rect x="523" y="512.3" width="4" height="4" fill="#cfbfab"/>
<rect x="527" y="512.3" width="4" height="4" fill="#cfbeab"/>
<rect x="531" y="512.3" width="4" height="4" fill="#d0beab"/>
<rect x="535" y="512.3" width="4" height="4" fill="#d0beab"/>
<rect x="539" y="512.3" width="4" height="4" fill="#d1beaa"/>
<rect x="543" y="512.3" width="4" height="4" fill="#d1bdaa"/>
<rect x="547" y="512.3" width="4" height="4" fill="#d2bdaa"/>
<rect x="551" y="512.3" width="4" height="4" fill="#d3bdaa"/>
<rect x="555" y="512.3" width="4" height="4" fill="#d3bcaa"/>
<rect x="559" y="512.3" width="4" height="4" fill="#d4bca9"/>
<rect x="563" y="512.3" width="4" height="4" fill="#d4bba9"/>
<rect x="567" y="512.3" width="4" height="4" fill="#d5bba9"/>
<rect x="571" y="512.3" width="4" height="4" fill="#d5bba9"/>
<rect x="575" y="512.3" width="4" height="4" fill="#d5bba9"/>
<rect x="579" y="512.3" width="4" height="4" fill="#d6bbaa"/>
<rect x="583" y="512.3" width="4" height="4" fill="#d6bbaa"/>
<rect x="587" y="512.3" width="4" height="4" fill="#d6bbaa"/>
<rect x="591" y="512.3" width="4" height="4" fill="#d6bbab"/>
<rect x="595" y="512.3" width="4" height="4" fill="#d6bcad"/>
<rect x="599" y="512.3" width="4" height="4" fill="#d6bdaf"/>
<rect x="603" y="512.3" width="4" height="4" fill="#d6bfb1"/>
<rect x="607" y="512.3" width="4" height="4" fill="#d7c2b6"/>
<rect x="611" y="512.3" width="4" height="4" fill="#d8c4ba"/>
<rect x="615" y="512.3" width="4" height="4" fill="#daccc4"/>
<rect x="619" y="512.3" width="4" height="4" fill="#d8c5bb"/>
<rect x="623" y="512.3" width="4" height="4" fill="#dcd4cf"/>
<rect x="627" y="512.3" width="4" height="4" fill="#dcd4cf"/>
<rect x="395" y="516.3" width="4" height="4" fill="#88af97"/>
<rect x="399" y="516.3" width="4" height="4" fill="#88af97"/>
<rect x="403" y="516.3" width="4" height="4" fill="#81ab93"/>
<rect x="407" y="516.3" width="4" height="4" fill="#699c84"/>
<rect x="411" y="516.3" width="4" height="4" fill="#62977e"/>
<rect x="415" y="516.3" width="4" height="4" fill="#6e9f88"/>
<rect x="419" y="516.3" width="4" height="4" fill="#7ea992"/>
<rect x="423" y="516.3" width="4" height="4" fill="#92b49b"/>
<rect x="427" y="516.3" width="4" height="4" fill="#a0bca3"/>
<rect x="431" y="516.3" width="4" height="4" fill="#b0c1a9"/>
<rect x="435" y="516.3" width="4" height="4" fill="#b8c3ab"/>
<rect x="439" y="516.3" width="4" height="4" fill="#bfc3ac"/>
<rect x="443" y="516.3" width="4" height="4" fill="#c1c3ac"/>
<rect x="447" y="516.3" width="4" height="4" fill="#c2c2ac"/>
<rect x="451" y="516.3" width="4" height="4" fill="#c2c2ac"/>
<rect x="455" y="516.3" width="4" height="4" fill="#c2c2ac"/>
<rect x="459" y="516.3" width="4" height="4" fill="#c2c2ac"/>
<rect x="463" y="516.3" width="4" height="4" fill="#c2c2ac"/>
<rect x="467" y="516.3" width="4" height="4" fill="#c2c2ac"/>
<rect x="471" y="516.3" width="4" height="4" fill="#c3c2ac"/>
<rect x="475" y="516.3" width="4" height="4" fill="#c4c2ac"/>
<rect x="479" y="516.3" width="4" height="4" fill="#c6c2ac"/>
<rect x="483" y="516.3" width="4" height="4" fill="#c7c2ac"/>
<rect x="487" y="516.3" width="4" height="4" fill="#c8c1ac"/>
<rect x="491" y="516.3" width="4" height="4" fill="#c9c1ac"/>
<rect x="495" y="516.3" width="4" height="4" fill="#c9c1ac"/>
<rect x="499" y="516.3" width="4" height="4" fill="#cac1ac"/>
<rect x="503" y="516.3" width="4" height="4" fill="#cbc0ac"/>
<rect x="507" y="516.3" width="4" height="4" fill="#ccc0ac"/>
<rect x="511" y="516.3" width="4" height="4" fill="#cdc0ac"/>
<rect x="515" y="516.3" width="4" height="4" fill="#cdbfac"/>
<rect x="519" y="516.3" width="4" height="4" fill="#cebfab"/>
<rect x="523" y="516.3" width="4" height="4" fill="#cebfab"/>
<rect x="527" y="516.3" width="4" height="4" fill="#cfbfab"/>
<rect x="531" y="516.3" width="4" height="4" fill="#cfbeab"/>
<rect x="535" y="516.3" width="4" height="4" fill="#d0beab"/>
<rect x="539" y="516.3" width="4" height="4" fill="#d0beab"/>
<rect x="543" y="516.3" width="4" height="4" fill="#d1bdaa"/>
<rect x="547" y="516.3" width="4" height="4" fill="#d2bdaa"/>
<rect x="551" y="516.3" width="4" height="4" fill="#d3bdaa"/>
<rect x="555" y="516.3" width="4" height="4" fill="#d3bcaa"/>
<rect x="559" y="516.3" width="4" height="4" fill="#d4bca9"/>
<rect x="563" y="516.3" width="4" height="4" fill="#d5bba9"/>
<rect x="567" y="516.3" width="4" height="4" fill="#d5bba9"/>
<rect x="571" y="516.3" width="4" height="4" fill="#d5bba9"/>
<rect x="575" y="516.3" width="4" height="4" fill="#d5bba9"/>
<rect x="579" y="516.3" width="4" height="4" fill="#d6bbaa"/>
<rect x="583" y="516.3" width="4" height="4" fill="#d6bbaa"/>
<rect x="587" y="516.3" width="4" height="4" fill="#d6bbaa"/>
<rect x="591" y="516.3" width="4" height="4" fill="#d6bcab"/>
<rect x="595" y="516.3" width="4" height="4" fill="#d6bdad"/>
<rect x="599" y="516.3" width="4" height="4" fill="#d6beaf"/>
<rect x="603" y="516.3" width="4" height="4" fill="#d6bfb2"/>
<rect x="607" y="516.3" width="4" height="4" fill="#d7c2b6"/>
<rect x="611" y="516.3" width="4" height="4" fill="#d8c5bb"/>
<rect x="615" y="516.3" width="4" height="4" fill="#dbcfc9"/>
<rect x="619" y="516.3" width="4" height="4" fill="#dcd4cf"/>
<rect x="623" y="516.3" width="4" height="4" fill="#dcd4cf"/>
<rect x="627" y="516.3" width="4" height="4" fill="#dcd4cf"/>
<rect x="395" y="520.3" width="4" height="4" fill="#88af97"/>
<rect x="399" y="520.3" width="4" height="4" fill="#88af97"/>
<rect x="403" y="520.3" width="4" height="4" fill="#88af97"/>
<rect x="407" y="520.3" width="4" height="4" fill="#5a9178"/>
<rect x="411" y="520.3" width="4" height="4" fill="#5a9178"/>
<rect x="415" y="520.3" width="4" height="4" fill="#689b83"/>
<rect x="419" y="520.3" width="4" height="4" fill="#95b69d"/>
<rect x="423" y="520.3" width="4" height="4" fill="#89b097"/>
<rect x="427" y="520.3" width="4" height="4" fill="#9dbba2"/>
<rect x="431" y="520.3" width="4" height="4" fill="#afc1a9"/>
<rect x="435" y="520.3" width="4" height="4" fill="#b8c2ab"/>
<rect x="439" y="520.3" width="4" height="4" fill="#bac3ab"/>
<rect x="443" y="520.3" width="4" height="4" fill="#bbc3ac"/>
<rect x="447" y="520.3" width="4" height="4" fill="#bcc3ac"/>
<rect x="451" y="520.3" width="4" height="4" fill="#bec3ac"/>
<rect x="455" y="520.3" width="4" height="4" fill="#bfc3ac"/>
<rect x="459" y="520.3" width="4" height="4" fill="#bfc3ac"/>
<rect x="463" y="520.3" width="4" height="4" fill="#c0c3ac"/>
<rect x="467" y="520.3" width="4" height="4" fill="#c1c3ac"/>
<rect x="471" y="520.3" width="4" height="4" fill="#c2c2ac"/>
<rect x="475" y="520.3" width="4" height="4" fill="#c4c2ac"/>
<rect x="479" y="520.3" width="4" height="4" fill="#c5c2ac"/>
<rect x="483" y="520.3" width="4" height="4" fill="#c6c2ac"/>
<rect x="487" y="520.3" width="4" height="4" fill="#c7c2ac"/>
<rect x="491" y="520.3" width="4" height="4" fill="#c8c1ac"/>
<rect x="495" y="520.3" width="4" height="4" fill="#c9c1ac"/>
<rect x="499" y="520.3" width="4" height="4" fill="#cac1ac"/>
<rect x="503" y="520.3" width="4" height="4" fill="#cbc0ac"/>
<rect x="507" y="520.3" width="4" height="4" fill="#ccc0ac"/>
<rect x="511" y="520.3" width="4" height="4" fill="#cdc0ac"/>
<rect x="515" y="520.3" width="4" height="4" fill="#cdbfac"/>
<rect x="519" y="520.3" width="4" height="4" fill="#cebfab"/>
<rect x="523" y="520.3" width="4" height="4" fill="#cfbfab"/>
<rect x="527" y="520.3" width="4" height="4" fill="#cfbeab"/>
<rect x="531" y="520.3" width="4" height="4" fill="#d0beab"/>
<rect x="535" y="520.3" width="4" height="4" fill="#d1beaa"/>
<rect x="539" y="520.3" width="4" height="4" fill="#d1bdaa"/>
<rect x="543" y="520.3" width="4" height="4" fill="#d2bdaa"/>
<rect x="547" y="520.3" width="4" height="4" fill="#d2bdaa"/>
<rect x="551" y="520.3" width="4" height="4" fill="#d3bcaa"/>
<rect x="555" y="520.3" width="4" height="4" fill="#d3bcaa"/>
<rect x="559" y="520.3" width="4" height="4" fill="#d4bca9"/>
<rect x="563" y="520.3" width="4" height="4" fill="#d5bba9"/>
<rect x="567" y="520.3" width="4" height="4" fill="#d5bba9"/>
<rect x="571" y="520.3" width="4" height="4" fill="#d5bba9"/>
<rect x="575" y="520.3" width="4" height="4" fill="#d5bba9"/>
<rect x="579" y="520.3" width="4" height="4" fill="#d6bbaa"/>
<rect x="583" y="520.3" width="4" height="4" fill="#d6bbaa"/>
<rect x="587" y="520.3" width="4" height="4" fill="#d6bbaa"/>
<rect x="591" y="520.3" width="4" height="4" fill="#d6bcac"/>
<rect x="595" y="520.3" width="4" height="4" fill="#d6bdae"/>
<rect x="599" y="520.3" width="4" height="4" fill="#d6beb0"/>
<rect x="603" y="520.3" width="4" height="4" fill="#d7c0b3"/>
<rect x="607" y="520.3" width="4" height="4" fill="#d7c2b7"/>
<rect x="611" y="520.3" width="4" height="4" fill="#d8c5bb"/>
<rect x="615" y="520.3" width="4" height="4" fill="#dcd4cf"/>
<rect x="619" y="520.3" width="4" height="4" fill="#dcd4cf"/>
<rect x="623" y="520.3" width="4" height="4" fill="#dcd4cf"/>
<rect x="627" y="520.3" width="4" height="4" fill="#dcd4cf"/>
<rect x="395" y="524.3" width="4" height="4" fill="#88af97"/>
<rect x="399" y="524.3" width="4" height="4" fill="#88af97"/>
<rect x="403" y="524.3" width="4" height="4" fill="#88af97"/>
<rect x="407" y="524.3" width="4" height="4" fill="#5a9178"/>
<rect x="411" y="524.3" width="4" height="4" fill="#689b83"/>
<rect x="415" y="524.3" width="4" height="4" fill="#689b83"/>
<rect x="419" y="524.3" width="4" height="4" fill="#7ba891"/>
<rect x="423" y="524.3" width="4" height="4" fill="#7ba891"/>
<rect x="427" y="524.3" width="4" height="4" fill="#b2c2aa"/>
<rect x="431" y="524.3" width="4" height="4" fill="#b2c2aa"/>
<rect x="435" y="524.3" width="4" height="4" fill="#b2c2aa"/>
<rect x="439" y="524.3" width="4" height="4" fill="#bdc3ac"/>
<rect x="443" y="524.3" width="4" height="4" fill="#c1c3ac"/>
<rect x="447" y="524.3" width="4" height="4" fill="#c1c3ac"/>
<rect x="451" y="524.3" width="4" height="4" fill="#c1c3ac"/>
<rect x="455" y="524.3" width="4" height="4" fill="#c1c3ac"/>
<rect x="459" y="524.3" width="4" height="4" fill="#c2c2ac"/>
<rect x="463" y="524.3" width="4" height="4" fill="#c2c2ac"/>
<rect x="467" y="524.3" width="4" height="4" fill="#c2c2ac"/>
<rect x="471" y="524.3" width="4" height="4" fill="#c2c2ac"/>
<rect x="475" y="524.3" width="4" height="4" fill="#c2c2ac"/>
<rect x="479" y="524.3" width="4" height="4" fill="#c2c2ac"/>
<rect x="483" y="524.3" width="4" height="4" fill="#cac1ac"/>
<rect x="487" y="524.3" width="4" height="4" fill="#cac1ac"/>
<rect x="491" y="524.3" width="4" height="4" fill="#cac1ac"/>
<rect x="495" y="524.3" width="4" height="4" fill="#cac1ac"/>
<rect x="499" y="524.3" width="4" height="4" fill="#cac1ac"/>
<rect x="503" y="524.3" width="4" height="4" fill="#cac1ac"/>
<rect x="507" y="524.3" width="4" height="4" fill="#cac1ac"/>
<rect x="511" y="524.3" width="4" height="4" fill="#cac1ac"/>
<rect x="515" y="524.3" width="4" height="4" fill="#cac1ac"/>
<rect x="519" y="524.3" width="4" height="4" fill="#cac1ac"/>
<rect x="523" y="524.3" width="4" height="4" fill="#d1beaa"/>
<rect x="527" y="524.3" width="4" height="4" fill="#d1beaa"/>
<rect x="531" y="524.3" width="4" height="4" fill="#d1beaa"/>
<rect x="535" y="524.3" width="4" height="4" fill="#d1beaa"/>
<rect x="539" y="524.3" width="4" height="4" fill="#d1beaa"/>
<rect x="543" y="524.3" width="4" height="4" fill="#d1beaa"/>
<rect x="547" y="524.3" width="4" height="4" fill="#d3bcaa"/>
<rect x="551" y="524.3" width="4" height="4" fill="#d3bcaa"/>
<rect x="555" y="524.3" width="4" height="4" fill="#d3bcaa"/>
<rect x="559" y="524.3" width="4" height="4" fill="#d3bcaa"/>
<rect x="563" y="524.3" width="4" height="4" fill="#d3bcaa"/>
<rect x="567" y="524.3" width="4" height="4" fill="#d3bcaa"/>
<rect x="571" y="524.3" width="4" height="4" fill="#d3bcaa"/>
<rect x="575" y="524.3" width="4" height="4" fill="#d3bcaa"/>
<rect x="579" y="524.3" width="4" height="4" fill="#d3bcaa"/>
<rect x="583" y="524.3" width="4" height="4" fill="#d6bbaa"/>
<rect x="587" y="524.3" width="4" height="4" fill="#d8c5bb"/>
<rect x="591" y="524.3" width="4" height="4" fill="#d8c5bb"/>
<rect x="595" y="524.3" width="4" height="4" fill="#d8c5bb"/>
<rect x="599" y="524.3" width="4" height="4" fill="#d8c5bb"/>
<rect x="603" y="524.3" width="4" height="4" fill="#d8c5bb"/>
<rect x="607" y="524.3" width="4" height="4" fill="#d8c5bb"/>
<rect x="611" y="524.3" width="4" height="4" fill="#d8c5bb"/>
<rect x="615" y="524.3" width="4" height="4" fill="#dcd4cf"/>
<rect x="619" y="524.3" width="4" height="4" fill="#dcd4cf"/>
<rect x="623" y="524.3" width="4" height="4" fill="#dcd4cf"/>
<rect x="627" y="524.3" width="4" height="4" fill="#dcd4cf"/>
<rect x="395" y="528.3" width="4" height="4" fill="#88af97"/>
<rect x="399" y="528.3" width="4" height="4" fill="#88af97"/>
<rect x="403" y="528.3" width="4" height="4" fill="#88af97"/>
<rect x="407" y="528.3" width="4" height="4" fill="#5a9178"/>
<rect x="411" y="528.3" width="4" height="4" fill="#689b83"/>
<rect x="415" y="528.3" width="4" height="4" fill="#689b83"/>
<rect x="419" y="528.3" width="4" height="4" fill="#7ba891"/>
<rect x="423" y="528.3" width="4" height="4" fill="#7ba891"/>
<rect x="427" y="528.3" width="4" height="4" fill="#b2c2aa"/>
<rect x="431" y="528.3" width="4" height="4" fill="#b2c2aa"/>
<rect x="435" y="528.3" width="4" height="4" fill="#b2c2aa"/>
<rect x="439" y="528.3" width="4" height="4" fill="#bdc3ac"/>
<rect x="443" y="528.3" width="4" height="4" fill="#c1c3ac"/>
<rect x="447" y="528.3" width="4" height="4" fill="#c1c3ac"/>
<rect x="451" y="528.3" width="4" height="4" fill="#c1c3ac"/>
<rect x="455" y="528.3" width="4" height="4" fill="#c1c3ac"/>
<rect x="459" y="528.3" width="4" height="4" fill="#c2c2ac"/>
<rect x="463" y="528.3" width="4" height="4" fill="#c2c2ac"/>
<rect x="467" y="528.3" width="4" height="4" fill="#c2c2ac"/>
<rect x="471" y="528.3" width="4" height="4" fill="#c2c2ac"/>
<rect x="475" y="528.3" width="4" height="4" fill="#c2c2ac"/>
<rect x="479" y="528.3" width="4" height="4" fill="#c2c2ac"/>
<rect x="483" y="528.3" width="4" height="4" fill="#cac1ac"/>
<rect x="487" y="528.3" width="4" height="4" fill="#cac1ac"/>
<rect x="491" y="528.3" width="4" height="4" fill="#cac1ac"/>
<rect x="495" y="528.3" width="4" height="4" fill="#cac1ac"/>
<rect x="499" y="528.3" width="4" height="4" fill="#cac1ac"/>
<rect x="503" y="528.3" width="4" height="4" fill="#cac1ac"/>
<rect x="507" y="528.3" width="4" height="4" fill="#cac1ac"/>
<rect x="511" y="528.3" width="4" height="4" fill="#cac1ac"/>
<rect x="515" y="528.3" width="4" height="4" fill="#cac1ac"/>
<rect x="519" y="528.3" width="4" height="4" fill="#cac1ac"/>
<rect x="523" y="528.3" width="4" height="4" fill="#d1beaa"/>
<rect x="527" y="528.3" width="4" height="4" fill="#d1beaa"/>
<rect x="531" y="528.3" width="4" height="4" fill="#d1beaa"/>
<rect x="535" y="528.3" width="4" height="4" fill="#d1beaa"/>
<rect x="539" y="528.3" width="4" height="4" fill="#d1beaa"/>
<rect x="543" y="528.3" width="4" height="4" fill="#d1beaa"/>
<rect x="547" y="528.3" width="4" height="4" fill="#d3bcaa"/>
<rect x="551" y="528.3" width="4" height="4" fill="#d3bcaa"/>
<rect x="555" y="528.3" width="4" height="4" fill="#d3bcaa"/>
<rect x="559" y="528.3" width="4" height="4" fill="#d3bcaa"/>
<rect x="563" y="528.3" width="4" height="4" fill="#d3bcaa"/>
<rect x="567" y="528.3" width="4" height="4" fill="#d3bcaa"/>
<rect x="571" y="528.3" width="4" height="4" fill="#d3bcaa"/>
<rect x="575" y="528.3" width="4" height="4" fill="#d3bcaa"/>
<rect x="579" y="528.3" width="4" height="4" fill="#d3bcaa"/>
<rect x="583" y="528.3" width="4" height="4" fill="#d8c5bb"/>
<rect x="587" y="528.3" width="4" height="4" fill="#d8c5bb"/>
<rect x="591" y="528.3" width="4" height="4" fill="#d8c5bb"/>
<rect x="595" y="528.3" width="4" height="4" fill="#d8c5bb"/>
<rect x="599" y="528.3" width="4" height="4" fill="#d8c5bb"/>
<rect x="603" y="528.3" width="4" height="4" fill="#d8c5bb"/>
<rect x="607" y="528.3" width="4" height="4" fill="#d8c5bb"/>
<rect x="611" y="528.3" width="4" height="4" fill="#d8c5bb"/>
<rect x="615" y="528.3" width="4" height="4" fill="#d8c5bb"/>
<rect x="619" y="528.3" width="4" height="4" fill="#dcd4cf"/>
<rect x="623" y="528.3" width="4" height="4" fill="#dcd4cf"/>
<rect x="627" y="528.3" width="4" height="4" fill="#dcd4cf"/>
</g>
<path d="M411.20,304.30 C411.22,306.08 411.20,311.38 411.30,315 C411.40,318.62 411.72,324.17 411.80,326 M412.60,342 C412.72,342.58 413.02,344.45 413.30,345.50 C413.58,346.55 413.88,348.22 414.30,348.30 C414.72,348.38 415.27,347.22 415.80,346 C416.33,344.78 416.80,342.83 417.50,341 C418.20,339.17 418.58,337.97 420,335 C421.42,332.03 423.72,327.17 426,323.20 C428.28,319.23 431.37,314.35 433.70,311.20 C436.03,308.05 438.95,305.45 440,304.30 M620.30,352.30 C617.88,351.40 610.52,348.70 605.80,346.90 C601.08,345.10 596.60,343.08 592,341.50 C587.40,339.92 583.05,338.30 578.20,337.40 C573.35,336.50 565.45,336.32 562.90,336.10 M543,335.80 C540.83,335.42 538.13,335.40 530,333.50 C521.87,331.60 500.17,325.92 494.20,324.40 M475.50,319.10 C472.43,318.58 462.52,316.07 457.10,316 C451.68,315.93 446.60,317.43 443,318.70 C439.40,319.97 437.42,322 435.50,323.60 C433.58,325.20 432.17,327.52 431.50,328.30 M421.50,347 C421.22,348.17 420.33,351.50 419.80,354 C419.27,356.50 418.83,359 418.30,362 C417.77,365 417.20,368.67 416.60,372 C416,375.33 415.27,379 414.70,382 C414.13,385 413.68,387.83 413.20,390 C412.72,392.17 412.03,394.17 411.80,395 M404.6,403.0 L403.1,404.5 M620.30,387.80 C616.87,388.38 605.43,390.25 599.70,391.30 C593.97,392.35 590.25,393.58 585.90,394.10 C581.55,394.62 577.68,394.73 573.60,394.40 C569.52,394.07 563.43,392.48 561.40,392.10 M543.80,381.30 C542.38,380.98 539.27,379.75 535.30,379.40 C531.33,379.05 524.90,379.25 520,379.20 C515.10,379.15 510.20,379.72 505.90,379.10 C501.60,378.48 496.15,376.10 494.20,375.50 M475.50,369 C472.78,367.52 463.62,362.43 459.20,360.10 C454.78,357.77 451.92,356.03 449,355 C446.08,353.97 444.13,353.77 441.70,353.90 C439.27,354.03 436.18,355.08 434.40,355.80 C432.62,356.52 431.57,357.80 431,358.20 M421.40,377 C421.13,378.33 420.30,382.50 419.80,385 C419.30,387.50 418.87,389.50 418.40,392 C417.93,394.50 417.48,397 417,400 C416.52,403 415.95,407 415.50,410 C415.05,413 414.60,415.75 414.30,418 C414,420.25 413.83,421.92 413.70,423.50 C413.57,425.08 413.53,426.83 413.50,427.50 M413.80,445 C413.77,445.23 414.05,444.22 413.60,446.40 C413.15,448.58 412.03,453.33 411.10,458.10 C410.17,462.87 408.93,471.18 408,475 C407.07,478.82 406.32,479.17 405.50,481 C404.68,482.83 403.50,485.17 403.10,486 M403.1,507.0 L404.5,505.0 M410.30,487.50 C410.58,486.58 411.42,483.53 412,482 C412.58,480.47 413.13,478.88 413.80,478.30 C414.47,477.72 415.25,478.12 416,478.50 C416.75,478.88 417.38,479.43 418.30,480.60 C419.22,481.77 420.35,483.58 421.50,485.50 C422.65,487.42 424.03,489.93 425.20,492.10 C426.37,494.27 427.55,496.40 428.50,498.50 C429.45,500.60 430.23,502.87 430.90,504.70 C431.57,506.53 432.12,507.97 432.50,509.50 C432.88,511.03 433,512.48 433.20,513.90 C433.40,515.32 433.60,516.55 433.70,518 C433.80,519.45 433.78,521.83 433.80,522.60 M613.30,522.60 C613.35,521.67 613.35,518.65 613.60,517 C613.85,515.35 614.23,514.28 614.80,512.70 C615.37,511.12 616.08,509.23 617,507.50 C617.92,505.77 619.75,503.17 620.30,502.30 M495.20,304.30 C496.83,304.63 501.70,305.62 505,306.30 C508.30,306.98 510.83,307.60 515,308.40 C519.17,309.20 525.42,310.18 530,311.10 C534.58,312.02 540.42,313.43 542.50,313.90 M559.80,316.90 C564.08,316.97 578.47,317.03 585.50,317.30 C592.53,317.57 596.20,318.03 602,318.50 C607.80,318.97 617.25,319.83 620.30,320.10 M412.90,304.30 C412.90,306.25 412.88,312.80 412.90,316 C412.92,319.20 412.98,322.25 413,323.50 M416.20,339 C416.43,338.67 417.15,338 417.60,337 C418.05,336 417.85,335.42 418.90,333 C419.95,330.58 422.02,326.13 423.90,322.50 C425.78,318.87 428.27,314.23 430.20,311.20 C432.13,308.17 434.62,305.45 435.50,304.30 M416.20,304.30 C416.23,305.25 416.23,308.47 416.40,310 C416.57,311.53 416.72,312.60 417.20,313.50 C417.68,314.40 418.58,315.28 419.30,315.40 C420.02,315.52 420.85,314.78 421.50,314.20 C422.15,313.62 422.22,313.55 423.20,311.90 C424.18,310.25 426.70,305.57 427.40,304.30 M417.60,304.30 C417.72,304.62 417.90,305.65 418.30,306.20 C418.70,306.75 419.42,307.55 420,307.60 C420.58,307.65 421.27,307.05 421.80,306.50 C422.33,305.95 422.97,304.67 423.20,304.30" fill="none" stroke="#000" stroke-width="1.1" stroke-linejoin="round"/>
<path d="M620.30,333.60 C617.97,332.73 612.10,329.72 606.30,328.40 C600.50,327.08 593.60,326.38 585.50,325.70 C577.40,325.02 566.95,325.32 557.70,324.30 C548.45,323.28 536.48,320.78 530,319.60 C523.52,318.42 522.85,318.08 518.80,317.20 C514.75,316.32 510.07,315.23 505.70,314.30 C501.33,313.37 496.98,312.48 492.60,311.60 C488.22,310.72 483.78,309.73 479.40,309 C475.02,308.27 470.02,307.53 466.30,307.20 C462.58,306.87 460.38,306.78 457.10,307 C453.82,307.22 449.28,307.67 446.60,308.50 C443.92,309.33 443.10,310.33 441,312 C438.90,313.67 436.25,316.08 434,318.50 C431.75,320.92 429.42,323.75 427.50,326.50 C425.58,329.25 423.83,332.08 422.50,335 C421.17,337.92 420.33,341.17 419.50,344 C418.67,346.83 418.17,349.50 417.50,352 C416.83,354.50 416.12,357 415.50,359 C414.88,361 414.30,362.78 413.80,364 C413.30,365.22 412.92,366.47 412.50,366.30 C412.08,366.13 411.63,364.88 411.30,363 C410.97,361.12 410.72,358.33 410.50,355 C410.28,351.67 410.13,347.17 410,343 C409.87,338.83 409.77,334.17 409.70,330 C409.63,325.83 409.63,322.28 409.60,318 C409.57,313.72 409.52,306.58 409.50,304.30 M620.30,370.20 C617.88,370.08 610.25,370.20 605.80,369.50 C601.35,368.80 597.68,367.60 593.60,366 C589.52,364.40 585.13,361.82 581.30,359.90 C577.47,357.98 575.25,355.72 570.60,354.50 C565.95,353.28 558.60,353.07 553.40,352.60 C548.20,352.13 543.80,351.95 539.40,351.70 C535,351.45 531.42,351.63 527,351.10 C522.58,350.57 518.20,349.97 512.90,348.50 C507.60,347.03 501.08,344.35 495.20,342.30 C489.32,340.25 483.13,338.05 477.60,336.20 C472.07,334.35 466.28,332.32 462,331.20 C457.72,330.08 455.28,329.72 451.90,329.50 C448.52,329.28 444.62,329.30 441.70,329.90 C438.78,330.50 436.35,331.58 434.40,333.10 C432.45,334.62 431.32,337.02 430,339 C428.68,340.98 427.57,342.83 426.50,345 C425.43,347.17 424.47,349.50 423.60,352 C422.73,354.50 422,357 421.30,360 C420.60,363 420.02,366.67 419.40,370 C418.78,373.33 418.13,376.67 417.60,380 C417.07,383.33 416.67,386.67 416.20,390 C415.73,393.33 415.30,396.67 414.80,400 C414.30,403.33 413.73,407 413.20,410 C412.67,413 412.07,415.75 411.60,418 C411.13,420.25 410.70,421.92 410.40,423.50 C410.10,425.08 409.90,426.83 409.80,427.50 M409.90,446.40 C409.48,448.35 408.33,454.50 407.40,458.10 C406.47,461.70 405.02,465.93 404.30,468 C403.58,470.07 403.30,470.08 403.10,470.50 M620.30,411.50 C616.53,413.03 605.85,417.20 597.70,420.70 C589.55,424.20 580.17,428.78 571.40,432.50 C562.63,436.22 553.87,440.50 545.10,443 C536.33,445.50 525.48,447 518.80,447.50 C512.12,448 509.37,446.65 505,446 C500.63,445.35 497.10,444.03 492.60,443.60 C488.10,443.17 482.38,443.58 478,443.40 C473.62,443.22 470.13,442.90 466.30,442.50 C462.47,442.10 458.72,441.85 455,441 C451.28,440.15 447.67,439.65 444,437.40 C440.33,435.15 435.67,429.93 433,427.50 C430.33,425.07 429.38,423.77 428,422.80 C426.62,421.83 425.78,421.58 424.70,421.70 C423.62,421.82 422.40,422.62 421.50,423.50 C420.60,424.38 419.95,425.67 419.30,427 C418.65,428.33 418.02,430.33 417.60,431.50 C417.18,432.67 416.93,433.58 416.80,434 M554.90,522.60 C554.95,521 554.95,516.13 555.20,513 C555.45,509.87 555.68,506.88 556.40,503.80 C557.12,500.72 558.25,497.50 559.50,494.50 C560.75,491.50 562.07,488.80 563.90,485.80 C565.73,482.80 568,479.50 570.50,476.50 C573,473.50 575.82,470.72 578.90,467.80 C581.98,464.88 585.52,461.75 589,459 C592.48,456.25 596.30,453.38 599.80,451.30 C603.30,449.22 606.58,447.92 610,446.50 C613.42,445.08 618.58,443.42 620.30,442.80 M533.70,304.30 C535.58,304.55 540.62,305.15 545,305.80 C549.38,306.45 554.17,307.58 560,308.20 C565.83,308.82 573.33,309.15 580,309.50 C586.67,309.85 593.28,309.92 600,310.30 C606.72,310.68 616.92,311.55 620.30,311.80 M414,304.30 C414,306.25 413.90,313.05 414,316 C414.10,318.95 414.27,320.28 414.60,322 C414.93,323.72 415.43,325.50 416,326.30 C416.57,327.10 417.25,327.60 418,326.80 C418.75,326 419.63,323.28 420.50,321.50 C421.37,319.72 421.82,318.42 423.20,316.10 C424.58,313.78 427.28,309.57 428.80,307.60 C430.32,305.63 431.72,304.85 432.30,304.30 M415.10,304.30 C415.10,305.58 414.98,310.05 415.10,312 C415.22,313.95 415.52,314.92 415.80,316 C416.08,317.08 416.28,317.90 416.80,318.50 C417.32,319.10 418.20,319.68 418.90,319.60 C419.60,319.52 420.17,318.82 421,318 C421.83,317.18 422.48,316.98 423.90,314.70 C425.32,312.42 428.57,306.03 429.50,304.30 M417,304.30 C417.05,305 417.08,307.42 417.30,308.50 C417.52,309.58 417.92,310.30 418.30,310.80 C418.68,311.30 419.12,311.50 419.60,311.50 C420.08,311.50 420.72,311.20 421.20,310.80 C421.68,310.40 421.82,310.18 422.50,309.10 C423.18,308.02 424.83,305.10 425.30,304.30 M410.5,304.3 L410.5,324.0" fill="none" stroke="#000" stroke-width="0.75" stroke-linejoin="round"/>
<text transform="translate(550.5,316.3) rotate(9)" font-size="10.8" text-anchor="middle" dy="3.8">0.5</text>
<text transform="translate(553.3,336.5) rotate(1)" font-size="10.8" text-anchor="middle" dy="3.8">0.4</text>
<text transform="translate(485.1,322.0) rotate(16)" font-size="10.8" text-anchor="middle" dy="3.8">0.4</text>
<text transform="translate(552.6,387.0) rotate(28)" font-size="10.8" text-anchor="middle" dy="3.8">0.3</text>
<text transform="translate(485.0,372.6) rotate(20)" font-size="10.8" text-anchor="middle" dy="3.8">0.3</text>
<text transform="translate(426.2,367.5) rotate(-63)" font-size="10.8" text-anchor="middle" dy="3.8">0.3</text>
<text transform="translate(411.4,437.0) rotate(-80)" font-size="10.8" text-anchor="middle" dy="3.8">0.3</text>
<text transform="translate(425.8,338.8) rotate(-60)" font-size="10.8" text-anchor="middle" dy="3.8">0.4</text>
<text transform="translate(407.4,396.2) rotate(72)" font-size="10.8" text-anchor="middle" dy="3.8">0.4</text>
<text transform="translate(412.2,334.5) rotate(88)" font-size="10.8" text-anchor="middle" dy="3.8">0.5</text>
<text transform="translate(408.6,497.0) rotate(-68)" font-size="10.8" text-anchor="middle" dy="3.8">0.2</text>
</g>
<text x="559.20" y="501.00" font-size="15.0" text-anchor="start" textLength="34.6" lengthAdjust="spacingAndGlyphs">Misfit</text>
<line x1="397.30" y1="522.60" x2="403.10" y2="522.60" stroke="#000" stroke-width="0.9"/>
<line x1="620.30" y1="522.60" x2="626.10" y2="522.60" stroke="#000" stroke-width="0.9"/>
<text x="391.00" y="526.65" font-size="11.3" text-anchor="end" >0.0</text>
<line x1="400.10" y1="495.31" x2="403.10" y2="495.31" stroke="#000" stroke-width="0.9"/>
<line x1="620.30" y1="495.31" x2="623.30" y2="495.31" stroke="#000" stroke-width="0.9"/>
<line x1="397.30" y1="468.03" x2="403.10" y2="468.03" stroke="#000" stroke-width="0.9"/>
<line x1="620.30" y1="468.03" x2="626.10" y2="468.03" stroke="#000" stroke-width="0.9"/>
<text x="391.00" y="472.08" font-size="11.3" text-anchor="end" >0.2</text>
<line x1="400.10" y1="440.74" x2="403.10" y2="440.74" stroke="#000" stroke-width="0.9"/>
<line x1="620.30" y1="440.74" x2="623.30" y2="440.74" stroke="#000" stroke-width="0.9"/>
<line x1="397.30" y1="413.45" x2="403.10" y2="413.45" stroke="#000" stroke-width="0.9"/>
<line x1="620.30" y1="413.45" x2="626.10" y2="413.45" stroke="#000" stroke-width="0.9"/>
<text x="391.00" y="417.50" font-size="11.3" text-anchor="end" >0.4</text>
<line x1="400.10" y1="386.16" x2="403.10" y2="386.16" stroke="#000" stroke-width="0.9"/>
<line x1="620.30" y1="386.16" x2="623.30" y2="386.16" stroke="#000" stroke-width="0.9"/>
<line x1="397.30" y1="358.88" x2="403.10" y2="358.88" stroke="#000" stroke-width="0.9"/>
<line x1="620.30" y1="358.88" x2="626.10" y2="358.88" stroke="#000" stroke-width="0.9"/>
<text x="391.00" y="362.93" font-size="11.3" text-anchor="end" >0.6</text>
<line x1="400.10" y1="331.59" x2="403.10" y2="331.59" stroke="#000" stroke-width="0.9"/>
<line x1="620.30" y1="331.59" x2="623.30" y2="331.59" stroke="#000" stroke-width="0.9"/>
<line x1="397.30" y1="304.30" x2="403.10" y2="304.30" stroke="#000" stroke-width="0.9"/>
<line x1="620.30" y1="304.30" x2="626.10" y2="304.30" stroke="#000" stroke-width="0.9"/>
<text x="391.00" y="308.35" font-size="11.3" text-anchor="end" >0.8</text>
<line x1="422.40" y1="522.60" x2="422.40" y2="525.60" stroke="#000" stroke-width="0.9"/>
<line x1="422.40" y1="301.30" x2="422.40" y2="304.30" stroke="#000" stroke-width="0.9"/>
<line x1="444.40" y1="522.60" x2="444.40" y2="528.40" stroke="#000" stroke-width="0.9"/>
<line x1="444.40" y1="298.50" x2="444.40" y2="304.30" stroke="#000" stroke-width="0.9"/>
<text x="444.40" y="543.40" font-size="11.3" text-anchor="middle" >20</text>
<line x1="466.40" y1="522.60" x2="466.40" y2="525.60" stroke="#000" stroke-width="0.9"/>
<line x1="466.40" y1="301.30" x2="466.40" y2="304.30" stroke="#000" stroke-width="0.9"/>
<line x1="488.40" y1="522.60" x2="488.40" y2="528.40" stroke="#000" stroke-width="0.9"/>
<line x1="488.40" y1="298.50" x2="488.40" y2="304.30" stroke="#000" stroke-width="0.9"/>
<text x="488.40" y="543.40" font-size="11.3" text-anchor="middle" >40</text>
<line x1="510.40" y1="522.60" x2="510.40" y2="525.60" stroke="#000" stroke-width="0.9"/>
<line x1="510.40" y1="301.30" x2="510.40" y2="304.30" stroke="#000" stroke-width="0.9"/>
<line x1="532.40" y1="522.60" x2="532.40" y2="528.40" stroke="#000" stroke-width="0.9"/>
<line x1="532.40" y1="298.50" x2="532.40" y2="304.30" stroke="#000" stroke-width="0.9"/>
<text x="532.40" y="543.40" font-size="11.3" text-anchor="middle" >60</text>
<line x1="554.40" y1="522.60" x2="554.40" y2="525.60" stroke="#000" stroke-width="0.9"/>
<line x1="554.40" y1="301.30" x2="554.40" y2="304.30" stroke="#000" stroke-width="0.9"/>
<line x1="576.40" y1="522.60" x2="576.40" y2="528.40" stroke="#000" stroke-width="0.9"/>
<line x1="576.40" y1="298.50" x2="576.40" y2="304.30" stroke="#000" stroke-width="0.9"/>
<text x="576.40" y="543.40" font-size="11.3" text-anchor="middle" >80</text>
<line x1="598.40" y1="522.60" x2="598.40" y2="525.60" stroke="#000" stroke-width="0.9"/>
<line x1="598.40" y1="301.30" x2="598.40" y2="304.30" stroke="#000" stroke-width="0.9"/>
<line x1="620.40" y1="522.60" x2="620.40" y2="528.40" stroke="#000" stroke-width="0.9"/>
<line x1="620.40" y1="298.50" x2="620.40" y2="304.30" stroke="#000" stroke-width="0.9"/>
<text x="620.40" y="543.40" font-size="11.3" text-anchor="middle" >100</text>
<rect x="403.10" y="304.30" width="217.20" height="218.30" fill="none" stroke="#000" stroke-width="1.9"/>
<text x="509.00" y="563.80" font-size="13.0" text-anchor="middle" >Te (km)</text>
<text transform="translate(365.1,418.2) rotate(-90)" font-size="13.0" text-anchor="middle">F<tspan font-size="9" dy="3.6">2</tspan></text>
<text x="353.8" y="302.9" font-size="16.3" class="pl">d</text>
<!--CBAR-->
<linearGradient id="cbg" x1="0" y1="0" x2="0" y2="1"><stop offset="0.000" stop-color="#f7f7f6"/><stop offset="0.025" stop-color="#f7f7f6"/><stop offset="0.050" stop-color="#f6f6f5"/><stop offset="0.075" stop-color="#f6f6f5"/><stop offset="0.100" stop-color="#f5f5f4"/><stop offset="0.125" stop-color="#f5f5f4"/><stop offset="0.150" stop-color="#f5f5f4"/><stop offset="0.175" stop-color="#f4f4f3"/><stop offset="0.200" stop-color="#f4f4f3"/><stop offset="0.225" stop-color="#f4f4f3"/><stop offset="0.250" stop-color="#f3f3f2"/><stop offset="0.275" stop-color="#f3f3f2"/><stop offset="0.300" stop-color="#f2f2f1"/><stop offset="0.325" stop-color="#f2f2f1"/><stop offset="0.350" stop-color="#f1f1f0"/><stop offset="0.375" stop-color="#f1f1f0"/><stop offset="0.400" stop-color="#f0f0ef"/><stop offset="0.425" stop-color="#f0f0ef"/><stop offset="0.450" stop-color="#efefee"/><stop offset="0.475" stop-color="#eeeeed"/><stop offset="0.500" stop-color="#ededec"/><stop offset="0.525" stop-color="#ececeb"/><stop offset="0.550" stop-color="#ebebea"/><stop offset="0.575" stop-color="#e9e9e8"/><stop offset="0.600" stop-color="#e8e7e6"/><stop offset="0.625" stop-color="#e7e6e5"/><stop offset="0.650" stop-color="#e5e4e3"/><stop offset="0.675" stop-color="#e3e1e0"/><stop offset="0.700" stop-color="#e1dedd"/><stop offset="0.725" stop-color="#dfdbd9"/><stop offset="0.750" stop-color="#ddd6d3"/><stop offset="0.775" stop-color="#dbcfc9"/><stop offset="0.800" stop-color="#d7c1b4"/><stop offset="0.825" stop-color="#d6bbaa"/><stop offset="0.850" stop-color="#d5bba9"/><stop offset="0.875" stop-color="#d2bdaa"/><stop offset="0.900" stop-color="#cbc0ac"/><stop offset="0.925" stop-color="#c0c3ac"/><stop offset="0.950" stop-color="#abc0a7"/><stop offset="0.975" stop-color="#90b49b"/><stop offset="1.000" stop-color="#74a48d"/></linearGradient>
<rect x="647.7" y="304.3" width="8.099999999999909" height="218.3" fill="url(#cbg)"/>
<rect x="647.7" y="304.3" width="8.099999999999909" height="218.3" fill="none" stroke="#000" stroke-width="2"/>
<line x1="656.80" y1="510.30" x2="662.60" y2="510.30" stroke="#000" stroke-width="0.9"/>
<text x="668.20" y="514.35" font-size="11.3" text-anchor="start" >0.2</text>
<line x1="656.80" y1="476.80" x2="659.80" y2="476.80" stroke="#000" stroke-width="0.9"/>
<line x1="656.80" y1="443.30" x2="662.60" y2="443.30" stroke="#000" stroke-width="0.9"/>
<text x="668.20" y="447.35" font-size="11.3" text-anchor="start" >0.4</text>
<line x1="656.80" y1="409.80" x2="659.80" y2="409.80" stroke="#000" stroke-width="0.9"/>
<line x1="656.80" y1="376.30" x2="662.60" y2="376.30" stroke="#000" stroke-width="0.9"/>
<text x="668.20" y="380.35" font-size="11.3" text-anchor="start" >0.6</text>
<line x1="656.80" y1="342.80" x2="659.80" y2="342.80" stroke="#000" stroke-width="0.9"/>
<line x1="656.80" y1="309.30" x2="662.60" y2="309.30" stroke="#000" stroke-width="0.9"/>
<text x="668.20" y="313.35" font-size="11.3" text-anchor="start" >0.8</text>
<text x="651.90" y="298.60" font-size="11.2" text-anchor="middle" >Misfit</text>
</svg>
</body></html>
